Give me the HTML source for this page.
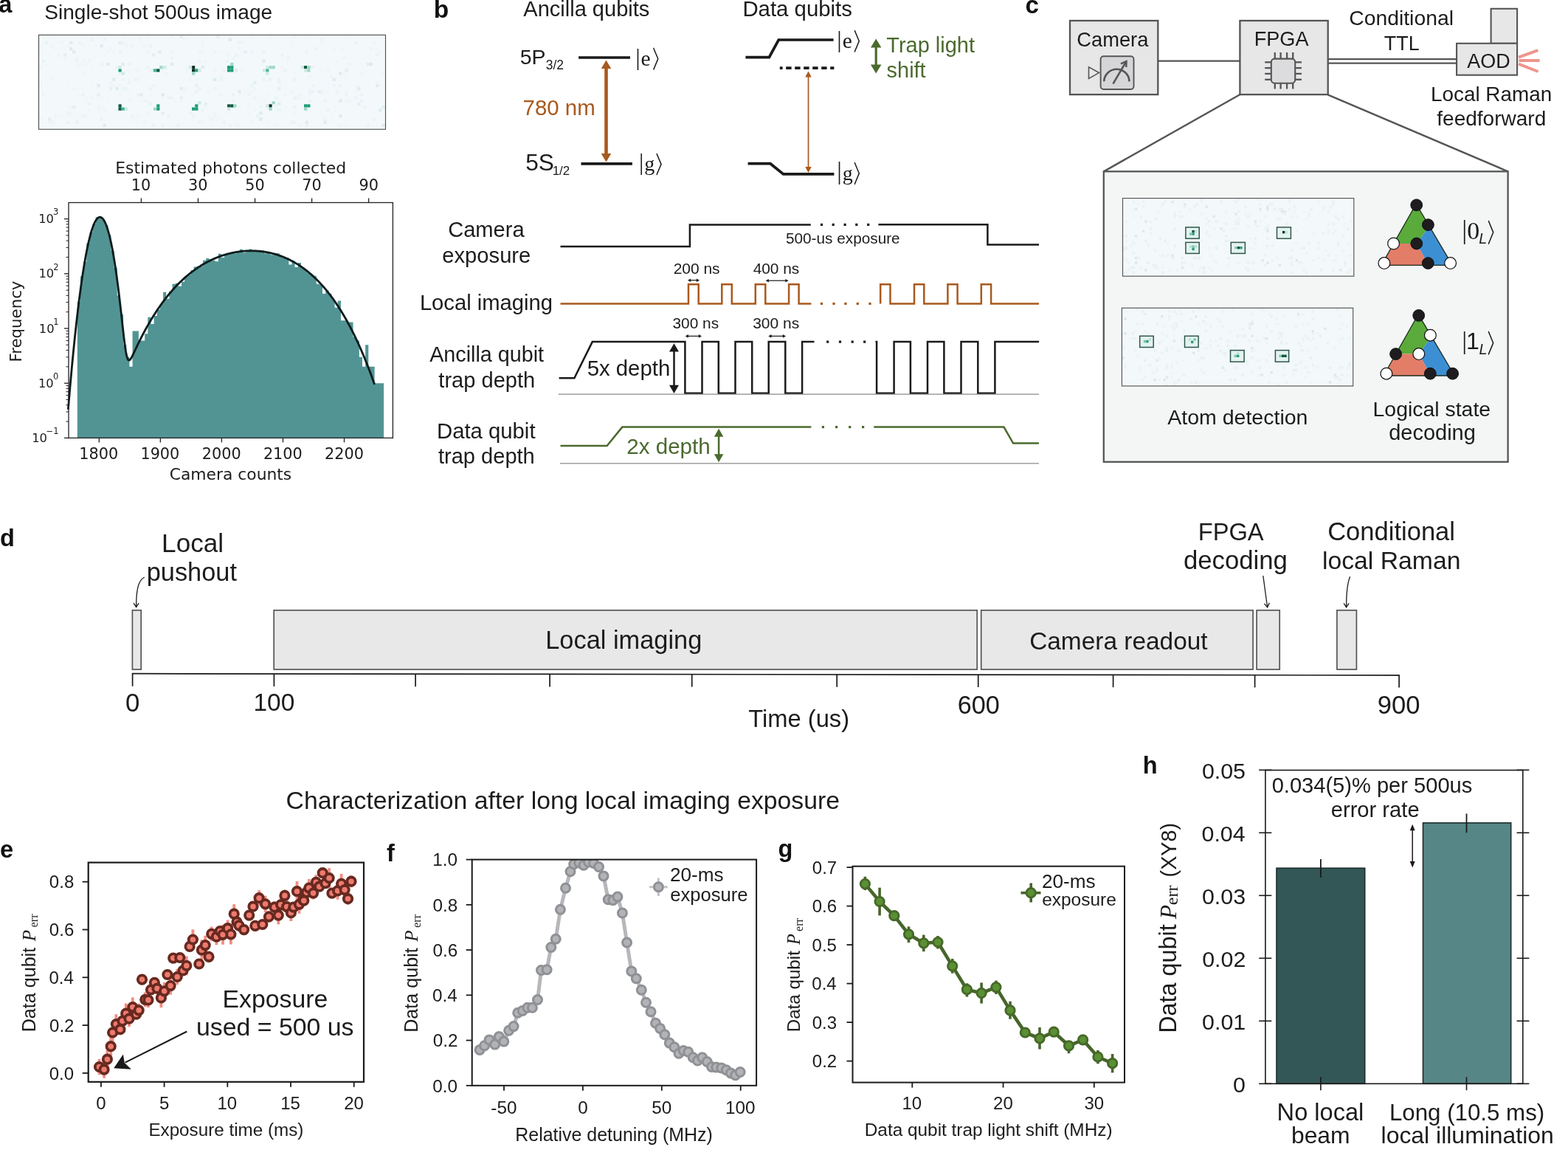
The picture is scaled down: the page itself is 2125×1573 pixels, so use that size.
<!DOCTYPE html>
<html><head><meta charset="utf-8"><title>figure</title>
<style>html,body{margin:0;padding:0;background:#fff;overflow:hidden}svg{display:block}text{font-family:"Liberation Sans",Arial,sans-serif;}</style></head>
<body>
<svg width="2125" height="1573" viewBox="0 0 2125 1573">
<rect x="0" y="0" width="2125" height="1573" fill="#ffffff"/>
<text x="-1.68" y="17.20" style="font-family:'Liberation Sans', Arial, sans-serif;font-size:32.50px;font-weight:bold" fill="#111">a</text>
<text x="60.24" y="26.40" style="font-family:'Liberation Sans', Arial, sans-serif;font-size:28.07px" fill="#1c1c1c">Single-shot 500us image</text>
<rect x="52.50" y="47.40" width="470.00" height="127.80" fill="#f3f9fb" stroke="none" stroke-width="0.00"/>
<rect x="52.50" y="59.85" width="4.35" height="4.35" fill="#edf5f7" stroke="none" stroke-width="0.00"/>
<rect x="52.50" y="68.15" width="4.35" height="4.35" fill="#eef6f8" stroke="none" stroke-width="0.00"/>
<rect x="52.50" y="72.30" width="4.35" height="4.35" fill="#f0f7f9" stroke="none" stroke-width="0.00"/>
<rect x="52.50" y="88.90" width="4.35" height="4.35" fill="#edf5f7" stroke="none" stroke-width="0.00"/>
<rect x="52.50" y="105.50" width="4.35" height="4.35" fill="#f0f7f9" stroke="none" stroke-width="0.00"/>
<rect x="52.50" y="109.65" width="4.35" height="4.35" fill="#eef6f8" stroke="none" stroke-width="0.00"/>
<rect x="52.50" y="113.80" width="4.35" height="4.35" fill="#eef6f8" stroke="none" stroke-width="0.00"/>
<rect x="52.50" y="159.45" width="4.35" height="4.35" fill="#edf5f7" stroke="none" stroke-width="0.00"/>
<rect x="56.65" y="80.60" width="4.35" height="4.35" fill="#eaf3f5" stroke="none" stroke-width="0.00"/>
<rect x="56.65" y="126.25" width="4.35" height="4.35" fill="#edf5f7" stroke="none" stroke-width="0.00"/>
<rect x="60.80" y="55.70" width="4.35" height="4.35" fill="#eaf3f5" stroke="none" stroke-width="0.00"/>
<rect x="60.80" y="84.75" width="4.35" height="4.35" fill="#f0f7f9" stroke="none" stroke-width="0.00"/>
<rect x="64.95" y="47.40" width="4.35" height="4.35" fill="#eef6f8" stroke="none" stroke-width="0.00"/>
<rect x="64.95" y="72.30" width="4.35" height="4.35" fill="#f0f7f9" stroke="none" stroke-width="0.00"/>
<rect x="64.95" y="159.45" width="4.35" height="4.35" fill="#e3eff1" stroke="none" stroke-width="0.00"/>
<rect x="64.95" y="163.60" width="4.35" height="4.35" fill="#edf5f7" stroke="none" stroke-width="0.00"/>
<rect x="69.10" y="59.85" width="4.35" height="4.35" fill="#eef6f8" stroke="none" stroke-width="0.00"/>
<rect x="69.10" y="105.50" width="4.35" height="4.35" fill="#edf5f7" stroke="none" stroke-width="0.00"/>
<rect x="69.10" y="163.60" width="4.35" height="4.35" fill="#eaf3f5" stroke="none" stroke-width="0.00"/>
<rect x="73.25" y="155.30" width="4.35" height="4.35" fill="#edf5f7" stroke="none" stroke-width="0.00"/>
<rect x="77.40" y="72.30" width="4.35" height="4.35" fill="#edf5f7" stroke="none" stroke-width="0.00"/>
<rect x="81.55" y="55.70" width="4.35" height="4.35" fill="#edf5f7" stroke="none" stroke-width="0.00"/>
<rect x="81.55" y="155.30" width="4.35" height="4.35" fill="#f0f7f9" stroke="none" stroke-width="0.00"/>
<rect x="85.70" y="64.00" width="4.35" height="4.35" fill="#f0f7f9" stroke="none" stroke-width="0.00"/>
<rect x="85.70" y="72.30" width="4.35" height="4.35" fill="#e3eff1" stroke="none" stroke-width="0.00"/>
<rect x="85.70" y="76.45" width="4.35" height="4.35" fill="#eef6f8" stroke="none" stroke-width="0.00"/>
<rect x="89.85" y="59.85" width="4.35" height="4.35" fill="#eef6f8" stroke="none" stroke-width="0.00"/>
<rect x="89.85" y="113.80" width="4.35" height="4.35" fill="#f0f7f9" stroke="none" stroke-width="0.00"/>
<rect x="89.85" y="151.15" width="4.35" height="4.35" fill="#eaf3f5" stroke="none" stroke-width="0.00"/>
<rect x="89.85" y="155.30" width="4.35" height="4.35" fill="#f0f7f9" stroke="none" stroke-width="0.00"/>
<rect x="89.85" y="163.60" width="4.35" height="4.35" fill="#eaf3f5" stroke="none" stroke-width="0.00"/>
<rect x="94.00" y="55.70" width="4.35" height="4.35" fill="#e0ecef" stroke="none" stroke-width="0.00"/>
<rect x="94.00" y="64.00" width="4.35" height="4.35" fill="#ddece9" stroke="none" stroke-width="0.00"/>
<rect x="94.00" y="142.85" width="4.35" height="4.35" fill="#edf5f7" stroke="none" stroke-width="0.00"/>
<rect x="94.00" y="151.15" width="4.35" height="4.35" fill="#eef6f8" stroke="none" stroke-width="0.00"/>
<rect x="94.00" y="155.30" width="4.35" height="4.35" fill="#edf5f7" stroke="none" stroke-width="0.00"/>
<rect x="98.15" y="68.15" width="4.35" height="4.35" fill="#e0ecef" stroke="none" stroke-width="0.00"/>
<rect x="98.15" y="117.95" width="4.35" height="4.35" fill="#edf5f7" stroke="none" stroke-width="0.00"/>
<rect x="98.15" y="142.85" width="4.35" height="4.35" fill="#e3eff1" stroke="none" stroke-width="0.00"/>
<rect x="102.30" y="76.45" width="4.35" height="4.35" fill="#eef6f8" stroke="none" stroke-width="0.00"/>
<rect x="102.30" y="80.60" width="4.35" height="4.35" fill="#eaf3f5" stroke="none" stroke-width="0.00"/>
<rect x="102.30" y="88.90" width="4.35" height="4.35" fill="#f0f7f9" stroke="none" stroke-width="0.00"/>
<rect x="102.30" y="159.45" width="4.35" height="4.35" fill="#f0f7f9" stroke="none" stroke-width="0.00"/>
<rect x="102.30" y="163.60" width="4.35" height="4.35" fill="#eaf3f5" stroke="none" stroke-width="0.00"/>
<rect x="106.45" y="55.70" width="4.35" height="4.35" fill="#eaf3f5" stroke="none" stroke-width="0.00"/>
<rect x="106.45" y="84.75" width="4.35" height="4.35" fill="#eef6f8" stroke="none" stroke-width="0.00"/>
<rect x="106.45" y="126.25" width="4.35" height="4.35" fill="#f0f7f9" stroke="none" stroke-width="0.00"/>
<rect x="110.60" y="59.85" width="4.35" height="4.35" fill="#eef6f8" stroke="none" stroke-width="0.00"/>
<rect x="110.60" y="80.60" width="4.35" height="4.35" fill="#edf5f7" stroke="none" stroke-width="0.00"/>
<rect x="110.60" y="97.20" width="4.35" height="4.35" fill="#edf5f7" stroke="none" stroke-width="0.00"/>
<rect x="110.60" y="117.95" width="4.35" height="4.35" fill="#f0f7f9" stroke="none" stroke-width="0.00"/>
<rect x="110.60" y="126.25" width="4.35" height="4.35" fill="#eaf3f5" stroke="none" stroke-width="0.00"/>
<rect x="110.60" y="155.30" width="4.35" height="4.35" fill="#eaf3f5" stroke="none" stroke-width="0.00"/>
<rect x="114.75" y="47.40" width="4.35" height="4.35" fill="#eef6f8" stroke="none" stroke-width="0.00"/>
<rect x="114.75" y="84.75" width="4.35" height="4.35" fill="#eef6f8" stroke="none" stroke-width="0.00"/>
<rect x="114.75" y="130.40" width="4.35" height="4.35" fill="#f0f7f9" stroke="none" stroke-width="0.00"/>
<rect x="114.75" y="134.55" width="4.35" height="4.35" fill="#f0f7f9" stroke="none" stroke-width="0.00"/>
<rect x="114.75" y="155.30" width="4.35" height="4.35" fill="#edf5f7" stroke="none" stroke-width="0.00"/>
<rect x="118.90" y="80.60" width="4.35" height="4.35" fill="#edf5f7" stroke="none" stroke-width="0.00"/>
<rect x="118.90" y="138.70" width="4.35" height="4.35" fill="#eaf3f5" stroke="none" stroke-width="0.00"/>
<rect x="118.90" y="147.00" width="4.35" height="4.35" fill="#f0f7f9" stroke="none" stroke-width="0.00"/>
<rect x="123.05" y="47.40" width="4.35" height="4.35" fill="#edf5f7" stroke="none" stroke-width="0.00"/>
<rect x="123.05" y="51.55" width="4.35" height="4.35" fill="#eaf3f5" stroke="none" stroke-width="0.00"/>
<rect x="123.05" y="88.90" width="4.35" height="4.35" fill="#f0f7f9" stroke="none" stroke-width="0.00"/>
<rect x="123.05" y="109.65" width="4.35" height="4.35" fill="#f0f7f9" stroke="none" stroke-width="0.00"/>
<rect x="123.05" y="130.40" width="4.35" height="4.35" fill="#eef6f8" stroke="none" stroke-width="0.00"/>
<rect x="127.20" y="59.85" width="4.35" height="4.35" fill="#f0f7f9" stroke="none" stroke-width="0.00"/>
<rect x="127.20" y="117.95" width="4.35" height="4.35" fill="#f0f7f9" stroke="none" stroke-width="0.00"/>
<rect x="131.35" y="47.40" width="4.35" height="4.35" fill="#eef6f8" stroke="none" stroke-width="0.00"/>
<rect x="131.35" y="101.35" width="4.35" height="4.35" fill="#f0f7f9" stroke="none" stroke-width="0.00"/>
<rect x="131.35" y="113.80" width="4.35" height="4.35" fill="#e0ecef" stroke="none" stroke-width="0.00"/>
<rect x="131.35" y="126.25" width="4.35" height="4.35" fill="#e3eff1" stroke="none" stroke-width="0.00"/>
<rect x="131.35" y="142.85" width="4.35" height="4.35" fill="#edf5f7" stroke="none" stroke-width="0.00"/>
<rect x="131.35" y="147.00" width="4.35" height="4.35" fill="#eef6f8" stroke="none" stroke-width="0.00"/>
<rect x="135.50" y="59.85" width="4.35" height="4.35" fill="#e0ecef" stroke="none" stroke-width="0.00"/>
<rect x="135.50" y="84.75" width="4.35" height="4.35" fill="#eaf3f5" stroke="none" stroke-width="0.00"/>
<rect x="135.50" y="117.95" width="4.35" height="4.35" fill="#f0f7f9" stroke="none" stroke-width="0.00"/>
<rect x="135.50" y="130.40" width="4.35" height="4.35" fill="#f0f7f9" stroke="none" stroke-width="0.00"/>
<rect x="135.50" y="142.85" width="4.35" height="4.35" fill="#eef6f8" stroke="none" stroke-width="0.00"/>
<rect x="135.50" y="159.45" width="4.35" height="4.35" fill="#eaf3f5" stroke="none" stroke-width="0.00"/>
<rect x="139.65" y="51.55" width="4.35" height="4.35" fill="#eaf3f5" stroke="none" stroke-width="0.00"/>
<rect x="139.65" y="147.00" width="4.35" height="4.35" fill="#edf5f7" stroke="none" stroke-width="0.00"/>
<rect x="139.65" y="167.75" width="4.35" height="4.35" fill="#e0ecef" stroke="none" stroke-width="0.00"/>
<rect x="143.80" y="68.15" width="4.35" height="4.35" fill="#f0f7f9" stroke="none" stroke-width="0.00"/>
<rect x="143.80" y="84.75" width="4.35" height="4.35" fill="#e0ecef" stroke="none" stroke-width="0.00"/>
<rect x="143.80" y="130.40" width="4.35" height="4.35" fill="#f0f7f9" stroke="none" stroke-width="0.00"/>
<rect x="147.95" y="64.00" width="4.35" height="4.35" fill="#eef6f8" stroke="none" stroke-width="0.00"/>
<rect x="147.95" y="109.65" width="4.35" height="4.35" fill="#edf5f7" stroke="none" stroke-width="0.00"/>
<rect x="147.95" y="113.80" width="4.35" height="4.35" fill="#eef6f8" stroke="none" stroke-width="0.00"/>
<rect x="147.95" y="117.95" width="4.35" height="4.35" fill="#e3eff1" stroke="none" stroke-width="0.00"/>
<rect x="152.10" y="68.15" width="4.35" height="4.35" fill="#eef6f8" stroke="none" stroke-width="0.00"/>
<rect x="152.10" y="105.50" width="4.35" height="4.35" fill="#e0ecef" stroke="none" stroke-width="0.00"/>
<rect x="152.10" y="113.80" width="4.35" height="4.35" fill="#edf5f7" stroke="none" stroke-width="0.00"/>
<rect x="156.25" y="88.90" width="4.35" height="4.35" fill="#eaf3f5" stroke="none" stroke-width="0.00"/>
<rect x="156.25" y="117.95" width="4.35" height="4.35" fill="#ddece9" stroke="none" stroke-width="0.00"/>
<rect x="156.25" y="147.00" width="4.35" height="4.35" fill="#eef6f8" stroke="none" stroke-width="0.00"/>
<rect x="160.40" y="55.70" width="4.35" height="4.35" fill="#e3eff1" stroke="none" stroke-width="0.00"/>
<rect x="160.40" y="68.15" width="4.35" height="4.35" fill="#eaf3f5" stroke="none" stroke-width="0.00"/>
<rect x="160.40" y="97.20" width="4.35" height="4.35" fill="#eaf3f5" stroke="none" stroke-width="0.00"/>
<rect x="160.40" y="113.80" width="4.35" height="4.35" fill="#edf5f7" stroke="none" stroke-width="0.00"/>
<rect x="160.40" y="126.25" width="4.35" height="4.35" fill="#edf5f7" stroke="none" stroke-width="0.00"/>
<rect x="164.55" y="47.40" width="4.35" height="4.35" fill="#eaf3f5" stroke="none" stroke-width="0.00"/>
<rect x="164.55" y="55.70" width="4.35" height="4.35" fill="#eaf3f5" stroke="none" stroke-width="0.00"/>
<rect x="164.55" y="84.75" width="4.35" height="4.35" fill="#e0ecef" stroke="none" stroke-width="0.00"/>
<rect x="164.55" y="105.50" width="4.35" height="4.35" fill="#eef6f8" stroke="none" stroke-width="0.00"/>
<rect x="164.55" y="117.95" width="4.35" height="4.35" fill="#eaf3f5" stroke="none" stroke-width="0.00"/>
<rect x="164.55" y="142.85" width="4.35" height="4.35" fill="#f0f7f9" stroke="none" stroke-width="0.00"/>
<rect x="168.70" y="55.70" width="4.35" height="4.35" fill="#f0f7f9" stroke="none" stroke-width="0.00"/>
<rect x="168.70" y="59.85" width="4.35" height="4.35" fill="#eef6f8" stroke="none" stroke-width="0.00"/>
<rect x="168.70" y="93.05" width="4.35" height="4.35" fill="#eef6f8" stroke="none" stroke-width="0.00"/>
<rect x="168.70" y="117.95" width="4.35" height="4.35" fill="#edf5f7" stroke="none" stroke-width="0.00"/>
<rect x="172.85" y="51.55" width="4.35" height="4.35" fill="#f0f7f9" stroke="none" stroke-width="0.00"/>
<rect x="172.85" y="84.75" width="4.35" height="4.35" fill="#eaf3f5" stroke="none" stroke-width="0.00"/>
<rect x="172.85" y="93.05" width="4.35" height="4.35" fill="#f0f7f9" stroke="none" stroke-width="0.00"/>
<rect x="172.85" y="105.50" width="4.35" height="4.35" fill="#eef6f8" stroke="none" stroke-width="0.00"/>
<rect x="172.85" y="109.65" width="4.35" height="4.35" fill="#eaf3f5" stroke="none" stroke-width="0.00"/>
<rect x="172.85" y="122.10" width="4.35" height="4.35" fill="#f0f7f9" stroke="none" stroke-width="0.00"/>
<rect x="172.85" y="134.55" width="4.35" height="4.35" fill="#edf5f7" stroke="none" stroke-width="0.00"/>
<rect x="177.00" y="59.85" width="4.35" height="4.35" fill="#eaf3f5" stroke="none" stroke-width="0.00"/>
<rect x="177.00" y="155.30" width="4.35" height="4.35" fill="#eaf3f5" stroke="none" stroke-width="0.00"/>
<rect x="181.15" y="93.05" width="4.35" height="4.35" fill="#eef6f8" stroke="none" stroke-width="0.00"/>
<rect x="181.15" y="105.50" width="4.35" height="4.35" fill="#eaf3f5" stroke="none" stroke-width="0.00"/>
<rect x="181.15" y="159.45" width="4.35" height="4.35" fill="#f0f7f9" stroke="none" stroke-width="0.00"/>
<rect x="185.30" y="47.40" width="4.35" height="4.35" fill="#edf5f7" stroke="none" stroke-width="0.00"/>
<rect x="185.30" y="93.05" width="4.35" height="4.35" fill="#eef6f8" stroke="none" stroke-width="0.00"/>
<rect x="185.30" y="105.50" width="4.35" height="4.35" fill="#eef6f8" stroke="none" stroke-width="0.00"/>
<rect x="185.30" y="126.25" width="4.35" height="4.35" fill="#eaf3f5" stroke="none" stroke-width="0.00"/>
<rect x="185.30" y="155.30" width="4.35" height="4.35" fill="#edf5f7" stroke="none" stroke-width="0.00"/>
<rect x="189.45" y="47.40" width="4.35" height="4.35" fill="#edf5f7" stroke="none" stroke-width="0.00"/>
<rect x="189.45" y="51.55" width="4.35" height="4.35" fill="#eef6f8" stroke="none" stroke-width="0.00"/>
<rect x="189.45" y="93.05" width="4.35" height="4.35" fill="#f0f7f9" stroke="none" stroke-width="0.00"/>
<rect x="189.45" y="101.35" width="4.35" height="4.35" fill="#f0f7f9" stroke="none" stroke-width="0.00"/>
<rect x="189.45" y="126.25" width="4.35" height="4.35" fill="#e0ecef" stroke="none" stroke-width="0.00"/>
<rect x="189.45" y="155.30" width="4.35" height="4.35" fill="#f0f7f9" stroke="none" stroke-width="0.00"/>
<rect x="193.60" y="59.85" width="4.35" height="4.35" fill="#edf5f7" stroke="none" stroke-width="0.00"/>
<rect x="193.60" y="134.55" width="4.35" height="4.35" fill="#edf5f7" stroke="none" stroke-width="0.00"/>
<rect x="193.60" y="163.60" width="4.35" height="4.35" fill="#eef6f8" stroke="none" stroke-width="0.00"/>
<rect x="197.75" y="47.40" width="4.35" height="4.35" fill="#edf5f7" stroke="none" stroke-width="0.00"/>
<rect x="197.75" y="68.15" width="4.35" height="4.35" fill="#eef6f8" stroke="none" stroke-width="0.00"/>
<rect x="197.75" y="88.90" width="4.35" height="4.35" fill="#eaf3f5" stroke="none" stroke-width="0.00"/>
<rect x="197.75" y="134.55" width="4.35" height="4.35" fill="#edf5f7" stroke="none" stroke-width="0.00"/>
<rect x="197.75" y="151.15" width="4.35" height="4.35" fill="#edf5f7" stroke="none" stroke-width="0.00"/>
<rect x="201.90" y="59.85" width="4.35" height="4.35" fill="#eaf3f5" stroke="none" stroke-width="0.00"/>
<rect x="201.90" y="93.05" width="4.35" height="4.35" fill="#edf5f7" stroke="none" stroke-width="0.00"/>
<rect x="201.90" y="117.95" width="4.35" height="4.35" fill="#eaf3f5" stroke="none" stroke-width="0.00"/>
<rect x="201.90" y="126.25" width="4.35" height="4.35" fill="#eef6f8" stroke="none" stroke-width="0.00"/>
<rect x="201.90" y="138.70" width="4.35" height="4.35" fill="#eaf3f5" stroke="none" stroke-width="0.00"/>
<rect x="206.05" y="72.30" width="4.35" height="4.35" fill="#e3eff1" stroke="none" stroke-width="0.00"/>
<rect x="206.05" y="93.05" width="4.35" height="4.35" fill="#ddece9" stroke="none" stroke-width="0.00"/>
<rect x="206.05" y="113.80" width="4.35" height="4.35" fill="#edf5f7" stroke="none" stroke-width="0.00"/>
<rect x="206.05" y="167.75" width="4.35" height="4.35" fill="#eaf3f5" stroke="none" stroke-width="0.00"/>
<rect x="214.35" y="68.15" width="4.35" height="4.35" fill="#e0ecef" stroke="none" stroke-width="0.00"/>
<rect x="214.35" y="84.75" width="4.35" height="4.35" fill="#f0f7f9" stroke="none" stroke-width="0.00"/>
<rect x="218.50" y="64.00" width="4.35" height="4.35" fill="#f0f7f9" stroke="none" stroke-width="0.00"/>
<rect x="218.50" y="93.05" width="4.35" height="4.35" fill="#f0f7f9" stroke="none" stroke-width="0.00"/>
<rect x="218.50" y="117.95" width="4.35" height="4.35" fill="#f0f7f9" stroke="none" stroke-width="0.00"/>
<rect x="218.50" y="126.25" width="4.35" height="4.35" fill="#ddece9" stroke="none" stroke-width="0.00"/>
<rect x="218.50" y="151.15" width="4.35" height="4.35" fill="#e3eff1" stroke="none" stroke-width="0.00"/>
<rect x="218.50" y="167.75" width="4.35" height="4.35" fill="#eaf3f5" stroke="none" stroke-width="0.00"/>
<rect x="222.65" y="88.90" width="4.35" height="4.35" fill="#eaf3f5" stroke="none" stroke-width="0.00"/>
<rect x="222.65" y="97.20" width="4.35" height="4.35" fill="#edf5f7" stroke="none" stroke-width="0.00"/>
<rect x="226.80" y="130.40" width="4.35" height="4.35" fill="#eaf3f5" stroke="none" stroke-width="0.00"/>
<rect x="226.80" y="155.30" width="4.35" height="4.35" fill="#eaf3f5" stroke="none" stroke-width="0.00"/>
<rect x="230.95" y="47.40" width="4.35" height="4.35" fill="#eaf3f5" stroke="none" stroke-width="0.00"/>
<rect x="230.95" y="68.15" width="4.35" height="4.35" fill="#edf5f7" stroke="none" stroke-width="0.00"/>
<rect x="230.95" y="76.45" width="4.35" height="4.35" fill="#eaf3f5" stroke="none" stroke-width="0.00"/>
<rect x="230.95" y="84.75" width="4.35" height="4.35" fill="#e0ecef" stroke="none" stroke-width="0.00"/>
<rect x="230.95" y="130.40" width="4.35" height="4.35" fill="#eaf3f5" stroke="none" stroke-width="0.00"/>
<rect x="235.10" y="55.70" width="4.35" height="4.35" fill="#f0f7f9" stroke="none" stroke-width="0.00"/>
<rect x="235.10" y="134.55" width="4.35" height="4.35" fill="#edf5f7" stroke="none" stroke-width="0.00"/>
<rect x="235.10" y="167.75" width="4.35" height="4.35" fill="#f0f7f9" stroke="none" stroke-width="0.00"/>
<rect x="239.25" y="159.45" width="4.35" height="4.35" fill="#f0f7f9" stroke="none" stroke-width="0.00"/>
<rect x="239.25" y="167.75" width="4.35" height="4.35" fill="#eaf3f5" stroke="none" stroke-width="0.00"/>
<rect x="243.40" y="47.40" width="4.35" height="4.35" fill="#e0ecef" stroke="none" stroke-width="0.00"/>
<rect x="243.40" y="117.95" width="4.35" height="4.35" fill="#e0ecef" stroke="none" stroke-width="0.00"/>
<rect x="243.40" y="130.40" width="4.35" height="4.35" fill="#e3eff1" stroke="none" stroke-width="0.00"/>
<rect x="243.40" y="134.55" width="4.35" height="4.35" fill="#eef6f8" stroke="none" stroke-width="0.00"/>
<rect x="247.55" y="51.55" width="4.35" height="4.35" fill="#edf5f7" stroke="none" stroke-width="0.00"/>
<rect x="247.55" y="76.45" width="4.35" height="4.35" fill="#f0f7f9" stroke="none" stroke-width="0.00"/>
<rect x="247.55" y="105.50" width="4.35" height="4.35" fill="#f0f7f9" stroke="none" stroke-width="0.00"/>
<rect x="247.55" y="117.95" width="4.35" height="4.35" fill="#edf5f7" stroke="none" stroke-width="0.00"/>
<rect x="247.55" y="122.10" width="4.35" height="4.35" fill="#edf5f7" stroke="none" stroke-width="0.00"/>
<rect x="251.70" y="88.90" width="4.35" height="4.35" fill="#edf5f7" stroke="none" stroke-width="0.00"/>
<rect x="251.70" y="93.05" width="4.35" height="4.35" fill="#edf5f7" stroke="none" stroke-width="0.00"/>
<rect x="255.85" y="105.50" width="4.35" height="4.35" fill="#eef6f8" stroke="none" stroke-width="0.00"/>
<rect x="255.85" y="151.15" width="4.35" height="4.35" fill="#eaf3f5" stroke="none" stroke-width="0.00"/>
<rect x="260.00" y="126.25" width="4.35" height="4.35" fill="#f0f7f9" stroke="none" stroke-width="0.00"/>
<rect x="260.00" y="155.30" width="4.35" height="4.35" fill="#eaf3f5" stroke="none" stroke-width="0.00"/>
<rect x="264.15" y="105.50" width="4.35" height="4.35" fill="#f0f7f9" stroke="none" stroke-width="0.00"/>
<rect x="264.15" y="113.80" width="4.35" height="4.35" fill="#e3eff1" stroke="none" stroke-width="0.00"/>
<rect x="264.15" y="122.10" width="4.35" height="4.35" fill="#eaf3f5" stroke="none" stroke-width="0.00"/>
<rect x="264.15" y="138.70" width="4.35" height="4.35" fill="#edf5f7" stroke="none" stroke-width="0.00"/>
<rect x="268.30" y="47.40" width="4.35" height="4.35" fill="#f0f7f9" stroke="none" stroke-width="0.00"/>
<rect x="268.30" y="68.15" width="4.35" height="4.35" fill="#eef6f8" stroke="none" stroke-width="0.00"/>
<rect x="268.30" y="80.60" width="4.35" height="4.35" fill="#edf5f7" stroke="none" stroke-width="0.00"/>
<rect x="268.30" y="105.50" width="4.35" height="4.35" fill="#f0f7f9" stroke="none" stroke-width="0.00"/>
<rect x="268.30" y="117.95" width="4.35" height="4.35" fill="#eaf3f5" stroke="none" stroke-width="0.00"/>
<rect x="268.30" y="163.60" width="4.35" height="4.35" fill="#eaf3f5" stroke="none" stroke-width="0.00"/>
<rect x="272.45" y="47.40" width="4.35" height="4.35" fill="#edf5f7" stroke="none" stroke-width="0.00"/>
<rect x="272.45" y="55.70" width="4.35" height="4.35" fill="#f0f7f9" stroke="none" stroke-width="0.00"/>
<rect x="272.45" y="59.85" width="4.35" height="4.35" fill="#eef6f8" stroke="none" stroke-width="0.00"/>
<rect x="272.45" y="68.15" width="4.35" height="4.35" fill="#eef6f8" stroke="none" stroke-width="0.00"/>
<rect x="272.45" y="88.90" width="4.35" height="4.35" fill="#ddece9" stroke="none" stroke-width="0.00"/>
<rect x="272.45" y="147.00" width="4.35" height="4.35" fill="#eaf3f5" stroke="none" stroke-width="0.00"/>
<rect x="272.45" y="163.60" width="4.35" height="4.35" fill="#f0f7f9" stroke="none" stroke-width="0.00"/>
<rect x="276.60" y="80.60" width="4.35" height="4.35" fill="#f0f7f9" stroke="none" stroke-width="0.00"/>
<rect x="276.60" y="138.70" width="4.35" height="4.35" fill="#e3eff1" stroke="none" stroke-width="0.00"/>
<rect x="276.60" y="142.85" width="4.35" height="4.35" fill="#eef6f8" stroke="none" stroke-width="0.00"/>
<rect x="280.75" y="122.10" width="4.35" height="4.35" fill="#f0f7f9" stroke="none" stroke-width="0.00"/>
<rect x="280.75" y="155.30" width="4.35" height="4.35" fill="#edf5f7" stroke="none" stroke-width="0.00"/>
<rect x="284.90" y="72.30" width="4.35" height="4.35" fill="#f0f7f9" stroke="none" stroke-width="0.00"/>
<rect x="284.90" y="105.50" width="4.35" height="4.35" fill="#f0f7f9" stroke="none" stroke-width="0.00"/>
<rect x="284.90" y="151.15" width="4.35" height="4.35" fill="#f0f7f9" stroke="none" stroke-width="0.00"/>
<rect x="284.90" y="159.45" width="4.35" height="4.35" fill="#eaf3f5" stroke="none" stroke-width="0.00"/>
<rect x="289.05" y="68.15" width="4.35" height="4.35" fill="#edf5f7" stroke="none" stroke-width="0.00"/>
<rect x="289.05" y="93.05" width="4.35" height="4.35" fill="#edf5f7" stroke="none" stroke-width="0.00"/>
<rect x="289.05" y="105.50" width="4.35" height="4.35" fill="#ddece9" stroke="none" stroke-width="0.00"/>
<rect x="289.05" y="117.95" width="4.35" height="4.35" fill="#eef6f8" stroke="none" stroke-width="0.00"/>
<rect x="289.05" y="151.15" width="4.35" height="4.35" fill="#eef6f8" stroke="none" stroke-width="0.00"/>
<rect x="289.05" y="155.30" width="4.35" height="4.35" fill="#edf5f7" stroke="none" stroke-width="0.00"/>
<rect x="293.20" y="47.40" width="4.35" height="4.35" fill="#e0ecef" stroke="none" stroke-width="0.00"/>
<rect x="293.20" y="159.45" width="4.35" height="4.35" fill="#eef6f8" stroke="none" stroke-width="0.00"/>
<rect x="297.35" y="68.15" width="4.35" height="4.35" fill="#f0f7f9" stroke="none" stroke-width="0.00"/>
<rect x="297.35" y="101.35" width="4.35" height="4.35" fill="#edf5f7" stroke="none" stroke-width="0.00"/>
<rect x="297.35" y="105.50" width="4.35" height="4.35" fill="#eaf3f5" stroke="none" stroke-width="0.00"/>
<rect x="297.35" y="126.25" width="4.35" height="4.35" fill="#edf5f7" stroke="none" stroke-width="0.00"/>
<rect x="301.50" y="93.05" width="4.35" height="4.35" fill="#eaf3f5" stroke="none" stroke-width="0.00"/>
<rect x="301.50" y="163.60" width="4.35" height="4.35" fill="#eaf3f5" stroke="none" stroke-width="0.00"/>
<rect x="305.65" y="72.30" width="4.35" height="4.35" fill="#edf5f7" stroke="none" stroke-width="0.00"/>
<rect x="305.65" y="80.60" width="4.35" height="4.35" fill="#eaf3f5" stroke="none" stroke-width="0.00"/>
<rect x="305.65" y="88.90" width="4.35" height="4.35" fill="#f0f7f9" stroke="none" stroke-width="0.00"/>
<rect x="305.65" y="151.15" width="4.35" height="4.35" fill="#f0f7f9" stroke="none" stroke-width="0.00"/>
<rect x="309.80" y="51.55" width="4.35" height="4.35" fill="#ddece9" stroke="none" stroke-width="0.00"/>
<rect x="309.80" y="167.75" width="4.35" height="4.35" fill="#eaf3f5" stroke="none" stroke-width="0.00"/>
<rect x="313.95" y="76.45" width="4.35" height="4.35" fill="#edf5f7" stroke="none" stroke-width="0.00"/>
<rect x="313.95" y="126.25" width="4.35" height="4.35" fill="#eaf3f5" stroke="none" stroke-width="0.00"/>
<rect x="313.95" y="134.55" width="4.35" height="4.35" fill="#edf5f7" stroke="none" stroke-width="0.00"/>
<rect x="313.95" y="142.85" width="4.35" height="4.35" fill="#eaf3f5" stroke="none" stroke-width="0.00"/>
<rect x="318.10" y="72.30" width="4.35" height="4.35" fill="#eaf3f5" stroke="none" stroke-width="0.00"/>
<rect x="318.10" y="93.05" width="4.35" height="4.35" fill="#ddece9" stroke="none" stroke-width="0.00"/>
<rect x="318.10" y="163.60" width="4.35" height="4.35" fill="#f0f7f9" stroke="none" stroke-width="0.00"/>
<rect x="318.10" y="167.75" width="4.35" height="4.35" fill="#edf5f7" stroke="none" stroke-width="0.00"/>
<rect x="322.25" y="55.70" width="4.35" height="4.35" fill="#eaf3f5" stroke="none" stroke-width="0.00"/>
<rect x="322.25" y="64.00" width="4.35" height="4.35" fill="#edf5f7" stroke="none" stroke-width="0.00"/>
<rect x="322.25" y="122.10" width="4.35" height="4.35" fill="#e0ecef" stroke="none" stroke-width="0.00"/>
<rect x="322.25" y="126.25" width="4.35" height="4.35" fill="#f0f7f9" stroke="none" stroke-width="0.00"/>
<rect x="322.25" y="142.85" width="4.35" height="4.35" fill="#edf5f7" stroke="none" stroke-width="0.00"/>
<rect x="322.25" y="167.75" width="4.35" height="4.35" fill="#edf5f7" stroke="none" stroke-width="0.00"/>
<rect x="326.40" y="55.70" width="4.35" height="4.35" fill="#eef6f8" stroke="none" stroke-width="0.00"/>
<rect x="326.40" y="68.15" width="4.35" height="4.35" fill="#f0f7f9" stroke="none" stroke-width="0.00"/>
<rect x="326.40" y="93.05" width="4.35" height="4.35" fill="#eef6f8" stroke="none" stroke-width="0.00"/>
<rect x="330.55" y="68.15" width="4.35" height="4.35" fill="#e3eff1" stroke="none" stroke-width="0.00"/>
<rect x="330.55" y="122.10" width="4.35" height="4.35" fill="#eef6f8" stroke="none" stroke-width="0.00"/>
<rect x="334.70" y="126.25" width="4.35" height="4.35" fill="#eaf3f5" stroke="none" stroke-width="0.00"/>
<rect x="334.70" y="138.70" width="4.35" height="4.35" fill="#eef6f8" stroke="none" stroke-width="0.00"/>
<rect x="334.70" y="151.15" width="4.35" height="4.35" fill="#eef6f8" stroke="none" stroke-width="0.00"/>
<rect x="338.85" y="47.40" width="4.35" height="4.35" fill="#eaf3f5" stroke="none" stroke-width="0.00"/>
<rect x="338.85" y="68.15" width="4.35" height="4.35" fill="#eaf3f5" stroke="none" stroke-width="0.00"/>
<rect x="338.85" y="113.80" width="4.35" height="4.35" fill="#eaf3f5" stroke="none" stroke-width="0.00"/>
<rect x="338.85" y="122.10" width="4.35" height="4.35" fill="#f0f7f9" stroke="none" stroke-width="0.00"/>
<rect x="338.85" y="163.60" width="4.35" height="4.35" fill="#edf5f7" stroke="none" stroke-width="0.00"/>
<rect x="343.00" y="109.65" width="4.35" height="4.35" fill="#e3eff1" stroke="none" stroke-width="0.00"/>
<rect x="343.00" y="117.95" width="4.35" height="4.35" fill="#edf5f7" stroke="none" stroke-width="0.00"/>
<rect x="343.00" y="130.40" width="4.35" height="4.35" fill="#eaf3f5" stroke="none" stroke-width="0.00"/>
<rect x="343.00" y="147.00" width="4.35" height="4.35" fill="#f0f7f9" stroke="none" stroke-width="0.00"/>
<rect x="347.15" y="155.30" width="4.35" height="4.35" fill="#eaf3f5" stroke="none" stroke-width="0.00"/>
<rect x="351.30" y="55.70" width="4.35" height="4.35" fill="#f0f7f9" stroke="none" stroke-width="0.00"/>
<rect x="351.30" y="134.55" width="4.35" height="4.35" fill="#f0f7f9" stroke="none" stroke-width="0.00"/>
<rect x="351.30" y="142.85" width="4.35" height="4.35" fill="#eaf3f5" stroke="none" stroke-width="0.00"/>
<rect x="351.30" y="151.15" width="4.35" height="4.35" fill="#ddece9" stroke="none" stroke-width="0.00"/>
<rect x="351.30" y="159.45" width="4.35" height="4.35" fill="#ddece9" stroke="none" stroke-width="0.00"/>
<rect x="355.45" y="55.70" width="4.35" height="4.35" fill="#f0f7f9" stroke="none" stroke-width="0.00"/>
<rect x="355.45" y="68.15" width="4.35" height="4.35" fill="#eaf3f5" stroke="none" stroke-width="0.00"/>
<rect x="355.45" y="80.60" width="4.35" height="4.35" fill="#ddece9" stroke="none" stroke-width="0.00"/>
<rect x="355.45" y="105.50" width="4.35" height="4.35" fill="#eaf3f5" stroke="none" stroke-width="0.00"/>
<rect x="355.45" y="134.55" width="4.35" height="4.35" fill="#f0f7f9" stroke="none" stroke-width="0.00"/>
<rect x="359.60" y="93.05" width="4.35" height="4.35" fill="#f0f7f9" stroke="none" stroke-width="0.00"/>
<rect x="359.60" y="126.25" width="4.35" height="4.35" fill="#eef6f8" stroke="none" stroke-width="0.00"/>
<rect x="359.60" y="142.85" width="4.35" height="4.35" fill="#edf5f7" stroke="none" stroke-width="0.00"/>
<rect x="359.60" y="163.60" width="4.35" height="4.35" fill="#f0f7f9" stroke="none" stroke-width="0.00"/>
<rect x="363.75" y="47.40" width="4.35" height="4.35" fill="#edf5f7" stroke="none" stroke-width="0.00"/>
<rect x="363.75" y="105.50" width="4.35" height="4.35" fill="#eaf3f5" stroke="none" stroke-width="0.00"/>
<rect x="363.75" y="138.70" width="4.35" height="4.35" fill="#edf5f7" stroke="none" stroke-width="0.00"/>
<rect x="372.05" y="130.40" width="4.35" height="4.35" fill="#eaf3f5" stroke="none" stroke-width="0.00"/>
<rect x="372.05" y="138.70" width="4.35" height="4.35" fill="#eef6f8" stroke="none" stroke-width="0.00"/>
<rect x="372.05" y="142.85" width="4.35" height="4.35" fill="#edf5f7" stroke="none" stroke-width="0.00"/>
<rect x="372.05" y="147.00" width="4.35" height="4.35" fill="#eef6f8" stroke="none" stroke-width="0.00"/>
<rect x="372.05" y="167.75" width="4.35" height="4.35" fill="#eef6f8" stroke="none" stroke-width="0.00"/>
<rect x="376.20" y="105.50" width="4.35" height="4.35" fill="#eaf3f5" stroke="none" stroke-width="0.00"/>
<rect x="376.20" y="109.65" width="4.35" height="4.35" fill="#eaf3f5" stroke="none" stroke-width="0.00"/>
<rect x="376.20" y="117.95" width="4.35" height="4.35" fill="#e3eff1" stroke="none" stroke-width="0.00"/>
<rect x="376.20" y="134.55" width="4.35" height="4.35" fill="#f0f7f9" stroke="none" stroke-width="0.00"/>
<rect x="376.20" y="138.70" width="4.35" height="4.35" fill="#e0ecef" stroke="none" stroke-width="0.00"/>
<rect x="376.20" y="147.00" width="4.35" height="4.35" fill="#eaf3f5" stroke="none" stroke-width="0.00"/>
<rect x="380.35" y="72.30" width="4.35" height="4.35" fill="#eaf3f5" stroke="none" stroke-width="0.00"/>
<rect x="380.35" y="88.90" width="4.35" height="4.35" fill="#edf5f7" stroke="none" stroke-width="0.00"/>
<rect x="380.35" y="93.05" width="4.35" height="4.35" fill="#f0f7f9" stroke="none" stroke-width="0.00"/>
<rect x="384.50" y="93.05" width="4.35" height="4.35" fill="#eaf3f5" stroke="none" stroke-width="0.00"/>
<rect x="384.50" y="126.25" width="4.35" height="4.35" fill="#eef6f8" stroke="none" stroke-width="0.00"/>
<rect x="388.65" y="76.45" width="4.35" height="4.35" fill="#eaf3f5" stroke="none" stroke-width="0.00"/>
<rect x="392.80" y="47.40" width="4.35" height="4.35" fill="#eef6f8" stroke="none" stroke-width="0.00"/>
<rect x="392.80" y="55.70" width="4.35" height="4.35" fill="#eef6f8" stroke="none" stroke-width="0.00"/>
<rect x="392.80" y="122.10" width="4.35" height="4.35" fill="#edf5f7" stroke="none" stroke-width="0.00"/>
<rect x="392.80" y="163.60" width="4.35" height="4.35" fill="#eaf3f5" stroke="none" stroke-width="0.00"/>
<rect x="396.95" y="47.40" width="4.35" height="4.35" fill="#eaf3f5" stroke="none" stroke-width="0.00"/>
<rect x="396.95" y="97.20" width="4.35" height="4.35" fill="#f0f7f9" stroke="none" stroke-width="0.00"/>
<rect x="396.95" y="105.50" width="4.35" height="4.35" fill="#eaf3f5" stroke="none" stroke-width="0.00"/>
<rect x="396.95" y="130.40" width="4.35" height="4.35" fill="#eaf3f5" stroke="none" stroke-width="0.00"/>
<rect x="396.95" y="142.85" width="4.35" height="4.35" fill="#eaf3f5" stroke="none" stroke-width="0.00"/>
<rect x="396.95" y="151.15" width="4.35" height="4.35" fill="#eef6f8" stroke="none" stroke-width="0.00"/>
<rect x="396.95" y="163.60" width="4.35" height="4.35" fill="#eaf3f5" stroke="none" stroke-width="0.00"/>
<rect x="401.10" y="126.25" width="4.35" height="4.35" fill="#f0f7f9" stroke="none" stroke-width="0.00"/>
<rect x="401.10" y="130.40" width="4.35" height="4.35" fill="#eaf3f5" stroke="none" stroke-width="0.00"/>
<rect x="405.25" y="126.25" width="4.35" height="4.35" fill="#edf5f7" stroke="none" stroke-width="0.00"/>
<rect x="405.25" y="130.40" width="4.35" height="4.35" fill="#f0f7f9" stroke="none" stroke-width="0.00"/>
<rect x="405.25" y="167.75" width="4.35" height="4.35" fill="#edf5f7" stroke="none" stroke-width="0.00"/>
<rect x="413.55" y="68.15" width="4.35" height="4.35" fill="#edf5f7" stroke="none" stroke-width="0.00"/>
<rect x="413.55" y="147.00" width="4.35" height="4.35" fill="#eef6f8" stroke="none" stroke-width="0.00"/>
<rect x="413.55" y="163.60" width="4.35" height="4.35" fill="#e0ecef" stroke="none" stroke-width="0.00"/>
<rect x="413.55" y="167.75" width="4.35" height="4.35" fill="#eaf3f5" stroke="none" stroke-width="0.00"/>
<rect x="417.70" y="47.40" width="4.35" height="4.35" fill="#edf5f7" stroke="none" stroke-width="0.00"/>
<rect x="417.70" y="88.90" width="4.35" height="4.35" fill="#ddece9" stroke="none" stroke-width="0.00"/>
<rect x="417.70" y="101.35" width="4.35" height="4.35" fill="#eef6f8" stroke="none" stroke-width="0.00"/>
<rect x="417.70" y="117.95" width="4.35" height="4.35" fill="#eef6f8" stroke="none" stroke-width="0.00"/>
<rect x="417.70" y="122.10" width="4.35" height="4.35" fill="#eaf3f5" stroke="none" stroke-width="0.00"/>
<rect x="417.70" y="126.25" width="4.35" height="4.35" fill="#edf5f7" stroke="none" stroke-width="0.00"/>
<rect x="417.70" y="134.55" width="4.35" height="4.35" fill="#eaf3f5" stroke="none" stroke-width="0.00"/>
<rect x="417.70" y="147.00" width="4.35" height="4.35" fill="#f0f7f9" stroke="none" stroke-width="0.00"/>
<rect x="421.85" y="88.90" width="4.35" height="4.35" fill="#eaf3f5" stroke="none" stroke-width="0.00"/>
<rect x="421.85" y="113.80" width="4.35" height="4.35" fill="#edf5f7" stroke="none" stroke-width="0.00"/>
<rect x="421.85" y="122.10" width="4.35" height="4.35" fill="#eaf3f5" stroke="none" stroke-width="0.00"/>
<rect x="426.00" y="64.00" width="4.35" height="4.35" fill="#eaf3f5" stroke="none" stroke-width="0.00"/>
<rect x="430.15" y="59.85" width="4.35" height="4.35" fill="#f0f7f9" stroke="none" stroke-width="0.00"/>
<rect x="430.15" y="122.10" width="4.35" height="4.35" fill="#e3eff1" stroke="none" stroke-width="0.00"/>
<rect x="434.30" y="47.40" width="4.35" height="4.35" fill="#eef6f8" stroke="none" stroke-width="0.00"/>
<rect x="434.30" y="51.55" width="4.35" height="4.35" fill="#eaf3f5" stroke="none" stroke-width="0.00"/>
<rect x="434.30" y="55.70" width="4.35" height="4.35" fill="#eef6f8" stroke="none" stroke-width="0.00"/>
<rect x="434.30" y="93.05" width="4.35" height="4.35" fill="#eef6f8" stroke="none" stroke-width="0.00"/>
<rect x="434.30" y="113.80" width="4.35" height="4.35" fill="#f0f7f9" stroke="none" stroke-width="0.00"/>
<rect x="434.30" y="122.10" width="4.35" height="4.35" fill="#eaf3f5" stroke="none" stroke-width="0.00"/>
<rect x="438.45" y="47.40" width="4.35" height="4.35" fill="#eef6f8" stroke="none" stroke-width="0.00"/>
<rect x="438.45" y="55.70" width="4.35" height="4.35" fill="#f0f7f9" stroke="none" stroke-width="0.00"/>
<rect x="438.45" y="80.60" width="4.35" height="4.35" fill="#f0f7f9" stroke="none" stroke-width="0.00"/>
<rect x="438.45" y="105.50" width="4.35" height="4.35" fill="#f0f7f9" stroke="none" stroke-width="0.00"/>
<rect x="438.45" y="134.55" width="4.35" height="4.35" fill="#eaf3f5" stroke="none" stroke-width="0.00"/>
<rect x="438.45" y="159.45" width="4.35" height="4.35" fill="#edf5f7" stroke="none" stroke-width="0.00"/>
<rect x="438.45" y="163.60" width="4.35" height="4.35" fill="#e0ecef" stroke="none" stroke-width="0.00"/>
<rect x="442.60" y="93.05" width="4.35" height="4.35" fill="#eef6f8" stroke="none" stroke-width="0.00"/>
<rect x="442.60" y="122.10" width="4.35" height="4.35" fill="#f0f7f9" stroke="none" stroke-width="0.00"/>
<rect x="442.60" y="147.00" width="4.35" height="4.35" fill="#eaf3f5" stroke="none" stroke-width="0.00"/>
<rect x="446.75" y="101.35" width="4.35" height="4.35" fill="#edf5f7" stroke="none" stroke-width="0.00"/>
<rect x="446.75" y="159.45" width="4.35" height="4.35" fill="#f0f7f9" stroke="none" stroke-width="0.00"/>
<rect x="450.90" y="64.00" width="4.35" height="4.35" fill="#eef6f8" stroke="none" stroke-width="0.00"/>
<rect x="450.90" y="105.50" width="4.35" height="4.35" fill="#e0ecef" stroke="none" stroke-width="0.00"/>
<rect x="450.90" y="113.80" width="4.35" height="4.35" fill="#edf5f7" stroke="none" stroke-width="0.00"/>
<rect x="450.90" y="142.85" width="4.35" height="4.35" fill="#eef6f8" stroke="none" stroke-width="0.00"/>
<rect x="450.90" y="147.00" width="4.35" height="4.35" fill="#f0f7f9" stroke="none" stroke-width="0.00"/>
<rect x="455.05" y="80.60" width="4.35" height="4.35" fill="#f0f7f9" stroke="none" stroke-width="0.00"/>
<rect x="455.05" y="122.10" width="4.35" height="4.35" fill="#eaf3f5" stroke="none" stroke-width="0.00"/>
<rect x="455.05" y="167.75" width="4.35" height="4.35" fill="#f0f7f9" stroke="none" stroke-width="0.00"/>
<rect x="459.20" y="97.20" width="4.35" height="4.35" fill="#e0ecef" stroke="none" stroke-width="0.00"/>
<rect x="459.20" y="113.80" width="4.35" height="4.35" fill="#eaf3f5" stroke="none" stroke-width="0.00"/>
<rect x="459.20" y="134.55" width="4.35" height="4.35" fill="#ddece9" stroke="none" stroke-width="0.00"/>
<rect x="459.20" y="155.30" width="4.35" height="4.35" fill="#e0ecef" stroke="none" stroke-width="0.00"/>
<rect x="459.20" y="167.75" width="4.35" height="4.35" fill="#edf5f7" stroke="none" stroke-width="0.00"/>
<rect x="463.35" y="64.00" width="4.35" height="4.35" fill="#eef6f8" stroke="none" stroke-width="0.00"/>
<rect x="463.35" y="76.45" width="4.35" height="4.35" fill="#edf5f7" stroke="none" stroke-width="0.00"/>
<rect x="463.35" y="97.20" width="4.35" height="4.35" fill="#eef6f8" stroke="none" stroke-width="0.00"/>
<rect x="467.50" y="47.40" width="4.35" height="4.35" fill="#edf5f7" stroke="none" stroke-width="0.00"/>
<rect x="467.50" y="84.75" width="4.35" height="4.35" fill="#f0f7f9" stroke="none" stroke-width="0.00"/>
<rect x="467.50" y="93.05" width="4.35" height="4.35" fill="#e3eff1" stroke="none" stroke-width="0.00"/>
<rect x="467.50" y="101.35" width="4.35" height="4.35" fill="#eef6f8" stroke="none" stroke-width="0.00"/>
<rect x="467.50" y="122.10" width="4.35" height="4.35" fill="#eef6f8" stroke="none" stroke-width="0.00"/>
<rect x="467.50" y="126.25" width="4.35" height="4.35" fill="#eaf3f5" stroke="none" stroke-width="0.00"/>
<rect x="467.50" y="134.55" width="4.35" height="4.35" fill="#eef6f8" stroke="none" stroke-width="0.00"/>
<rect x="467.50" y="159.45" width="4.35" height="4.35" fill="#f0f7f9" stroke="none" stroke-width="0.00"/>
<rect x="467.50" y="167.75" width="4.35" height="4.35" fill="#eef6f8" stroke="none" stroke-width="0.00"/>
<rect x="471.65" y="84.75" width="4.35" height="4.35" fill="#edf5f7" stroke="none" stroke-width="0.00"/>
<rect x="471.65" y="134.55" width="4.35" height="4.35" fill="#eaf3f5" stroke="none" stroke-width="0.00"/>
<rect x="475.80" y="47.40" width="4.35" height="4.35" fill="#f0f7f9" stroke="none" stroke-width="0.00"/>
<rect x="479.95" y="55.70" width="4.35" height="4.35" fill="#eaf3f5" stroke="none" stroke-width="0.00"/>
<rect x="479.95" y="113.80" width="4.35" height="4.35" fill="#f0f7f9" stroke="none" stroke-width="0.00"/>
<rect x="479.95" y="130.40" width="4.35" height="4.35" fill="#eaf3f5" stroke="none" stroke-width="0.00"/>
<rect x="484.10" y="113.80" width="4.35" height="4.35" fill="#eef6f8" stroke="none" stroke-width="0.00"/>
<rect x="484.10" y="117.95" width="4.35" height="4.35" fill="#e0ecef" stroke="none" stroke-width="0.00"/>
<rect x="484.10" y="138.70" width="4.35" height="4.35" fill="#e3eff1" stroke="none" stroke-width="0.00"/>
<rect x="488.25" y="84.75" width="4.35" height="4.35" fill="#f0f7f9" stroke="none" stroke-width="0.00"/>
<rect x="488.25" y="97.20" width="4.35" height="4.35" fill="#edf5f7" stroke="none" stroke-width="0.00"/>
<rect x="488.25" y="126.25" width="4.35" height="4.35" fill="#eaf3f5" stroke="none" stroke-width="0.00"/>
<rect x="488.25" y="134.55" width="4.35" height="4.35" fill="#eaf3f5" stroke="none" stroke-width="0.00"/>
<rect x="488.25" y="151.15" width="4.35" height="4.35" fill="#f0f7f9" stroke="none" stroke-width="0.00"/>
<rect x="492.40" y="55.70" width="4.35" height="4.35" fill="#f0f7f9" stroke="none" stroke-width="0.00"/>
<rect x="492.40" y="142.85" width="4.35" height="4.35" fill="#eaf3f5" stroke="none" stroke-width="0.00"/>
<rect x="496.55" y="84.75" width="4.35" height="4.35" fill="#e3eff1" stroke="none" stroke-width="0.00"/>
<rect x="496.55" y="167.75" width="4.35" height="4.35" fill="#eaf3f5" stroke="none" stroke-width="0.00"/>
<rect x="500.70" y="64.00" width="4.35" height="4.35" fill="#edf5f7" stroke="none" stroke-width="0.00"/>
<rect x="500.70" y="84.75" width="4.35" height="4.35" fill="#ddece9" stroke="none" stroke-width="0.00"/>
<rect x="504.85" y="55.70" width="4.35" height="4.35" fill="#edf5f7" stroke="none" stroke-width="0.00"/>
<rect x="504.85" y="159.45" width="4.35" height="4.35" fill="#eaf3f5" stroke="none" stroke-width="0.00"/>
<rect x="509.00" y="64.00" width="4.35" height="4.35" fill="#edf5f7" stroke="none" stroke-width="0.00"/>
<rect x="509.00" y="72.30" width="4.35" height="4.35" fill="#eaf3f5" stroke="none" stroke-width="0.00"/>
<rect x="509.00" y="109.65" width="4.35" height="4.35" fill="#f0f7f9" stroke="none" stroke-width="0.00"/>
<rect x="509.00" y="113.80" width="4.35" height="4.35" fill="#e0ecef" stroke="none" stroke-width="0.00"/>
<rect x="513.15" y="68.15" width="4.35" height="4.35" fill="#edf5f7" stroke="none" stroke-width="0.00"/>
<rect x="513.15" y="113.80" width="4.35" height="4.35" fill="#f0f7f9" stroke="none" stroke-width="0.00"/>
<rect x="513.15" y="147.00" width="4.35" height="4.35" fill="#e0ecef" stroke="none" stroke-width="0.00"/>
<rect x="517.30" y="97.20" width="4.35" height="4.35" fill="#eef6f8" stroke="none" stroke-width="0.00"/>
<rect x="517.30" y="142.85" width="4.35" height="4.35" fill="#e3eff1" stroke="none" stroke-width="0.00"/>
<rect x="517.30" y="167.75" width="4.35" height="4.35" fill="#e0ecef" stroke="none" stroke-width="0.00"/>
<rect x="160.50" y="93.30" width="4.20" height="4.20" fill="#1e9d75" stroke="none" stroke-width="0.00"/>
<rect x="160.50" y="89.10" width="4.20" height="4.20" fill="#cfe9e2" stroke="none" stroke-width="0.00"/>
<rect x="164.70" y="97.50" width="4.20" height="4.20" fill="#cfe9e2" stroke="none" stroke-width="0.00"/>
<rect x="208.00" y="93.30" width="4.20" height="4.20" fill="#4ab596" stroke="none" stroke-width="0.00"/>
<rect x="212.20" y="93.30" width="4.20" height="4.20" fill="#0f5a3f" stroke="none" stroke-width="0.00"/>
<rect x="216.40" y="89.10" width="4.20" height="4.20" fill="#9fd7c6" stroke="none" stroke-width="0.00"/>
<rect x="220.60" y="89.10" width="4.20" height="4.20" fill="#cfe9e2" stroke="none" stroke-width="0.00"/>
<rect x="260.00" y="89.10" width="4.20" height="4.20" fill="#0b2c21" stroke="none" stroke-width="0.00"/>
<rect x="260.00" y="93.30" width="4.20" height="4.20" fill="#0b2c21" stroke="none" stroke-width="0.00"/>
<rect x="264.20" y="93.30" width="4.20" height="4.20" fill="#1e9d75" stroke="none" stroke-width="0.00"/>
<rect x="256.00" y="89.10" width="4.20" height="4.20" fill="#cfe9e2" stroke="none" stroke-width="0.00"/>
<rect x="260.00" y="97.50" width="4.20" height="4.20" fill="#9fd7c6" stroke="none" stroke-width="0.00"/>
<rect x="268.40" y="93.30" width="4.20" height="4.20" fill="#cfe9e2" stroke="none" stroke-width="0.00"/>
<rect x="308.00" y="89.10" width="4.20" height="4.20" fill="#1e9d75" stroke="none" stroke-width="0.00"/>
<rect x="312.20" y="89.10" width="4.20" height="4.20" fill="#1e9d75" stroke="none" stroke-width="0.00"/>
<rect x="308.00" y="93.30" width="4.20" height="4.20" fill="#1e9d75" stroke="none" stroke-width="0.00"/>
<rect x="312.20" y="93.30" width="4.20" height="4.20" fill="#1e9d75" stroke="none" stroke-width="0.00"/>
<rect x="312.20" y="85.00" width="4.20" height="4.20" fill="#9fd7c6" stroke="none" stroke-width="0.00"/>
<rect x="360.20" y="93.30" width="4.20" height="4.20" fill="#4ab596" stroke="none" stroke-width="0.00"/>
<rect x="364.40" y="89.10" width="4.20" height="4.20" fill="#9fd7c6" stroke="none" stroke-width="0.00"/>
<rect x="368.60" y="89.10" width="4.20" height="4.20" fill="#9fd7c6" stroke="none" stroke-width="0.00"/>
<rect x="360.20" y="89.10" width="4.20" height="4.20" fill="#cfe9e2" stroke="none" stroke-width="0.00"/>
<rect x="360.20" y="97.50" width="4.20" height="4.20" fill="#cfe9e2" stroke="none" stroke-width="0.00"/>
<rect x="356.00" y="93.30" width="4.20" height="4.20" fill="#cfe9e2" stroke="none" stroke-width="0.00"/>
<rect x="412.00" y="89.10" width="4.20" height="4.20" fill="#0f5a3f" stroke="none" stroke-width="0.00"/>
<rect x="416.20" y="89.10" width="4.20" height="4.20" fill="#9fd7c6" stroke="none" stroke-width="0.00"/>
<rect x="416.20" y="93.30" width="4.20" height="4.20" fill="#9fd7c6" stroke="none" stroke-width="0.00"/>
<rect x="407.80" y="89.10" width="4.20" height="4.20" fill="#cfe9e2" stroke="none" stroke-width="0.00"/>
<rect x="412.00" y="93.30" width="4.20" height="4.20" fill="#cfe9e2" stroke="none" stroke-width="0.00"/>
<rect x="160.50" y="141.30" width="4.20" height="4.20" fill="#0f5a3f" stroke="none" stroke-width="0.00"/>
<rect x="160.50" y="145.50" width="4.20" height="4.20" fill="#0f5a3f" stroke="none" stroke-width="0.00"/>
<rect x="164.70" y="145.50" width="4.20" height="4.20" fill="#4ab596" stroke="none" stroke-width="0.00"/>
<rect x="168.90" y="145.50" width="4.20" height="4.20" fill="#cfe9e2" stroke="none" stroke-width="0.00"/>
<rect x="212.20" y="141.30" width="4.20" height="4.20" fill="#1e9d75" stroke="none" stroke-width="0.00"/>
<rect x="212.20" y="145.50" width="4.20" height="4.20" fill="#1e9d75" stroke="none" stroke-width="0.00"/>
<rect x="208.00" y="145.50" width="4.20" height="4.20" fill="#9fd7c6" stroke="none" stroke-width="0.00"/>
<rect x="260.00" y="145.50" width="4.20" height="4.20" fill="#1e9d75" stroke="none" stroke-width="0.00"/>
<rect x="264.20" y="141.30" width="4.20" height="4.20" fill="#1e9d75" stroke="none" stroke-width="0.00"/>
<rect x="264.20" y="145.50" width="4.20" height="4.20" fill="#1e9d75" stroke="none" stroke-width="0.00"/>
<rect x="268.40" y="137.10" width="4.20" height="4.20" fill="#cfe9e2" stroke="none" stroke-width="0.00"/>
<rect x="308.00" y="141.30" width="4.20" height="4.20" fill="#0f5a3f" stroke="none" stroke-width="0.00"/>
<rect x="312.20" y="141.30" width="4.20" height="4.20" fill="#0f5a3f" stroke="none" stroke-width="0.00"/>
<rect x="316.40" y="141.30" width="4.20" height="4.20" fill="#9fd7c6" stroke="none" stroke-width="0.00"/>
<rect x="308.00" y="145.50" width="4.20" height="4.20" fill="#cfe9e2" stroke="none" stroke-width="0.00"/>
<rect x="364.40" y="141.30" width="4.20" height="4.20" fill="#0b2c21" stroke="none" stroke-width="0.00"/>
<rect x="368.60" y="137.10" width="4.20" height="4.20" fill="#9fd7c6" stroke="none" stroke-width="0.00"/>
<rect x="364.40" y="145.50" width="4.20" height="4.20" fill="#9fd7c6" stroke="none" stroke-width="0.00"/>
<rect x="360.20" y="141.30" width="4.20" height="4.20" fill="#cfe9e2" stroke="none" stroke-width="0.00"/>
<rect x="412.00" y="141.30" width="4.20" height="4.20" fill="#1e9d75" stroke="none" stroke-width="0.00"/>
<rect x="416.20" y="141.30" width="4.20" height="4.20" fill="#1e9d75" stroke="none" stroke-width="0.00"/>
<rect x="412.00" y="145.50" width="4.20" height="4.20" fill="#9fd7c6" stroke="none" stroke-width="0.00"/>
<rect x="52.50" y="47.40" width="470.00" height="127.80" fill="none" stroke="#4a4a4a" stroke-width="1.10"/>
<path d="M104.82 593.40 H108.97 V408.54 H104.82 Z M108.97 593.40 H113.12 V374.20 H108.97 Z M113.12 593.40 H117.27 V354.86 H113.12 Z M117.27 593.40 H121.43 V329.52 H117.27 Z M121.43 593.40 H125.58 V315.00 H121.43 Z M125.58 593.40 H129.73 V303.19 H125.58 Z M129.73 593.40 H133.88 V294.18 H129.73 Z M133.88 593.40 H138.04 V294.03 H133.88 Z M138.04 593.40 H142.19 V297.48 H138.04 Z M142.19 593.40 H146.34 V305.06 H142.19 Z M146.34 593.40 H150.49 V318.24 H146.34 Z M150.49 593.40 H154.65 V339.40 H150.49 Z M154.65 593.40 H158.80 V362.85 H154.65 Z M158.80 593.40 H162.95 V400.33 H158.80 Z M162.95 593.40 H167.10 V426.06 H162.95 Z M167.10 593.40 H171.26 V467.34 H167.10 Z M171.26 593.40 H175.41 V483.80 H171.26 Z M175.41 593.40 H179.56 V496.86 H175.41 Z M179.56 593.40 H183.71 V448.40 H179.56 Z M183.71 593.40 H187.87 V448.40 H183.71 Z M187.87 593.40 H192.02 V461.46 H187.87 Z M192.02 593.40 H196.17 V461.46 H192.02 Z M196.17 593.40 H200.32 V452.19 H196.17 Z M200.32 593.40 H204.48 V429.85 H200.32 Z M204.48 593.40 H208.63 V439.12 H204.48 Z M208.63 593.40 H212.78 V427.90 H208.63 Z M212.78 593.40 H216.93 V419.59 H212.78 Z M216.93 593.40 H221.09 V411.82 H216.93 Z M221.09 593.40 H225.24 V395.82 H221.09 Z M225.24 593.40 H229.39 V404.63 H225.24 Z M229.39 593.40 H233.54 V394.45 H229.39 Z M233.54 593.40 H237.70 V384.68 H233.54 Z M237.70 593.40 H241.85 V383.71 H237.70 Z M241.85 593.40 H246.00 V387.80 H241.85 Z M246.00 593.40 H250.15 V381.84 H246.00 Z M250.15 593.40 H254.31 V375.29 H250.15 Z M254.31 593.40 H258.46 V372.45 H254.31 Z M258.46 593.40 H262.61 V366.30 H258.46 Z M262.61 593.40 H266.76 V361.61 H262.61 Z M266.76 593.40 H270.92 V360.66 H266.76 Z M270.92 593.40 H275.07 V360.66 H270.92 Z M275.07 593.40 H279.22 V352.77 H275.07 Z M279.22 593.40 H283.37 V349.95 H279.22 Z M283.37 593.40 H287.53 V351.33 H283.37 Z M287.53 593.40 H291.68 V352.77 H287.53 Z M291.68 593.40 H295.83 V354.27 H291.68 Z M295.83 593.40 H299.98 V343.82 H295.83 Z M299.98 593.40 H304.14 V348.95 H299.98 Z M304.14 593.40 H308.29 V345.10 H304.14 Z M308.29 593.40 H312.44 V343.82 H308.29 Z M312.44 593.40 H316.59 V342.59 H312.44 Z M316.59 593.40 H320.75 V343.13 H316.59 Z M320.75 593.40 H324.90 V342.06 H320.75 Z M324.90 593.40 H329.05 V337.85 H324.90 Z M329.05 593.40 H333.20 V342.32 H329.05 Z M333.20 593.40 H337.36 V340.26 H333.20 Z M337.36 593.40 H341.51 V337.39 H337.36 Z M341.51 593.40 H345.66 V340.89 H341.51 Z M345.66 593.40 H349.81 V340.89 H345.66 Z M349.81 593.40 H353.97 V339.15 H349.81 Z M353.97 593.40 H358.12 V339.40 H353.97 Z M358.12 593.40 H362.27 V343.27 H358.12 Z M362.27 593.40 H366.42 V341.92 H362.27 Z M366.42 593.40 H370.58 V345.25 H366.42 Z M370.58 593.40 H374.73 V343.40 H370.58 Z M374.73 593.40 H378.88 V343.13 H374.73 Z M378.88 593.40 H383.03 V346.43 H378.88 Z M383.03 593.40 H387.19 V349.95 H383.03 Z M387.19 593.40 H391.34 V349.11 H387.19 Z M391.34 593.40 H395.49 V358.39 H391.34 Z M395.49 593.40 H399.64 V353.14 H395.49 Z M399.64 593.40 H403.80 V362.10 H399.64 Z M403.80 593.40 H407.95 V356.06 H403.80 Z M407.95 593.40 H412.10 V362.35 H407.95 Z M412.10 593.40 H416.25 V364.92 H412.10 Z M416.25 593.40 H420.41 V369.85 H416.25 Z M420.41 593.40 H424.56 V372.79 H420.41 Z M424.56 593.40 H428.71 V373.84 H424.56 Z M428.71 593.40 H432.86 V384.68 H428.71 Z M432.86 593.40 H437.02 V385.69 H432.86 Z M437.02 593.40 H441.17 V398.00 H437.02 Z M441.17 593.40 H445.32 V393.14 H441.17 Z M445.32 593.40 H449.47 V398.00 H445.32 Z M449.47 593.40 H453.63 V405.56 H449.47 Z M453.63 593.40 H457.78 V416.79 H453.63 Z M457.78 593.40 H461.93 V407.52 H457.78 Z M461.93 593.40 H466.08 V434.16 H461.93 Z M466.08 593.40 H470.24 V434.16 H466.08 Z M470.24 593.40 H474.39 V436.55 H470.24 Z M474.39 593.40 H478.54 V436.55 H474.39 Z M478.54 593.40 H482.69 V456.49 H478.54 Z M482.69 593.40 H486.85 V461.46 H482.69 Z M486.85 593.40 H491.00 V483.80 H486.85 Z M491.00 593.40 H495.15 V496.86 H491.00 Z M495.15 593.40 H499.30 V467.34 H495.15 Z M499.30 593.40 H503.46 V496.86 H499.30 Z M503.46 593.40 H507.61 V496.86 H503.46 Z M507.61 593.40 H511.76 V519.20 H507.61 Z M511.76 593.40 H515.91 V519.20 H511.76 Z M515.91 593.40 H520.07 V519.20 H515.91 Z" fill="#529494" stroke="none" stroke-width="0.00"/>
<polyline points="92.36,554.75 93.19,544.83 94.02,535.11 94.85,525.59 95.68,516.26 96.51,507.13 97.34,498.19 98.17,489.45 99.00,480.91 99.83,472.56 100.66,464.40 101.50,456.43 102.33,448.66 103.16,441.08 103.99,433.69 104.82,426.49 105.65,419.48 106.48,412.66 107.31,406.03 108.14,399.60 108.97,393.35 109.80,387.29 110.63,381.42 111.46,375.73 112.29,370.24 113.12,364.94 113.95,359.82 114.78,354.90 115.61,350.16 116.44,345.61 117.27,341.26 118.11,337.09 118.94,333.11 119.77,329.32 120.60,325.73 121.43,322.32 122.26,319.11 123.09,316.08 123.92,313.25 124.75,310.61 125.58,308.17 126.41,305.92 127.24,303.86 128.07,302.00 128.90,300.33 129.73,298.86 130.56,297.59 131.39,296.52 132.22,295.64 133.05,294.96 133.88,294.49 134.72,294.22 135.55,294.15 136.38,294.28 137.21,294.62 138.04,295.16 138.87,295.91 139.70,296.87 140.53,298.04 141.36,299.42 142.19,301.01 143.02,302.81 143.85,304.83 144.68,307.06 145.51,309.51 146.34,312.18 147.17,315.07 148.00,318.18 148.83,321.52 149.66,325.08 150.49,328.86 151.33,332.87 152.16,337.12 152.99,341.59 153.82,346.29 154.65,351.22 155.48,356.39 156.31,361.79 157.14,367.43 157.97,373.30 158.80,379.40 159.63,385.72 160.46,392.27 161.29,399.03 162.12,406.00 162.95,413.14 163.78,420.44 164.61,427.86 165.44,435.35 166.27,442.83 167.10,450.20 167.94,457.33 168.77,464.08 169.60,470.25 170.43,475.66 171.26,480.16 172.09,483.64 172.92,486.07 173.75,487.52 174.58,488.11 175.41,488.00 176.24,487.36 177.07,486.32 177.90,485.00 178.73,483.50 179.56,481.87 180.39,480.18 181.22,478.43 182.05,476.67 182.88,474.90 183.71,473.14 184.55,471.38 185.38,469.63 186.21,467.89 187.04,466.17 187.87,464.47 188.70,462.78 189.53,461.11 190.36,459.45 191.19,457.81 192.02,456.19 192.85,454.59 193.68,452.99 194.51,451.42 195.34,449.86 196.17,448.32 197.00,446.79 197.83,445.28 198.66,443.78 199.49,442.30 200.32,440.84 201.16,439.39 201.99,437.95 202.82,436.53 203.65,435.13 204.48,433.73 205.31,432.36 206.14,430.99 206.97,429.65 207.80,428.31 208.63,426.99 209.46,425.69 210.29,424.39 211.12,423.11 211.95,421.85 212.78,420.60 213.61,419.36 214.44,418.13 215.27,416.92 216.10,415.72 216.93,414.54 217.77,413.36 218.60,412.20 219.43,411.06 220.26,409.92 221.09,408.80 221.92,407.69 222.75,406.59 223.58,405.50 224.41,404.43 225.24,403.37 226.07,402.32 226.90,401.28 227.73,400.25 228.56,399.24 229.39,398.23 230.22,397.24 231.05,396.26 231.88,395.29 232.71,394.33 233.54,393.38 234.38,392.45 235.21,391.52 236.04,390.60 236.87,389.70 237.70,388.81 238.53,387.92 239.36,387.05 240.19,386.19 241.02,385.33 241.85,384.49 242.68,383.66 243.51,382.84 244.34,382.02 245.17,381.22 246.00,380.43 246.83,379.65 247.66,378.87 248.49,378.11 249.32,377.35 250.15,376.61 250.99,375.87 251.82,375.15 252.65,374.43 253.48,373.72 254.31,373.02 255.14,372.33 255.97,371.65 256.80,370.98 257.63,370.31 258.46,369.66 259.29,369.01 260.12,368.37 260.95,367.74 261.78,367.12 262.61,366.51 263.44,365.90 264.27,365.31 265.10,364.72 265.93,364.14 266.76,363.57 267.60,363.00 268.43,362.45 269.26,361.90 270.09,361.36 270.92,360.82 271.75,360.30 272.58,359.78 273.41,359.27 274.24,358.77 275.07,358.28 275.90,357.79 276.73,357.31 277.56,356.84 278.39,356.37 279.22,355.91 280.05,355.46 280.88,355.02 281.71,354.58 282.54,354.15 283.37,353.73 284.21,353.32 285.04,352.91 285.87,352.51 286.70,352.11 287.53,351.72 288.36,351.34 289.19,350.97 290.02,350.60 290.85,350.24 291.68,349.89 292.51,349.54 293.34,349.20 294.17,348.86 295.00,348.53 295.83,348.21 296.66,347.90 297.49,347.59 298.32,347.28 299.15,346.99 299.98,346.70 300.82,346.41 301.65,346.14 302.48,345.87 303.31,345.60 304.14,345.34 304.97,345.09 305.80,344.84 306.63,344.60 307.46,344.37 308.29,344.14 309.12,343.92 309.95,343.70 310.78,343.49 311.61,343.29 312.44,343.09 313.27,342.89 314.10,342.71 314.93,342.53 315.76,342.35 316.59,342.18 317.43,342.02 318.26,341.86 319.09,341.71 319.92,341.57 320.75,341.43 321.58,341.29 322.41,341.16 323.24,341.04 324.07,340.92 324.90,340.81 325.73,340.71 326.56,340.61 327.39,340.52 328.22,340.43 329.05,340.35 329.88,340.27 330.71,340.20 331.54,340.13 332.37,340.08 333.20,340.02 334.04,339.97 334.87,339.93 335.70,339.90 336.53,339.87 337.36,339.84 338.19,339.82 339.02,339.81 339.85,339.80 340.68,339.80 341.51,339.81 342.34,339.82 343.17,339.83 344.00,339.86 344.83,339.88 345.66,339.92 346.49,339.96 347.32,340.00 348.15,340.05 348.98,340.11 349.81,340.17 350.65,340.24 351.48,340.32 352.31,340.40 353.14,340.49 353.97,340.58 354.80,340.68 355.63,340.78 356.46,340.89 357.29,341.01 358.12,341.14 358.95,341.27 359.78,341.40 360.61,341.54 361.44,341.69 362.27,341.85 363.10,342.01 363.93,342.17 364.76,342.35 365.59,342.53 366.42,342.71 367.26,342.91 368.09,343.11 368.92,343.31 369.75,343.52 370.58,343.74 371.41,343.97 372.24,344.20 373.07,344.44 373.90,344.69 374.73,344.94 375.56,345.20 376.39,345.46 377.22,345.74 378.05,346.02 378.88,346.30 379.71,346.60 380.54,346.90 381.37,347.21 382.20,347.52 383.03,347.84 383.87,348.17 384.70,348.51 385.53,348.85 386.36,349.21 387.19,349.56 388.02,349.93 388.85,350.31 389.68,350.69 390.51,351.08 391.34,351.47 392.17,351.88 393.00,352.29 393.83,352.71 394.66,353.14 395.49,353.58 396.32,354.02 397.15,354.47 397.98,354.93 398.81,355.40 399.64,355.88 400.48,356.37 401.31,356.86 402.14,357.36 402.97,357.87 403.80,358.39 404.63,358.92 405.46,359.46 406.29,360.01 407.12,360.56 407.95,361.12 408.78,361.70 409.61,362.28 410.44,362.87 411.27,363.47 412.10,364.08 412.93,364.70 413.76,365.33 414.59,365.96 415.42,366.61 416.25,367.27 417.09,367.93 417.92,368.61 418.75,369.30 419.58,369.99 420.41,370.70 421.24,371.42 422.07,372.14 422.90,372.88 423.73,373.63 424.56,374.39 425.39,375.16 426.22,375.94 427.05,376.73 427.88,377.53 428.71,378.34 429.54,379.16 430.37,380.00 431.20,380.84 432.03,381.70 432.86,382.56 433.70,383.44 434.53,384.33 435.36,385.24 436.19,386.15 437.02,387.08 437.85,388.02 438.68,388.97 439.51,389.93 440.34,390.90 441.17,391.89 442.00,392.89 442.83,393.90 443.66,394.92 444.49,395.96 445.32,397.01 446.15,398.07 446.98,399.15 447.81,400.24 448.64,401.34 449.47,402.45 450.31,403.58 451.14,404.73 451.97,405.88 452.80,407.05 453.63,408.24 454.46,409.43 455.29,410.65 456.12,411.87 456.95,413.11 457.78,414.37 458.61,415.64 459.44,416.92 460.27,418.22 461.10,419.53 461.93,420.86 462.76,422.21 463.59,423.57 464.42,424.94 465.25,426.33 466.08,427.74 466.92,429.16 467.75,430.60 468.58,432.05 469.41,433.52 470.24,435.01 471.07,436.51 471.90,438.03 472.73,439.57 473.56,441.12 474.39,442.69 475.22,444.27 476.05,445.88 476.88,447.50 477.71,449.14 478.54,450.79 479.37,452.47 480.20,454.16 481.03,455.87 481.86,457.60 482.69,459.34 483.53,461.11 484.36,462.89 485.19,464.69 486.02,466.51 486.85,468.35 487.68,470.21 488.51,472.09 489.34,473.98 490.17,475.90 491.00,477.83 491.83,479.79 492.66,481.77 493.49,483.76 494.32,485.78 495.15,487.81 495.98,489.87 496.81,491.95 497.64,494.05 498.47,496.17 499.30,498.31 500.14,500.47 500.97,502.65 501.80,504.86 502.63,507.09 503.46,509.33 504.29,511.61 505.12,513.90 505.95,516.21 506.78,518.55 507.61,520.91" fill="none" stroke="#0e1c1c" stroke-width="2.80" stroke-linejoin="round"/>
<rect x="93.00" y="274.50" width="439.40" height="318.90" fill="none" stroke="#222" stroke-width="1.30"/>
<line x1="134.30" y1="593.40" x2="134.30" y2="599.40" stroke="#222" stroke-width="1.30"/>
<text x="107.36" y="621.80" style="font-family:'DejaVu Sans', sans-serif;font-size:20.80px" fill="#1c1c1c">1800</text>
<line x1="217.35" y1="593.40" x2="217.35" y2="599.40" stroke="#222" stroke-width="1.30"/>
<text x="190.41" y="621.80" style="font-family:'DejaVu Sans', sans-serif;font-size:20.80px" fill="#1c1c1c">1900</text>
<line x1="300.40" y1="593.40" x2="300.40" y2="599.40" stroke="#222" stroke-width="1.30"/>
<text x="273.85" y="621.80" style="font-family:'DejaVu Sans', sans-serif;font-size:20.80px" fill="#1c1c1c">2000</text>
<line x1="383.45" y1="593.40" x2="383.45" y2="599.40" stroke="#222" stroke-width="1.30"/>
<text x="356.90" y="621.80" style="font-family:'DejaVu Sans', sans-serif;font-size:20.80px" fill="#1c1c1c">2100</text>
<line x1="466.50" y1="593.40" x2="466.50" y2="599.40" stroke="#222" stroke-width="1.30"/>
<text x="439.95" y="621.80" style="font-family:'DejaVu Sans', sans-serif;font-size:20.80px" fill="#1c1c1c">2200</text>
<text x="229.70" y="649.70" style="font-family:'DejaVu Sans', sans-serif;font-size:21.84px" fill="#1c1c1c">Camera counts</text>
<line x1="191.40" y1="274.50" x2="191.40" y2="268.50" stroke="#222" stroke-width="1.30"/>
<text x="177.70" y="258.10" style="font-family:'DejaVu Sans', sans-serif;font-size:20.80px" fill="#1c1c1c">10</text>
<line x1="268.46" y1="274.50" x2="268.46" y2="268.50" stroke="#222" stroke-width="1.30"/>
<text x="255.12" y="258.10" style="font-family:'DejaVu Sans', sans-serif;font-size:20.80px" fill="#1c1c1c">30</text>
<line x1="345.52" y1="274.50" x2="345.52" y2="268.50" stroke="#222" stroke-width="1.30"/>
<text x="332.16" y="258.10" style="font-family:'DejaVu Sans', sans-serif;font-size:20.80px" fill="#1c1c1c">50</text>
<line x1="422.58" y1="274.50" x2="422.58" y2="268.50" stroke="#222" stroke-width="1.30"/>
<text x="409.16" y="258.10" style="font-family:'DejaVu Sans', sans-serif;font-size:20.80px" fill="#1c1c1c">70</text>
<line x1="499.64" y1="274.50" x2="499.64" y2="268.50" stroke="#222" stroke-width="1.30"/>
<text x="486.43" y="258.10" style="font-family:'DejaVu Sans', sans-serif;font-size:20.80px" fill="#1c1c1c">90</text>
<text x="156.16" y="234.70" style="font-family:'DejaVu Sans', sans-serif;font-size:21.98px" fill="#1c1c1c">Estimated photons collected</text>
<line x1="87.00" y1="593.40" x2="93.00" y2="593.40" stroke="#222" stroke-width="1.30"/>
<text x="62.60" y="588.20" style="font-family:'DejaVu Sans', sans-serif;font-size:11.50px" fill="#1c1c1c">−1</text>
<text x="43.13" y="599.00" style="font-family:'DejaVu Sans', sans-serif;font-size:16.30px" fill="#1c1c1c">10</text>
<line x1="89.50" y1="571.06" x2="93.00" y2="571.06" stroke="#222" stroke-width="1.00"/>
<line x1="89.50" y1="558.00" x2="93.00" y2="558.00" stroke="#222" stroke-width="1.00"/>
<line x1="89.50" y1="548.73" x2="93.00" y2="548.73" stroke="#222" stroke-width="1.00"/>
<line x1="89.50" y1="541.54" x2="93.00" y2="541.54" stroke="#222" stroke-width="1.00"/>
<line x1="89.50" y1="535.66" x2="93.00" y2="535.66" stroke="#222" stroke-width="1.00"/>
<line x1="89.50" y1="530.69" x2="93.00" y2="530.69" stroke="#222" stroke-width="1.00"/>
<line x1="89.50" y1="526.39" x2="93.00" y2="526.39" stroke="#222" stroke-width="1.00"/>
<line x1="89.50" y1="522.60" x2="93.00" y2="522.60" stroke="#222" stroke-width="1.00"/>
<line x1="87.00" y1="519.20" x2="93.00" y2="519.20" stroke="#222" stroke-width="1.30"/>
<text x="71.94" y="514.00" style="font-family:'DejaVu Sans', sans-serif;font-size:11.50px" fill="#1c1c1c">0</text>
<text x="52.01" y="524.80" style="font-family:'DejaVu Sans', sans-serif;font-size:16.30px" fill="#1c1c1c">10</text>
<line x1="89.50" y1="496.86" x2="93.00" y2="496.86" stroke="#222" stroke-width="1.00"/>
<line x1="89.50" y1="483.80" x2="93.00" y2="483.80" stroke="#222" stroke-width="1.00"/>
<line x1="89.50" y1="474.53" x2="93.00" y2="474.53" stroke="#222" stroke-width="1.00"/>
<line x1="89.50" y1="467.34" x2="93.00" y2="467.34" stroke="#222" stroke-width="1.00"/>
<line x1="89.50" y1="461.46" x2="93.00" y2="461.46" stroke="#222" stroke-width="1.00"/>
<line x1="89.50" y1="456.49" x2="93.00" y2="456.49" stroke="#222" stroke-width="1.00"/>
<line x1="89.50" y1="452.19" x2="93.00" y2="452.19" stroke="#222" stroke-width="1.00"/>
<line x1="89.50" y1="448.40" x2="93.00" y2="448.40" stroke="#222" stroke-width="1.00"/>
<line x1="87.00" y1="445.00" x2="93.00" y2="445.00" stroke="#222" stroke-width="1.30"/>
<text x="72.23" y="439.80" style="font-family:'DejaVu Sans', sans-serif;font-size:11.50px" fill="#1c1c1c">1</text>
<text x="52.82" y="450.60" style="font-family:'DejaVu Sans', sans-serif;font-size:16.30px" fill="#1c1c1c">10</text>
<line x1="89.50" y1="422.66" x2="93.00" y2="422.66" stroke="#222" stroke-width="1.00"/>
<line x1="89.50" y1="409.60" x2="93.00" y2="409.60" stroke="#222" stroke-width="1.00"/>
<line x1="89.50" y1="400.33" x2="93.00" y2="400.33" stroke="#222" stroke-width="1.00"/>
<line x1="89.50" y1="393.14" x2="93.00" y2="393.14" stroke="#222" stroke-width="1.00"/>
<line x1="89.50" y1="387.26" x2="93.00" y2="387.26" stroke="#222" stroke-width="1.00"/>
<line x1="89.50" y1="382.29" x2="93.00" y2="382.29" stroke="#222" stroke-width="1.00"/>
<line x1="89.50" y1="377.99" x2="93.00" y2="377.99" stroke="#222" stroke-width="1.00"/>
<line x1="89.50" y1="374.20" x2="93.00" y2="374.20" stroke="#222" stroke-width="1.00"/>
<line x1="87.00" y1="370.80" x2="93.00" y2="370.80" stroke="#222" stroke-width="1.30"/>
<text x="72.32" y="365.60" style="font-family:'DejaVu Sans', sans-serif;font-size:11.50px" fill="#1c1c1c">2</text>
<text x="52.47" y="376.40" style="font-family:'DejaVu Sans', sans-serif;font-size:16.30px" fill="#1c1c1c">10</text>
<line x1="89.50" y1="348.46" x2="93.00" y2="348.46" stroke="#222" stroke-width="1.00"/>
<line x1="89.50" y1="335.40" x2="93.00" y2="335.40" stroke="#222" stroke-width="1.00"/>
<line x1="89.50" y1="326.13" x2="93.00" y2="326.13" stroke="#222" stroke-width="1.00"/>
<line x1="89.50" y1="318.94" x2="93.00" y2="318.94" stroke="#222" stroke-width="1.00"/>
<line x1="89.50" y1="313.06" x2="93.00" y2="313.06" stroke="#222" stroke-width="1.00"/>
<line x1="89.50" y1="308.09" x2="93.00" y2="308.09" stroke="#222" stroke-width="1.00"/>
<line x1="89.50" y1="303.79" x2="93.00" y2="303.79" stroke="#222" stroke-width="1.00"/>
<line x1="89.50" y1="300.00" x2="93.00" y2="300.00" stroke="#222" stroke-width="1.00"/>
<line x1="87.00" y1="296.60" x2="93.00" y2="296.60" stroke="#222" stroke-width="1.30"/>
<text x="72.09" y="291.40" style="font-family:'DejaVu Sans', sans-serif;font-size:11.50px" fill="#1c1c1c">3</text>
<text x="52.27" y="302.20" style="font-family:'DejaVu Sans', sans-serif;font-size:16.30px" fill="#1c1c1c">10</text>
<text x="-490.55" y="29.10" style="font-family:'DejaVu Sans', sans-serif;font-size:21.30px" fill="#1c1c1c" transform="rotate(-90 0.00 0.00)">Frequency</text>
<text x="587.82" y="23.90" style="font-family:'Liberation Sans', Arial, sans-serif;font-size:33.50px;font-weight:bold" fill="#111">b</text>
<text x="709.33" y="21.90" style="font-family:'Liberation Sans', Arial, sans-serif;font-size:29.02px" fill="#1c1c1c">Ancilla qubits</text>
<text x="1006.38" y="21.90" style="font-family:'Liberation Sans', Arial, sans-serif;font-size:29.38px" fill="#1c1c1c">Data qubits</text>
<text x="704.66" y="87.40" style="font-family:'Liberation Sans', Arial, sans-serif;font-size:28.50px" fill="#1c1c1c">5P</text>
<text x="739.85" y="94.00" style="font-family:'Liberation Sans', Arial, sans-serif;font-size:17.43px" fill="#1c1c1c">3/2</text>
<text x="712.13" y="231.20" style="font-family:'Liberation Sans', Arial, sans-serif;font-size:31.65px" fill="#1c1c1c">5S</text>
<text x="748.73" y="237.00" style="font-family:'Liberation Sans', Arial, sans-serif;font-size:16.92px" fill="#1c1c1c">1/2</text>
<line x1="784.10" y1="78.00" x2="854.00" y2="78.00" stroke="#1a1a1a" stroke-width="3.70"/>
<line x1="787.50" y1="221.80" x2="856.90" y2="221.80" stroke="#1a1a1a" stroke-width="3.70"/>
<line x1="821.50" y1="90.00" x2="821.50" y2="211.00" stroke="#a8591d" stroke-width="4.60"/>
<polygon points="821.50,81.40 828.25,92.90 814.75,92.90" fill="#a8591d" stroke="none" stroke-width="0.00"/>
<polygon points="821.50,219.60 814.75,208.10 828.25,208.10" fill="#a8591d" stroke="none" stroke-width="0.00"/>
<text x="708.53" y="155.50" style="font-family:'Liberation Sans', Arial, sans-serif;font-size:29.44px" fill="#a8591d">780 nm</text>
<polyline points="1010.40,77.70 1042.40,77.70 1055.20,54.00 1129.60,54.00" fill="none" stroke="#1a1a1a" stroke-width="3.70" stroke-linejoin="miter"/>
<polyline points="1013.60,221.70 1044.00,221.70 1061.60,235.90 1130.40,235.90" fill="none" stroke="#1a1a1a" stroke-width="3.70"/>
<line x1="1056.80" y1="92.10" x2="1130.40" y2="92.10" stroke="#1a1a1a" stroke-width="3.60" stroke-dasharray="3.8 4.6 7.4 4.6 7.4 4.6 7.4 4.6 7.4 4.6 7.4 4.6 7.4 4.6"/>
<line x1="1095.50" y1="102.00" x2="1095.50" y2="228.00" stroke="#a8591d" stroke-width="1.70"/>
<polygon points="1095.50,96.40 1099.75,104.40 1091.25,104.40" fill="#a8591d" stroke="none" stroke-width="0.00"/>
<polygon points="1095.50,234.00 1091.25,226.00 1099.75,226.00" fill="#a8591d" stroke="none" stroke-width="0.00"/>
<line x1="1187.20" y1="62.00" x2="1187.20" y2="90.00" stroke="#4b6a2e" stroke-width="3.20"/>
<polygon points="1187.20,52.40 1194.45,64.40 1179.95,64.40" fill="#4b6a2e" stroke="none" stroke-width="0.00"/>
<polygon points="1187.20,99.60 1179.95,87.60 1194.45,87.60" fill="#4b6a2e" stroke="none" stroke-width="0.00"/>
<text x="1201.25" y="70.80" style="font-family:'Liberation Sans', Arial, sans-serif;font-size:29.00px" fill="#4b6a2e">Trap light</text>
<text x="1201.60" y="105.20" style="font-family:'Liberation Sans', Arial, sans-serif;font-size:28.93px" fill="#4b6a2e">shift</text>
<text x="861.27" y="87.75" style="font-family:'Liberation Serif',serif;font-size:32.31px" fill="#1a1a1a">|</text>
<text x="868.62" y="89.26" style="font-family:'Liberation Serif', 'DejaVu Serif', serif;font-size:29.50px" fill="#1a1a1a">e</text>
<text x="-1.17" y="91.89" transform="translate(885.50 0) scale(0.491 1)" style="font-family:'Noto Serif CJK SC',serif;font-size:31.28px" fill="#1a1a1a" stroke="#1a1a1a" stroke-width="1.2">〉</text>
<text x="865.91" y="229.75" style="font-family:'Liberation Serif',serif;font-size:31.87px" fill="#1a1a1a">|</text>
<text x="873.31" y="230.80" style="font-family:'Liberation Serif', 'DejaVu Serif', serif;font-size:28.00px" fill="#1a1a1a">g</text>
<text x="-1.16" y="233.82" transform="translate(889.90 0) scale(0.498 1)" style="font-family:'Noto Serif CJK SC',serif;font-size:30.85px" fill="#1a1a1a" stroke="#1a1a1a" stroke-width="1.2">〉</text>
<text x="1134.17" y="63.55" style="font-family:'Liberation Serif',serif;font-size:32.31px" fill="#1a1a1a">|</text>
<text x="1141.72" y="65.06" style="font-family:'Liberation Serif', 'DejaVu Serif', serif;font-size:29.50px" fill="#1a1a1a">e</text>
<text x="-1.17" y="67.69" transform="translate(1158.00 0) scale(0.491 1)" style="font-family:'Noto Serif CJK SC',serif;font-size:31.28px" fill="#1a1a1a" stroke="#1a1a1a" stroke-width="1.2">〉</text>
<text x="1134.13" y="242.66" style="font-family:'Liberation Serif',serif;font-size:32.75px" fill="#1a1a1a">|</text>
<text x="1141.71" y="243.74" style="font-family:'Liberation Serif', 'DejaVu Serif', serif;font-size:28.00px" fill="#1a1a1a">g</text>
<text x="-1.19" y="246.85" transform="translate(1158.00 0) scale(0.484 1)" style="font-family:'Noto Serif CJK SC',serif;font-size:31.70px" fill="#1a1a1a" stroke="#1a1a1a" stroke-width="1.2">〉</text>
<text x="607.15" y="320.70" style="font-family:'Liberation Sans', Arial, sans-serif;font-size:29.08px" fill="#1c1c1c">Camera</text>
<text x="599.26" y="355.50" style="font-family:'Liberation Sans', Arial, sans-serif;font-size:29.20px" fill="#1c1c1c">exposure</text>
<text x="568.89" y="419.90" style="font-family:'Liberation Sans', Arial, sans-serif;font-size:29.21px" fill="#1c1c1c">Local imaging</text>
<text x="582.13" y="489.60" style="font-family:'Liberation Sans', Arial, sans-serif;font-size:28.74px" fill="#1c1c1c">Ancilla qubit</text>
<text x="594.36" y="524.50" style="font-family:'Liberation Sans', Arial, sans-serif;font-size:29.06px" fill="#1c1c1c">trap depth</text>
<text x="591.98" y="593.60" style="font-family:'Liberation Sans', Arial, sans-serif;font-size:29.30px" fill="#1c1c1c">Data qubit</text>
<text x="593.96" y="628.00" style="font-family:'Liberation Sans', Arial, sans-serif;font-size:29.06px" fill="#1c1c1c">trap depth</text>
<polyline points="759.50,334.10 934.90,334.10 934.90,304.40 1098.80,304.40" fill="none" stroke="#1a1a1a" stroke-width="2.50"/>
<rect x="1111.90" y="302.80" width="3.20" height="3.20" fill="#1a1a1a" stroke="none" stroke-width="0.00"/>
<rect x="1127.60" y="302.80" width="3.20" height="3.20" fill="#1a1a1a" stroke="none" stroke-width="0.00"/>
<rect x="1143.50" y="302.80" width="3.20" height="3.20" fill="#1a1a1a" stroke="none" stroke-width="0.00"/>
<rect x="1159.20" y="302.80" width="3.20" height="3.20" fill="#1a1a1a" stroke="none" stroke-width="0.00"/>
<rect x="1175.10" y="302.80" width="3.20" height="3.20" fill="#1a1a1a" stroke="none" stroke-width="0.00"/>
<polyline points="1190.40,304.30 1338.40,304.30 1338.40,331.50 1408.00,331.50" fill="none" stroke="#1a1a1a" stroke-width="2.50"/>
<text x="1064.97" y="330.10" style="font-family:'Liberation Sans', Arial, sans-serif;font-size:20.77px" fill="#1c1c1c">500-us exposure</text>
<polyline points="759.50,411.40 933.00,411.40 933.00,385.20 946.70,385.20 946.70,411.40 978.30,411.40 978.30,385.20 991.80,385.20 991.80,411.40 1023.80,411.40 1023.80,385.20 1037.30,385.20 1037.30,411.40 1069.10,411.40 1069.10,385.20 1082.60,385.20 1082.60,411.40 1099.40,411.40" fill="none" stroke="#a8591d" stroke-width="2.50"/>
<rect x="1111.90" y="409.80" width="3.20" height="3.20" fill="#a8591d" stroke="none" stroke-width="0.00"/>
<rect x="1128.40" y="409.80" width="3.20" height="3.20" fill="#a8591d" stroke="none" stroke-width="0.00"/>
<rect x="1144.30" y="409.80" width="3.20" height="3.20" fill="#a8591d" stroke="none" stroke-width="0.00"/>
<rect x="1160.70" y="409.80" width="3.20" height="3.20" fill="#a8591d" stroke="none" stroke-width="0.00"/>
<rect x="1177.40" y="409.80" width="3.20" height="3.20" fill="#a8591d" stroke="none" stroke-width="0.00"/>
<polyline points="1193.20,411.40 1193.20,385.20 1206.50,385.20 1206.50,411.40 1239.00,411.40 1239.00,385.20 1252.30,385.20 1252.30,411.40 1284.40,411.40 1284.40,385.20 1297.60,385.20 1297.60,411.40 1329.80,411.40 1329.80,385.20 1343.10,385.20 1343.10,411.40 1408.00,411.40" fill="none" stroke="#a8591d" stroke-width="2.50"/>
<text x="912.65" y="371.00" style="font-family:'Liberation Sans', Arial, sans-serif;font-size:20.98px" fill="#1c1c1c">200 ns</text>
<text x="1020.63" y="371.00" style="font-family:'Liberation Sans', Arial, sans-serif;font-size:20.88px" fill="#1c1c1c">400 ns</text>
<text x="911.52" y="444.50" style="font-family:'Liberation Sans', Arial, sans-serif;font-size:20.85px" fill="#1c1c1c">300 ns</text>
<text x="1020.21" y="444.50" style="font-family:'Liberation Sans', Arial, sans-serif;font-size:20.99px" fill="#1c1c1c">300 ns</text>
<line x1="935.00" y1="379.70" x2="945.00" y2="379.70" stroke="#1a1a1a" stroke-width="1.20"/>
<polygon points="932.00,379.70 936.20,377.40 936.20,382.00" fill="#1a1a1a" stroke="none" stroke-width="0.00"/>
<polygon points="948.00,379.70 943.80,382.00 943.80,377.40" fill="#1a1a1a" stroke="none" stroke-width="0.00"/>
<line x1="1040.60" y1="380.20" x2="1065.60" y2="380.20" stroke="#1a1a1a" stroke-width="1.20"/>
<polygon points="1037.60,380.20 1041.80,377.90 1041.80,382.50" fill="#1a1a1a" stroke="none" stroke-width="0.00"/>
<polygon points="1068.60,380.20 1064.40,382.50 1064.40,377.90" fill="#1a1a1a" stroke="none" stroke-width="0.00"/>
<line x1="931.70" y1="455.40" x2="948.00" y2="455.40" stroke="#1a1a1a" stroke-width="1.20"/>
<polygon points="928.70,455.40 932.90,453.10 932.90,457.70" fill="#1a1a1a" stroke="none" stroke-width="0.00"/>
<polygon points="951.00,455.40 946.80,457.70 946.80,453.10" fill="#1a1a1a" stroke="none" stroke-width="0.00"/>
<line x1="1044.30" y1="455.40" x2="1062.00" y2="455.40" stroke="#1a1a1a" stroke-width="1.20"/>
<polygon points="1041.30,455.40 1045.50,453.10 1045.50,457.70" fill="#1a1a1a" stroke="none" stroke-width="0.00"/>
<polygon points="1065.00,455.40 1060.80,457.70 1060.80,453.10" fill="#1a1a1a" stroke="none" stroke-width="0.00"/>
<polyline points="757.60,512.20 778.40,512.20 802.80,463.10 928.40,463.10 928.40,532.80 951.50,532.80 951.50,463.10 973.80,463.10 973.80,532.80 996.50,532.80 996.50,463.10 1019.20,463.10 1019.20,532.80 1041.70,532.80 1041.70,463.10 1064.30,463.10 1064.30,532.80 1087.10,532.80 1087.10,463.10 1103.50,463.10" fill="none" stroke="#1a1a1a" stroke-width="2.50"/>
<rect x="1120.10" y="461.50" width="3.20" height="3.20" fill="#1a1a1a" stroke="none" stroke-width="0.00"/>
<rect x="1136.90" y="461.50" width="3.20" height="3.20" fill="#1a1a1a" stroke="none" stroke-width="0.00"/>
<rect x="1153.60" y="461.50" width="3.20" height="3.20" fill="#1a1a1a" stroke="none" stroke-width="0.00"/>
<rect x="1170.10" y="461.50" width="3.20" height="3.20" fill="#1a1a1a" stroke="none" stroke-width="0.00"/>
<polyline points="1186.50,463.10 1188.10,463.10 1188.10,532.80 1211.60,532.80 1211.60,463.10 1233.90,463.10 1233.90,532.80 1257.00,532.80 1257.00,463.10 1279.40,463.10 1279.40,532.80 1302.50,532.80 1302.50,463.10 1325.30,463.10 1325.30,532.80 1348.40,532.80 1348.40,463.10 1408.10,463.10" fill="none" stroke="#1a1a1a" stroke-width="2.50"/>
<line x1="756.70" y1="534.20" x2="1408.00" y2="534.20" stroke="#8a8a8a" stroke-width="1.20"/>
<text x="795.63" y="508.50" style="font-family:'Liberation Sans', Arial, sans-serif;font-size:29.36px" fill="#1c1c1c">5x depth</text>
<line x1="913.50" y1="474.00" x2="913.50" y2="524.00" stroke="#1a1a1a" stroke-width="2.50"/>
<polygon points="913.50,465.20 920.00,476.50 907.00,476.50" fill="#1a1a1a" stroke="none" stroke-width="0.00"/>
<polygon points="913.50,533.00 907.00,521.70 920.00,521.70" fill="#1a1a1a" stroke="none" stroke-width="0.00"/>
<polyline points="759.50,604.10 822.60,604.10 843.30,578.60 1099.30,578.60" fill="none" stroke="#4b6a2e" stroke-width="2.50"/>
<rect x="1113.80" y="577.00" width="3.20" height="3.20" fill="#4b6a2e" stroke="none" stroke-width="0.00"/>
<rect x="1132.00" y="577.00" width="3.20" height="3.20" fill="#4b6a2e" stroke="none" stroke-width="0.00"/>
<rect x="1150.10" y="577.00" width="3.20" height="3.20" fill="#4b6a2e" stroke="none" stroke-width="0.00"/>
<rect x="1168.00" y="577.00" width="3.20" height="3.20" fill="#4b6a2e" stroke="none" stroke-width="0.00"/>
<polyline points="1184.30,578.60 1360.50,578.60 1373.10,600.50 1408.00,600.50" fill="none" stroke="#4b6a2e" stroke-width="2.50"/>
<line x1="759.00" y1="627.80" x2="1408.00" y2="627.80" stroke="#8a8a8a" stroke-width="1.20"/>
<text x="849.32" y="614.80" style="font-family:'Liberation Sans', Arial, sans-serif;font-size:29.55px" fill="#4b6a2e">2x depth</text>
<line x1="974.10" y1="590.00" x2="974.10" y2="617.00" stroke="#4b6a2e" stroke-width="2.50"/>
<polygon points="974.10,580.80 980.35,591.80 967.85,591.80" fill="#4b6a2e" stroke="none" stroke-width="0.00"/>
<polygon points="974.10,626.30 967.85,615.30 980.35,615.30" fill="#4b6a2e" stroke="none" stroke-width="0.00"/>
<text x="1389.58" y="17.60" style="font-family:'Liberation Sans', Arial, sans-serif;font-size:33.00px;font-weight:bold" fill="#111">c</text>
<line x1="1680.60" y1="128.00" x2="1495.80" y2="232.30" stroke="#555555" stroke-width="2.50"/>
<line x1="1799.50" y1="128.30" x2="2043.60" y2="232.30" stroke="#555555" stroke-width="2.50"/>
<rect x="1450.00" y="28.00" width="119.30" height="100.10" fill="#e7e7e7" stroke="#555555" stroke-width="2.30"/>
<text x="1459.34" y="62.50" style="font-family:'Liberation Sans', Arial, sans-serif;font-size:27.28px" fill="#1c1c1c">Camera</text>
<rect x="1491.6" y="76.3" width="44.9" height="44.7" rx="4" ry="4" fill="#d6d6d8" stroke="#555555" stroke-width="1.9"/>
<polygon points="1475.50,90.90 1475.50,106.40 1489.40,98.60" fill="#e9e9e9" stroke="#555555" stroke-width="1.60"/>
<path d="M1496.3 109.2 A17.1 16.8 0 0 1 1530.4 109.4" fill="none" stroke="#555555" stroke-width="2.60" stroke-linecap="round"/>
<line x1="1509.00" y1="112.70" x2="1525.30" y2="85.00" stroke="#555555" stroke-width="2.60" stroke-linecap="round"/>
<polyline points="1519.00,86.30 1526.50,83.00 1526.30,91.00" fill="none" stroke="#555555" stroke-width="2.40" stroke-linejoin="miter"/>
<line x1="1569.40" y1="82.60" x2="1680.40" y2="82.60" stroke="#555555" stroke-width="2.40"/>
<rect x="1680.40" y="28.00" width="119.30" height="100.10" fill="#e7e7e7" stroke="#555555" stroke-width="2.30"/>
<text x="1699.77" y="61.70" style="font-family:'Liberation Sans', Arial, sans-serif;font-size:27.07px" fill="#1c1c1c">FPGA</text>
<line x1="1727.80" y1="71.00" x2="1727.80" y2="80.00" stroke="#555555" stroke-width="2.30"/>
<line x1="1727.80" y1="112.30" x2="1727.80" y2="120.50" stroke="#555555" stroke-width="2.30"/>
<line x1="1735.60" y1="71.00" x2="1735.60" y2="80.00" stroke="#555555" stroke-width="2.30"/>
<line x1="1735.60" y1="112.30" x2="1735.60" y2="120.50" stroke="#555555" stroke-width="2.30"/>
<line x1="1744.10" y1="71.00" x2="1744.10" y2="80.00" stroke="#555555" stroke-width="2.30"/>
<line x1="1744.10" y1="112.30" x2="1744.10" y2="120.50" stroke="#555555" stroke-width="2.30"/>
<line x1="1752.20" y1="71.00" x2="1752.20" y2="80.00" stroke="#555555" stroke-width="2.30"/>
<line x1="1752.20" y1="112.30" x2="1752.20" y2="120.50" stroke="#555555" stroke-width="2.30"/>
<line x1="1714.20" y1="84.30" x2="1723.00" y2="84.30" stroke="#555555" stroke-width="2.30"/>
<line x1="1755.00" y1="84.30" x2="1764.00" y2="84.30" stroke="#555555" stroke-width="2.30"/>
<line x1="1714.20" y1="92.10" x2="1723.00" y2="92.10" stroke="#555555" stroke-width="2.30"/>
<line x1="1755.00" y1="92.10" x2="1764.00" y2="92.10" stroke="#555555" stroke-width="2.30"/>
<line x1="1714.20" y1="99.90" x2="1723.00" y2="99.90" stroke="#555555" stroke-width="2.30"/>
<line x1="1755.00" y1="99.90" x2="1764.00" y2="99.90" stroke="#555555" stroke-width="2.30"/>
<line x1="1714.20" y1="107.80" x2="1723.00" y2="107.80" stroke="#555555" stroke-width="2.30"/>
<line x1="1755.00" y1="107.80" x2="1764.00" y2="107.80" stroke="#555555" stroke-width="2.30"/>
<rect x="1722.8" y="79.6" width="32.4" height="33.1" rx="4.5" ry="4.5" fill="#dcdcde" stroke="#555555" stroke-width="2.1"/>
<line x1="1799.50" y1="80.20" x2="1974.10" y2="80.20" stroke="#555555" stroke-width="2.20"/>
<line x1="1799.50" y1="85.70" x2="1974.10" y2="85.70" stroke="#555555" stroke-width="2.20"/>
<text x="1828.28" y="34.40" style="font-family:'Liberation Sans', Arial, sans-serif;font-size:28.32px" fill="#1c1c1c">Conditional</text>
<text x="1875.80" y="68.10" style="font-family:'Liberation Sans', Arial, sans-serif;font-size:26.88px" fill="#1c1c1c">TTL</text>
<rect x="2020.60" y="11.80" width="35.50" height="47.00" fill="#e7e7e7" stroke="#555555" stroke-width="2.10"/>
<rect x="1974.10" y="58.80" width="82.00" height="42.90" fill="#e7e7e7" stroke="#555555" stroke-width="2.10"/>
<text x="1988.23" y="91.90" style="font-family:'Liberation Sans', Arial, sans-serif;font-size:26.97px" fill="#1c1c1c">AOD</text>
<line x1="2058.00" y1="77.60" x2="2084.30" y2="68.20" stroke="#ee958c" stroke-width="4.00"/>
<line x1="2058.50" y1="82.00" x2="2086.60" y2="82.00" stroke="#ee958c" stroke-width="4.00"/>
<line x1="2058.00" y1="86.60" x2="2084.60" y2="97.00" stroke="#ee958c" stroke-width="4.00"/>
<text x="1939.00" y="137.20" style="font-family:'Liberation Sans', Arial, sans-serif;font-size:27.87px" fill="#1c1c1c">Local Raman</text>
<text x="1947.28" y="169.50" style="font-family:'Liberation Sans', Arial, sans-serif;font-size:28.02px" fill="#1c1c1c">feedforward</text>
<rect x="1495.80" y="232.30" width="547.80" height="393.50" fill="#f4f6f6" stroke="#555555" stroke-width="2.30"/>
<rect x="1521.50" y="268.60" width="313.30" height="105.60" fill="#f3f8fa" stroke="none" stroke-width="0.00"/>
<rect x="1521.50" y="318.10" width="3.30" height="3.30" fill="#ecf4f6" stroke="none" stroke-width="0.00"/>
<rect x="1521.50" y="334.60" width="3.30" height="3.30" fill="#e7f0f2" stroke="none" stroke-width="0.00"/>
<rect x="1521.50" y="337.90" width="3.30" height="3.30" fill="#eaf2f4" stroke="none" stroke-width="0.00"/>
<rect x="1521.50" y="347.80" width="3.30" height="3.30" fill="#ecf4f6" stroke="none" stroke-width="0.00"/>
<rect x="1521.50" y="367.60" width="3.30" height="3.30" fill="#eaf2f4" stroke="none" stroke-width="0.00"/>
<rect x="1524.80" y="298.30" width="3.30" height="3.30" fill="#eaf2f4" stroke="none" stroke-width="0.00"/>
<rect x="1524.80" y="318.10" width="3.30" height="3.30" fill="#eaf2f4" stroke="none" stroke-width="0.00"/>
<rect x="1524.80" y="324.70" width="3.30" height="3.30" fill="#ecf4f6" stroke="none" stroke-width="0.00"/>
<rect x="1524.80" y="334.60" width="3.30" height="3.30" fill="#e7f0f2" stroke="none" stroke-width="0.00"/>
<rect x="1524.80" y="351.10" width="3.30" height="3.30" fill="#ecf4f6" stroke="none" stroke-width="0.00"/>
<rect x="1524.80" y="367.60" width="3.30" height="3.30" fill="#ecf4f6" stroke="none" stroke-width="0.00"/>
<rect x="1528.10" y="354.40" width="3.30" height="3.30" fill="#eaf2f4" stroke="none" stroke-width="0.00"/>
<rect x="1528.10" y="364.30" width="3.30" height="3.30" fill="#ecf4f6" stroke="none" stroke-width="0.00"/>
<rect x="1531.40" y="331.30" width="3.30" height="3.30" fill="#ecf4f6" stroke="none" stroke-width="0.00"/>
<rect x="1531.40" y="361.00" width="3.30" height="3.30" fill="#eaf2f4" stroke="none" stroke-width="0.00"/>
<rect x="1534.70" y="271.90" width="3.30" height="3.30" fill="#eaf2f4" stroke="none" stroke-width="0.00"/>
<rect x="1534.70" y="281.80" width="3.30" height="3.30" fill="#ecf4f6" stroke="none" stroke-width="0.00"/>
<rect x="1534.70" y="291.70" width="3.30" height="3.30" fill="#ecf4f6" stroke="none" stroke-width="0.00"/>
<rect x="1534.70" y="328.00" width="3.30" height="3.30" fill="#eaf2f4" stroke="none" stroke-width="0.00"/>
<rect x="1534.70" y="341.20" width="3.30" height="3.30" fill="#e7f0f2" stroke="none" stroke-width="0.00"/>
<rect x="1534.70" y="361.00" width="3.30" height="3.30" fill="#e7f0f2" stroke="none" stroke-width="0.00"/>
<rect x="1534.70" y="367.60" width="3.30" height="3.30" fill="#e7f0f2" stroke="none" stroke-width="0.00"/>
<rect x="1538.00" y="281.80" width="3.30" height="3.30" fill="#dde9e8" stroke="none" stroke-width="0.00"/>
<rect x="1538.00" y="318.10" width="3.30" height="3.30" fill="#dbe8ec" stroke="none" stroke-width="0.00"/>
<rect x="1538.00" y="347.80" width="3.30" height="3.30" fill="#dbe8ec" stroke="none" stroke-width="0.00"/>
<rect x="1538.00" y="354.40" width="3.30" height="3.30" fill="#dbe8ec" stroke="none" stroke-width="0.00"/>
<rect x="1541.30" y="275.20" width="3.30" height="3.30" fill="#ecf4f6" stroke="none" stroke-width="0.00"/>
<rect x="1541.30" y="347.80" width="3.30" height="3.30" fill="#eaf2f4" stroke="none" stroke-width="0.00"/>
<rect x="1544.60" y="291.70" width="3.30" height="3.30" fill="#eaf2f4" stroke="none" stroke-width="0.00"/>
<rect x="1544.60" y="361.00" width="3.30" height="3.30" fill="#eaf2f4" stroke="none" stroke-width="0.00"/>
<rect x="1547.90" y="271.90" width="3.30" height="3.30" fill="#ecf4f6" stroke="none" stroke-width="0.00"/>
<rect x="1547.90" y="278.50" width="3.30" height="3.30" fill="#eaf2f4" stroke="none" stroke-width="0.00"/>
<rect x="1547.90" y="311.50" width="3.30" height="3.30" fill="#dde9e8" stroke="none" stroke-width="0.00"/>
<rect x="1551.20" y="298.30" width="3.30" height="3.30" fill="#dde9e8" stroke="none" stroke-width="0.00"/>
<rect x="1551.20" y="324.70" width="3.30" height="3.30" fill="#e7f0f2" stroke="none" stroke-width="0.00"/>
<rect x="1551.20" y="364.30" width="3.30" height="3.30" fill="#dbe8ec" stroke="none" stroke-width="0.00"/>
<rect x="1554.50" y="328.00" width="3.30" height="3.30" fill="#ecf4f6" stroke="none" stroke-width="0.00"/>
<rect x="1554.50" y="331.30" width="3.30" height="3.30" fill="#eaf2f4" stroke="none" stroke-width="0.00"/>
<rect x="1554.50" y="354.40" width="3.30" height="3.30" fill="#e7f0f2" stroke="none" stroke-width="0.00"/>
<rect x="1557.80" y="298.30" width="3.30" height="3.30" fill="#ecf4f6" stroke="none" stroke-width="0.00"/>
<rect x="1557.80" y="308.20" width="3.30" height="3.30" fill="#eaf2f4" stroke="none" stroke-width="0.00"/>
<rect x="1557.80" y="314.80" width="3.30" height="3.30" fill="#ecf4f6" stroke="none" stroke-width="0.00"/>
<rect x="1561.10" y="357.70" width="3.30" height="3.30" fill="#eaf2f4" stroke="none" stroke-width="0.00"/>
<rect x="1564.40" y="295.00" width="3.30" height="3.30" fill="#e7f0f2" stroke="none" stroke-width="0.00"/>
<rect x="1564.40" y="337.90" width="3.30" height="3.30" fill="#eaf2f4" stroke="none" stroke-width="0.00"/>
<rect x="1564.40" y="357.70" width="3.30" height="3.30" fill="#e7f0f2" stroke="none" stroke-width="0.00"/>
<rect x="1564.40" y="361.00" width="3.30" height="3.30" fill="#eaf2f4" stroke="none" stroke-width="0.00"/>
<rect x="1567.70" y="285.10" width="3.30" height="3.30" fill="#eaf2f4" stroke="none" stroke-width="0.00"/>
<rect x="1567.70" y="361.00" width="3.30" height="3.30" fill="#ecf4f6" stroke="none" stroke-width="0.00"/>
<rect x="1571.00" y="278.50" width="3.30" height="3.30" fill="#ecf4f6" stroke="none" stroke-width="0.00"/>
<rect x="1571.00" y="321.40" width="3.30" height="3.30" fill="#e7f0f2" stroke="none" stroke-width="0.00"/>
<rect x="1571.00" y="344.50" width="3.30" height="3.30" fill="#ecf4f6" stroke="none" stroke-width="0.00"/>
<rect x="1574.30" y="275.20" width="3.30" height="3.30" fill="#e7f0f2" stroke="none" stroke-width="0.00"/>
<rect x="1574.30" y="344.50" width="3.30" height="3.30" fill="#eaf2f4" stroke="none" stroke-width="0.00"/>
<rect x="1574.30" y="361.00" width="3.30" height="3.30" fill="#ecf4f6" stroke="none" stroke-width="0.00"/>
<rect x="1574.30" y="367.60" width="3.30" height="3.30" fill="#e7f0f2" stroke="none" stroke-width="0.00"/>
<rect x="1577.60" y="271.90" width="3.30" height="3.30" fill="#eaf2f4" stroke="none" stroke-width="0.00"/>
<rect x="1577.60" y="324.70" width="3.30" height="3.30" fill="#e7f0f2" stroke="none" stroke-width="0.00"/>
<rect x="1580.90" y="328.00" width="3.30" height="3.30" fill="#ecf4f6" stroke="none" stroke-width="0.00"/>
<rect x="1580.90" y="344.50" width="3.30" height="3.30" fill="#eaf2f4" stroke="none" stroke-width="0.00"/>
<rect x="1584.20" y="364.30" width="3.30" height="3.30" fill="#ecf4f6" stroke="none" stroke-width="0.00"/>
<rect x="1587.50" y="271.90" width="3.30" height="3.30" fill="#dde9e8" stroke="none" stroke-width="0.00"/>
<rect x="1587.50" y="344.50" width="3.30" height="3.30" fill="#dde9e8" stroke="none" stroke-width="0.00"/>
<rect x="1587.50" y="347.80" width="3.30" height="3.30" fill="#e7f0f2" stroke="none" stroke-width="0.00"/>
<rect x="1590.80" y="288.40" width="3.30" height="3.30" fill="#e7f0f2" stroke="none" stroke-width="0.00"/>
<rect x="1590.80" y="291.70" width="3.30" height="3.30" fill="#eaf2f4" stroke="none" stroke-width="0.00"/>
<rect x="1590.80" y="308.20" width="3.30" height="3.30" fill="#e7f0f2" stroke="none" stroke-width="0.00"/>
<rect x="1590.80" y="331.30" width="3.30" height="3.30" fill="#e7f0f2" stroke="none" stroke-width="0.00"/>
<rect x="1594.10" y="364.30" width="3.30" height="3.30" fill="#ecf4f6" stroke="none" stroke-width="0.00"/>
<rect x="1597.40" y="285.10" width="3.30" height="3.30" fill="#ecf4f6" stroke="none" stroke-width="0.00"/>
<rect x="1597.40" y="291.70" width="3.30" height="3.30" fill="#eaf2f4" stroke="none" stroke-width="0.00"/>
<rect x="1600.70" y="291.70" width="3.30" height="3.30" fill="#eaf2f4" stroke="none" stroke-width="0.00"/>
<rect x="1600.70" y="347.80" width="3.30" height="3.30" fill="#e7f0f2" stroke="none" stroke-width="0.00"/>
<rect x="1600.70" y="354.40" width="3.30" height="3.30" fill="#eaf2f4" stroke="none" stroke-width="0.00"/>
<rect x="1600.70" y="361.00" width="3.30" height="3.30" fill="#dde9e8" stroke="none" stroke-width="0.00"/>
<rect x="1604.00" y="275.20" width="3.30" height="3.30" fill="#dde9e8" stroke="none" stroke-width="0.00"/>
<rect x="1604.00" y="278.50" width="3.30" height="3.30" fill="#eaf2f4" stroke="none" stroke-width="0.00"/>
<rect x="1604.00" y="318.10" width="3.30" height="3.30" fill="#ecf4f6" stroke="none" stroke-width="0.00"/>
<rect x="1604.00" y="328.00" width="3.30" height="3.30" fill="#eaf2f4" stroke="none" stroke-width="0.00"/>
<rect x="1604.00" y="354.40" width="3.30" height="3.30" fill="#ecf4f6" stroke="none" stroke-width="0.00"/>
<rect x="1607.30" y="308.20" width="3.30" height="3.30" fill="#dbe8ec" stroke="none" stroke-width="0.00"/>
<rect x="1610.60" y="281.80" width="3.30" height="3.30" fill="#ecf4f6" stroke="none" stroke-width="0.00"/>
<rect x="1613.90" y="308.20" width="3.30" height="3.30" fill="#e7f0f2" stroke="none" stroke-width="0.00"/>
<rect x="1613.90" y="314.80" width="3.30" height="3.30" fill="#dbe8ec" stroke="none" stroke-width="0.00"/>
<rect x="1613.90" y="357.70" width="3.30" height="3.30" fill="#ecf4f6" stroke="none" stroke-width="0.00"/>
<rect x="1617.20" y="278.50" width="3.30" height="3.30" fill="#e7f0f2" stroke="none" stroke-width="0.00"/>
<rect x="1617.20" y="301.60" width="3.30" height="3.30" fill="#eaf2f4" stroke="none" stroke-width="0.00"/>
<rect x="1617.20" y="347.80" width="3.30" height="3.30" fill="#e7f0f2" stroke="none" stroke-width="0.00"/>
<rect x="1620.50" y="275.20" width="3.30" height="3.30" fill="#e7f0f2" stroke="none" stroke-width="0.00"/>
<rect x="1620.50" y="347.80" width="3.30" height="3.30" fill="#eaf2f4" stroke="none" stroke-width="0.00"/>
<rect x="1623.80" y="347.80" width="3.30" height="3.30" fill="#e7f0f2" stroke="none" stroke-width="0.00"/>
<rect x="1623.80" y="364.30" width="3.30" height="3.30" fill="#eaf2f4" stroke="none" stroke-width="0.00"/>
<rect x="1627.10" y="268.60" width="3.30" height="3.30" fill="#eaf2f4" stroke="none" stroke-width="0.00"/>
<rect x="1627.10" y="271.90" width="3.30" height="3.30" fill="#ecf4f6" stroke="none" stroke-width="0.00"/>
<rect x="1627.10" y="288.40" width="3.30" height="3.30" fill="#eaf2f4" stroke="none" stroke-width="0.00"/>
<rect x="1627.10" y="324.70" width="3.30" height="3.30" fill="#ecf4f6" stroke="none" stroke-width="0.00"/>
<rect x="1627.10" y="361.00" width="3.30" height="3.30" fill="#eaf2f4" stroke="none" stroke-width="0.00"/>
<rect x="1630.40" y="361.00" width="3.30" height="3.30" fill="#e7f0f2" stroke="none" stroke-width="0.00"/>
<rect x="1630.40" y="364.30" width="3.30" height="3.30" fill="#eaf2f4" stroke="none" stroke-width="0.00"/>
<rect x="1630.40" y="367.60" width="3.30" height="3.30" fill="#e7f0f2" stroke="none" stroke-width="0.00"/>
<rect x="1633.70" y="278.50" width="3.30" height="3.30" fill="#dde9e8" stroke="none" stroke-width="0.00"/>
<rect x="1633.70" y="295.00" width="3.30" height="3.30" fill="#eaf2f4" stroke="none" stroke-width="0.00"/>
<rect x="1633.70" y="301.60" width="3.30" height="3.30" fill="#ecf4f6" stroke="none" stroke-width="0.00"/>
<rect x="1633.70" y="311.50" width="3.30" height="3.30" fill="#ecf4f6" stroke="none" stroke-width="0.00"/>
<rect x="1633.70" y="314.80" width="3.30" height="3.30" fill="#eaf2f4" stroke="none" stroke-width="0.00"/>
<rect x="1637.00" y="298.30" width="3.30" height="3.30" fill="#e7f0f2" stroke="none" stroke-width="0.00"/>
<rect x="1637.00" y="304.90" width="3.30" height="3.30" fill="#ecf4f6" stroke="none" stroke-width="0.00"/>
<rect x="1637.00" y="318.10" width="3.30" height="3.30" fill="#ecf4f6" stroke="none" stroke-width="0.00"/>
<rect x="1637.00" y="334.60" width="3.30" height="3.30" fill="#eaf2f4" stroke="none" stroke-width="0.00"/>
<rect x="1637.00" y="361.00" width="3.30" height="3.30" fill="#ecf4f6" stroke="none" stroke-width="0.00"/>
<rect x="1640.30" y="344.50" width="3.30" height="3.30" fill="#ecf4f6" stroke="none" stroke-width="0.00"/>
<rect x="1640.30" y="364.30" width="3.30" height="3.30" fill="#eaf2f4" stroke="none" stroke-width="0.00"/>
<rect x="1643.60" y="291.70" width="3.30" height="3.30" fill="#dbe8ec" stroke="none" stroke-width="0.00"/>
<rect x="1643.60" y="308.20" width="3.30" height="3.30" fill="#ecf4f6" stroke="none" stroke-width="0.00"/>
<rect x="1643.60" y="351.10" width="3.30" height="3.30" fill="#ecf4f6" stroke="none" stroke-width="0.00"/>
<rect x="1646.90" y="298.30" width="3.30" height="3.30" fill="#e7f0f2" stroke="none" stroke-width="0.00"/>
<rect x="1646.90" y="334.60" width="3.30" height="3.30" fill="#e7f0f2" stroke="none" stroke-width="0.00"/>
<rect x="1646.90" y="354.40" width="3.30" height="3.30" fill="#ecf4f6" stroke="none" stroke-width="0.00"/>
<rect x="1653.50" y="271.90" width="3.30" height="3.30" fill="#e7f0f2" stroke="none" stroke-width="0.00"/>
<rect x="1653.50" y="308.20" width="3.30" height="3.30" fill="#dde9e8" stroke="none" stroke-width="0.00"/>
<rect x="1656.80" y="311.50" width="3.30" height="3.30" fill="#eaf2f4" stroke="none" stroke-width="0.00"/>
<rect x="1660.10" y="285.10" width="3.30" height="3.30" fill="#eaf2f4" stroke="none" stroke-width="0.00"/>
<rect x="1660.10" y="301.60" width="3.30" height="3.30" fill="#e7f0f2" stroke="none" stroke-width="0.00"/>
<rect x="1660.10" y="318.10" width="3.30" height="3.30" fill="#e7f0f2" stroke="none" stroke-width="0.00"/>
<rect x="1660.10" y="324.70" width="3.30" height="3.30" fill="#e7f0f2" stroke="none" stroke-width="0.00"/>
<rect x="1663.40" y="324.70" width="3.30" height="3.30" fill="#eaf2f4" stroke="none" stroke-width="0.00"/>
<rect x="1663.40" y="347.80" width="3.30" height="3.30" fill="#e7f0f2" stroke="none" stroke-width="0.00"/>
<rect x="1663.40" y="357.70" width="3.30" height="3.30" fill="#ecf4f6" stroke="none" stroke-width="0.00"/>
<rect x="1670.00" y="308.20" width="3.30" height="3.30" fill="#ecf4f6" stroke="none" stroke-width="0.00"/>
<rect x="1673.30" y="271.90" width="3.30" height="3.30" fill="#e7f0f2" stroke="none" stroke-width="0.00"/>
<rect x="1673.30" y="288.40" width="3.30" height="3.30" fill="#dbe8ec" stroke="none" stroke-width="0.00"/>
<rect x="1673.30" y="298.30" width="3.30" height="3.30" fill="#eaf2f4" stroke="none" stroke-width="0.00"/>
<rect x="1673.30" y="301.60" width="3.30" height="3.30" fill="#ecf4f6" stroke="none" stroke-width="0.00"/>
<rect x="1673.30" y="308.20" width="3.30" height="3.30" fill="#ecf4f6" stroke="none" stroke-width="0.00"/>
<rect x="1673.30" y="337.90" width="3.30" height="3.30" fill="#e7f0f2" stroke="none" stroke-width="0.00"/>
<rect x="1676.60" y="268.60" width="3.30" height="3.30" fill="#eaf2f4" stroke="none" stroke-width="0.00"/>
<rect x="1676.60" y="285.10" width="3.30" height="3.30" fill="#e7f0f2" stroke="none" stroke-width="0.00"/>
<rect x="1676.60" y="295.00" width="3.30" height="3.30" fill="#eaf2f4" stroke="none" stroke-width="0.00"/>
<rect x="1676.60" y="298.30" width="3.30" height="3.30" fill="#ecf4f6" stroke="none" stroke-width="0.00"/>
<rect x="1676.60" y="301.60" width="3.30" height="3.30" fill="#e7f0f2" stroke="none" stroke-width="0.00"/>
<rect x="1676.60" y="354.40" width="3.30" height="3.30" fill="#eaf2f4" stroke="none" stroke-width="0.00"/>
<rect x="1679.90" y="331.30" width="3.30" height="3.30" fill="#e7f0f2" stroke="none" stroke-width="0.00"/>
<rect x="1679.90" y="334.60" width="3.30" height="3.30" fill="#eaf2f4" stroke="none" stroke-width="0.00"/>
<rect x="1686.50" y="278.50" width="3.30" height="3.30" fill="#e7f0f2" stroke="none" stroke-width="0.00"/>
<rect x="1686.50" y="288.40" width="3.30" height="3.30" fill="#eaf2f4" stroke="none" stroke-width="0.00"/>
<rect x="1686.50" y="361.00" width="3.30" height="3.30" fill="#eaf2f4" stroke="none" stroke-width="0.00"/>
<rect x="1689.80" y="291.70" width="3.30" height="3.30" fill="#e7f0f2" stroke="none" stroke-width="0.00"/>
<rect x="1689.80" y="304.90" width="3.30" height="3.30" fill="#ecf4f6" stroke="none" stroke-width="0.00"/>
<rect x="1689.80" y="334.60" width="3.30" height="3.30" fill="#ecf4f6" stroke="none" stroke-width="0.00"/>
<rect x="1689.80" y="354.40" width="3.30" height="3.30" fill="#e7f0f2" stroke="none" stroke-width="0.00"/>
<rect x="1689.80" y="364.30" width="3.30" height="3.30" fill="#e7f0f2" stroke="none" stroke-width="0.00"/>
<rect x="1693.10" y="288.40" width="3.30" height="3.30" fill="#ecf4f6" stroke="none" stroke-width="0.00"/>
<rect x="1693.10" y="321.40" width="3.30" height="3.30" fill="#ecf4f6" stroke="none" stroke-width="0.00"/>
<rect x="1696.40" y="334.60" width="3.30" height="3.30" fill="#ecf4f6" stroke="none" stroke-width="0.00"/>
<rect x="1696.40" y="354.40" width="3.30" height="3.30" fill="#e7f0f2" stroke="none" stroke-width="0.00"/>
<rect x="1699.70" y="298.30" width="3.30" height="3.30" fill="#dde9e8" stroke="none" stroke-width="0.00"/>
<rect x="1699.70" y="301.60" width="3.30" height="3.30" fill="#eaf2f4" stroke="none" stroke-width="0.00"/>
<rect x="1699.70" y="321.40" width="3.30" height="3.30" fill="#e7f0f2" stroke="none" stroke-width="0.00"/>
<rect x="1699.70" y="328.00" width="3.30" height="3.30" fill="#eaf2f4" stroke="none" stroke-width="0.00"/>
<rect x="1703.00" y="268.60" width="3.30" height="3.30" fill="#ecf4f6" stroke="none" stroke-width="0.00"/>
<rect x="1703.00" y="304.90" width="3.30" height="3.30" fill="#e7f0f2" stroke="none" stroke-width="0.00"/>
<rect x="1706.30" y="275.20" width="3.30" height="3.30" fill="#eaf2f4" stroke="none" stroke-width="0.00"/>
<rect x="1706.30" y="281.80" width="3.30" height="3.30" fill="#dde9e8" stroke="none" stroke-width="0.00"/>
<rect x="1706.30" y="298.30" width="3.30" height="3.30" fill="#eaf2f4" stroke="none" stroke-width="0.00"/>
<rect x="1709.60" y="351.10" width="3.30" height="3.30" fill="#dde9e8" stroke="none" stroke-width="0.00"/>
<rect x="1712.90" y="291.70" width="3.30" height="3.30" fill="#ecf4f6" stroke="none" stroke-width="0.00"/>
<rect x="1712.90" y="308.20" width="3.30" height="3.30" fill="#ecf4f6" stroke="none" stroke-width="0.00"/>
<rect x="1712.90" y="344.50" width="3.30" height="3.30" fill="#eaf2f4" stroke="none" stroke-width="0.00"/>
<rect x="1712.90" y="357.70" width="3.30" height="3.30" fill="#eaf2f4" stroke="none" stroke-width="0.00"/>
<rect x="1716.20" y="278.50" width="3.30" height="3.30" fill="#dbe8ec" stroke="none" stroke-width="0.00"/>
<rect x="1716.20" y="281.80" width="3.30" height="3.30" fill="#dbe8ec" stroke="none" stroke-width="0.00"/>
<rect x="1716.20" y="304.90" width="3.30" height="3.30" fill="#ecf4f6" stroke="none" stroke-width="0.00"/>
<rect x="1716.20" y="308.20" width="3.30" height="3.30" fill="#e7f0f2" stroke="none" stroke-width="0.00"/>
<rect x="1716.20" y="311.50" width="3.30" height="3.30" fill="#dbe8ec" stroke="none" stroke-width="0.00"/>
<rect x="1716.20" y="321.40" width="3.30" height="3.30" fill="#e7f0f2" stroke="none" stroke-width="0.00"/>
<rect x="1716.20" y="331.30" width="3.30" height="3.30" fill="#e7f0f2" stroke="none" stroke-width="0.00"/>
<rect x="1716.20" y="354.40" width="3.30" height="3.30" fill="#dbe8ec" stroke="none" stroke-width="0.00"/>
<rect x="1719.50" y="275.20" width="3.30" height="3.30" fill="#eaf2f4" stroke="none" stroke-width="0.00"/>
<rect x="1722.80" y="275.20" width="3.30" height="3.30" fill="#eaf2f4" stroke="none" stroke-width="0.00"/>
<rect x="1722.80" y="331.30" width="3.30" height="3.30" fill="#eaf2f4" stroke="none" stroke-width="0.00"/>
<rect x="1722.80" y="351.10" width="3.30" height="3.30" fill="#eaf2f4" stroke="none" stroke-width="0.00"/>
<rect x="1726.10" y="281.80" width="3.30" height="3.30" fill="#e7f0f2" stroke="none" stroke-width="0.00"/>
<rect x="1729.40" y="295.00" width="3.30" height="3.30" fill="#eaf2f4" stroke="none" stroke-width="0.00"/>
<rect x="1729.40" y="347.80" width="3.30" height="3.30" fill="#ecf4f6" stroke="none" stroke-width="0.00"/>
<rect x="1732.70" y="281.80" width="3.30" height="3.30" fill="#e7f0f2" stroke="none" stroke-width="0.00"/>
<rect x="1732.70" y="295.00" width="3.30" height="3.30" fill="#eaf2f4" stroke="none" stroke-width="0.00"/>
<rect x="1732.70" y="318.10" width="3.30" height="3.30" fill="#e7f0f2" stroke="none" stroke-width="0.00"/>
<rect x="1732.70" y="357.70" width="3.30" height="3.30" fill="#dde9e8" stroke="none" stroke-width="0.00"/>
<rect x="1736.00" y="281.80" width="3.30" height="3.30" fill="#e7f0f2" stroke="none" stroke-width="0.00"/>
<rect x="1736.00" y="285.10" width="3.30" height="3.30" fill="#dde9e8" stroke="none" stroke-width="0.00"/>
<rect x="1739.30" y="285.10" width="3.30" height="3.30" fill="#dde9e8" stroke="none" stroke-width="0.00"/>
<rect x="1739.30" y="288.40" width="3.30" height="3.30" fill="#eaf2f4" stroke="none" stroke-width="0.00"/>
<rect x="1739.30" y="308.20" width="3.30" height="3.30" fill="#eaf2f4" stroke="none" stroke-width="0.00"/>
<rect x="1742.60" y="301.60" width="3.30" height="3.30" fill="#e7f0f2" stroke="none" stroke-width="0.00"/>
<rect x="1745.90" y="268.60" width="3.30" height="3.30" fill="#ecf4f6" stroke="none" stroke-width="0.00"/>
<rect x="1745.90" y="271.90" width="3.30" height="3.30" fill="#eaf2f4" stroke="none" stroke-width="0.00"/>
<rect x="1745.90" y="281.80" width="3.30" height="3.30" fill="#eaf2f4" stroke="none" stroke-width="0.00"/>
<rect x="1745.90" y="347.80" width="3.30" height="3.30" fill="#eaf2f4" stroke="none" stroke-width="0.00"/>
<rect x="1749.20" y="291.70" width="3.30" height="3.30" fill="#ecf4f6" stroke="none" stroke-width="0.00"/>
<rect x="1749.20" y="337.90" width="3.30" height="3.30" fill="#eaf2f4" stroke="none" stroke-width="0.00"/>
<rect x="1749.20" y="347.80" width="3.30" height="3.30" fill="#e7f0f2" stroke="none" stroke-width="0.00"/>
<rect x="1749.20" y="354.40" width="3.30" height="3.30" fill="#eaf2f4" stroke="none" stroke-width="0.00"/>
<rect x="1749.20" y="357.70" width="3.30" height="3.30" fill="#ecf4f6" stroke="none" stroke-width="0.00"/>
<rect x="1749.20" y="367.60" width="3.30" height="3.30" fill="#eaf2f4" stroke="none" stroke-width="0.00"/>
<rect x="1752.50" y="278.50" width="3.30" height="3.30" fill="#eaf2f4" stroke="none" stroke-width="0.00"/>
<rect x="1752.50" y="285.10" width="3.30" height="3.30" fill="#ecf4f6" stroke="none" stroke-width="0.00"/>
<rect x="1755.80" y="291.70" width="3.30" height="3.30" fill="#ecf4f6" stroke="none" stroke-width="0.00"/>
<rect x="1755.80" y="311.50" width="3.30" height="3.30" fill="#ecf4f6" stroke="none" stroke-width="0.00"/>
<rect x="1755.80" y="328.00" width="3.30" height="3.30" fill="#ecf4f6" stroke="none" stroke-width="0.00"/>
<rect x="1755.80" y="351.10" width="3.30" height="3.30" fill="#dbe8ec" stroke="none" stroke-width="0.00"/>
<rect x="1759.10" y="354.40" width="3.30" height="3.30" fill="#e7f0f2" stroke="none" stroke-width="0.00"/>
<rect x="1762.40" y="334.60" width="3.30" height="3.30" fill="#ecf4f6" stroke="none" stroke-width="0.00"/>
<rect x="1762.40" y="354.40" width="3.30" height="3.30" fill="#eaf2f4" stroke="none" stroke-width="0.00"/>
<rect x="1765.70" y="285.10" width="3.30" height="3.30" fill="#ecf4f6" stroke="none" stroke-width="0.00"/>
<rect x="1765.70" y="334.60" width="3.30" height="3.30" fill="#e7f0f2" stroke="none" stroke-width="0.00"/>
<rect x="1765.70" y="364.30" width="3.30" height="3.30" fill="#eaf2f4" stroke="none" stroke-width="0.00"/>
<rect x="1769.00" y="295.00" width="3.30" height="3.30" fill="#ecf4f6" stroke="none" stroke-width="0.00"/>
<rect x="1769.00" y="341.20" width="3.30" height="3.30" fill="#eaf2f4" stroke="none" stroke-width="0.00"/>
<rect x="1769.00" y="367.60" width="3.30" height="3.30" fill="#eaf2f4" stroke="none" stroke-width="0.00"/>
<rect x="1772.30" y="288.40" width="3.30" height="3.30" fill="#eaf2f4" stroke="none" stroke-width="0.00"/>
<rect x="1772.30" y="291.70" width="3.30" height="3.30" fill="#ecf4f6" stroke="none" stroke-width="0.00"/>
<rect x="1772.30" y="328.00" width="3.30" height="3.30" fill="#e7f0f2" stroke="none" stroke-width="0.00"/>
<rect x="1775.60" y="281.80" width="3.30" height="3.30" fill="#e7f0f2" stroke="none" stroke-width="0.00"/>
<rect x="1778.90" y="314.80" width="3.30" height="3.30" fill="#ecf4f6" stroke="none" stroke-width="0.00"/>
<rect x="1778.90" y="351.10" width="3.30" height="3.30" fill="#eaf2f4" stroke="none" stroke-width="0.00"/>
<rect x="1785.50" y="271.90" width="3.30" height="3.30" fill="#ecf4f6" stroke="none" stroke-width="0.00"/>
<rect x="1785.50" y="328.00" width="3.30" height="3.30" fill="#eaf2f4" stroke="none" stroke-width="0.00"/>
<rect x="1785.50" y="334.60" width="3.30" height="3.30" fill="#eaf2f4" stroke="none" stroke-width="0.00"/>
<rect x="1785.50" y="347.80" width="3.30" height="3.30" fill="#ecf4f6" stroke="none" stroke-width="0.00"/>
<rect x="1788.80" y="364.30" width="3.30" height="3.30" fill="#e7f0f2" stroke="none" stroke-width="0.00"/>
<rect x="1792.10" y="278.50" width="3.30" height="3.30" fill="#ecf4f6" stroke="none" stroke-width="0.00"/>
<rect x="1792.10" y="281.80" width="3.30" height="3.30" fill="#ecf4f6" stroke="none" stroke-width="0.00"/>
<rect x="1792.10" y="314.80" width="3.30" height="3.30" fill="#eaf2f4" stroke="none" stroke-width="0.00"/>
<rect x="1792.10" y="351.10" width="3.30" height="3.30" fill="#ecf4f6" stroke="none" stroke-width="0.00"/>
<rect x="1795.40" y="337.90" width="3.30" height="3.30" fill="#ecf4f6" stroke="none" stroke-width="0.00"/>
<rect x="1798.70" y="285.10" width="3.30" height="3.30" fill="#eaf2f4" stroke="none" stroke-width="0.00"/>
<rect x="1798.70" y="301.60" width="3.30" height="3.30" fill="#ecf4f6" stroke="none" stroke-width="0.00"/>
<rect x="1798.70" y="311.50" width="3.30" height="3.30" fill="#eaf2f4" stroke="none" stroke-width="0.00"/>
<rect x="1798.70" y="314.80" width="3.30" height="3.30" fill="#eaf2f4" stroke="none" stroke-width="0.00"/>
<rect x="1798.70" y="344.50" width="3.30" height="3.30" fill="#e7f0f2" stroke="none" stroke-width="0.00"/>
<rect x="1802.00" y="278.50" width="3.30" height="3.30" fill="#eaf2f4" stroke="none" stroke-width="0.00"/>
<rect x="1805.30" y="271.90" width="3.30" height="3.30" fill="#e7f0f2" stroke="none" stroke-width="0.00"/>
<rect x="1805.30" y="275.20" width="3.30" height="3.30" fill="#e7f0f2" stroke="none" stroke-width="0.00"/>
<rect x="1805.30" y="301.60" width="3.30" height="3.30" fill="#e7f0f2" stroke="none" stroke-width="0.00"/>
<rect x="1805.30" y="314.80" width="3.30" height="3.30" fill="#eaf2f4" stroke="none" stroke-width="0.00"/>
<rect x="1805.30" y="351.10" width="3.30" height="3.30" fill="#ecf4f6" stroke="none" stroke-width="0.00"/>
<rect x="1805.30" y="364.30" width="3.30" height="3.30" fill="#eaf2f4" stroke="none" stroke-width="0.00"/>
<rect x="1808.60" y="291.70" width="3.30" height="3.30" fill="#e7f0f2" stroke="none" stroke-width="0.00"/>
<rect x="1808.60" y="311.50" width="3.30" height="3.30" fill="#eaf2f4" stroke="none" stroke-width="0.00"/>
<rect x="1808.60" y="344.50" width="3.30" height="3.30" fill="#ecf4f6" stroke="none" stroke-width="0.00"/>
<rect x="1808.60" y="351.10" width="3.30" height="3.30" fill="#eaf2f4" stroke="none" stroke-width="0.00"/>
<rect x="1811.90" y="295.00" width="3.30" height="3.30" fill="#e7f0f2" stroke="none" stroke-width="0.00"/>
<rect x="1811.90" y="328.00" width="3.30" height="3.30" fill="#e7f0f2" stroke="none" stroke-width="0.00"/>
<rect x="1811.90" y="331.30" width="3.30" height="3.30" fill="#ecf4f6" stroke="none" stroke-width="0.00"/>
<rect x="1815.20" y="364.30" width="3.30" height="3.30" fill="#dbe8ec" stroke="none" stroke-width="0.00"/>
<rect x="1818.50" y="291.70" width="3.30" height="3.30" fill="#eaf2f4" stroke="none" stroke-width="0.00"/>
<rect x="1818.50" y="318.10" width="3.30" height="3.30" fill="#eaf2f4" stroke="none" stroke-width="0.00"/>
<rect x="1818.50" y="337.90" width="3.30" height="3.30" fill="#ecf4f6" stroke="none" stroke-width="0.00"/>
<rect x="1821.80" y="301.60" width="3.30" height="3.30" fill="#ecf4f6" stroke="none" stroke-width="0.00"/>
<rect x="1821.80" y="354.40" width="3.30" height="3.30" fill="#e7f0f2" stroke="none" stroke-width="0.00"/>
<rect x="1821.80" y="357.70" width="3.30" height="3.30" fill="#eaf2f4" stroke="none" stroke-width="0.00"/>
<rect x="1825.10" y="308.20" width="3.30" height="3.30" fill="#e7f0f2" stroke="none" stroke-width="0.00"/>
<rect x="1825.10" y="328.00" width="3.30" height="3.30" fill="#ecf4f6" stroke="none" stroke-width="0.00"/>
<rect x="1825.10" y="367.60" width="3.30" height="3.30" fill="#e7f0f2" stroke="none" stroke-width="0.00"/>
<rect x="1828.40" y="298.30" width="3.30" height="3.30" fill="#ecf4f6" stroke="none" stroke-width="0.00"/>
<rect x="1828.40" y="344.50" width="3.30" height="3.30" fill="#eaf2f4" stroke="none" stroke-width="0.00"/>
<rect x="1828.40" y="364.30" width="3.30" height="3.30" fill="#e7f0f2" stroke="none" stroke-width="0.00"/>
<rect x="1606.90" y="307.90" width="18.30" height="15.30" fill="#e3f3ef" stroke="none" stroke-width="0.00"/>
<rect x="1615.40" y="311.90" width="3.40" height="3.40" fill="#0f4f3a" stroke="none" stroke-width="0.00"/>
<rect x="1612.00" y="315.30" width="3.40" height="3.40" fill="#7cc7ad" stroke="none" stroke-width="0.00"/>
<rect x="1615.40" y="315.30" width="3.40" height="3.40" fill="#2e9c78" stroke="none" stroke-width="0.00"/>
<rect x="1618.80" y="311.90" width="3.40" height="3.40" fill="#b8e2d5" stroke="none" stroke-width="0.00"/>
<rect x="1606.90" y="307.90" width="18.30" height="15.30" fill="none" stroke="#30564a" stroke-width="1.50"/>
<rect x="1606.90" y="328.40" width="18.30" height="15.00" fill="#e3f3ef" stroke="none" stroke-width="0.00"/>
<rect x="1612.00" y="332.40" width="3.40" height="3.40" fill="#b8e2d5" stroke="none" stroke-width="0.00"/>
<rect x="1615.40" y="332.40" width="3.40" height="3.40" fill="#7cc7ad" stroke="none" stroke-width="0.00"/>
<rect x="1615.40" y="335.80" width="3.40" height="3.40" fill="#2e9c78" stroke="none" stroke-width="0.00"/>
<rect x="1618.80" y="332.40" width="3.40" height="3.40" fill="#b8e2d5" stroke="none" stroke-width="0.00"/>
<rect x="1606.90" y="328.40" width="18.30" height="15.00" fill="none" stroke="#30564a" stroke-width="1.50"/>
<rect x="1668.30" y="328.40" width="19.10" height="15.00" fill="#e3f3ef" stroke="none" stroke-width="0.00"/>
<rect x="1673.40" y="334.00" width="3.40" height="3.40" fill="#7cc7ad" stroke="none" stroke-width="0.00"/>
<rect x="1676.80" y="334.00" width="3.40" height="3.40" fill="#0f4f3a" stroke="none" stroke-width="0.00"/>
<rect x="1680.20" y="334.00" width="3.40" height="3.40" fill="#2e9c78" stroke="none" stroke-width="0.00"/>
<rect x="1668.30" y="328.40" width="19.10" height="15.00" fill="none" stroke="#30564a" stroke-width="1.50"/>
<rect x="1730.50" y="307.90" width="18.90" height="15.30" fill="#e3f3ef" stroke="none" stroke-width="0.00"/>
<rect x="1738.00" y="312.90" width="3.40" height="3.40" fill="#0a2c21" stroke="none" stroke-width="0.00"/>
<rect x="1741.40" y="312.90" width="3.40" height="3.40" fill="#b8e2d5" stroke="none" stroke-width="0.00"/>
<rect x="1730.50" y="307.90" width="18.90" height="15.30" fill="none" stroke="#30564a" stroke-width="1.50"/>
<rect x="1521.50" y="268.60" width="313.30" height="105.60" fill="none" stroke="#5a5a5a" stroke-width="1.20"/>
<rect x="1520.40" y="417.30" width="313.30" height="105.70" fill="#f3f8fa" stroke="none" stroke-width="0.00"/>
<rect x="1520.40" y="430.50" width="3.30" height="3.30" fill="#ecf4f6" stroke="none" stroke-width="0.00"/>
<rect x="1520.40" y="450.30" width="3.30" height="3.30" fill="#e7f0f2" stroke="none" stroke-width="0.00"/>
<rect x="1520.40" y="466.80" width="3.30" height="3.30" fill="#eaf2f4" stroke="none" stroke-width="0.00"/>
<rect x="1520.40" y="470.10" width="3.30" height="3.30" fill="#e7f0f2" stroke="none" stroke-width="0.00"/>
<rect x="1520.40" y="483.30" width="3.30" height="3.30" fill="#dbe8ec" stroke="none" stroke-width="0.00"/>
<rect x="1523.70" y="430.50" width="3.30" height="3.30" fill="#dde9e8" stroke="none" stroke-width="0.00"/>
<rect x="1523.70" y="450.30" width="3.30" height="3.30" fill="#dbe8ec" stroke="none" stroke-width="0.00"/>
<rect x="1523.70" y="493.20" width="3.30" height="3.30" fill="#ecf4f6" stroke="none" stroke-width="0.00"/>
<rect x="1523.70" y="496.50" width="3.30" height="3.30" fill="#eaf2f4" stroke="none" stroke-width="0.00"/>
<rect x="1527.00" y="420.60" width="3.30" height="3.30" fill="#ecf4f6" stroke="none" stroke-width="0.00"/>
<rect x="1530.30" y="456.90" width="3.30" height="3.30" fill="#ecf4f6" stroke="none" stroke-width="0.00"/>
<rect x="1533.60" y="450.30" width="3.30" height="3.30" fill="#e7f0f2" stroke="none" stroke-width="0.00"/>
<rect x="1533.60" y="456.90" width="3.30" height="3.30" fill="#eaf2f4" stroke="none" stroke-width="0.00"/>
<rect x="1536.90" y="447.00" width="3.30" height="3.30" fill="#ecf4f6" stroke="none" stroke-width="0.00"/>
<rect x="1536.90" y="456.90" width="3.30" height="3.30" fill="#e7f0f2" stroke="none" stroke-width="0.00"/>
<rect x="1536.90" y="473.40" width="3.30" height="3.30" fill="#ecf4f6" stroke="none" stroke-width="0.00"/>
<rect x="1540.20" y="417.30" width="3.30" height="3.30" fill="#eaf2f4" stroke="none" stroke-width="0.00"/>
<rect x="1540.20" y="437.10" width="3.30" height="3.30" fill="#eaf2f4" stroke="none" stroke-width="0.00"/>
<rect x="1540.20" y="480.00" width="3.30" height="3.30" fill="#ecf4f6" stroke="none" stroke-width="0.00"/>
<rect x="1543.50" y="460.20" width="3.30" height="3.30" fill="#e7f0f2" stroke="none" stroke-width="0.00"/>
<rect x="1543.50" y="496.50" width="3.30" height="3.30" fill="#ecf4f6" stroke="none" stroke-width="0.00"/>
<rect x="1543.50" y="499.80" width="3.30" height="3.30" fill="#eaf2f4" stroke="none" stroke-width="0.00"/>
<rect x="1546.80" y="420.60" width="3.30" height="3.30" fill="#eaf2f4" stroke="none" stroke-width="0.00"/>
<rect x="1546.80" y="437.10" width="3.30" height="3.30" fill="#eaf2f4" stroke="none" stroke-width="0.00"/>
<rect x="1546.80" y="513.00" width="3.30" height="3.30" fill="#eaf2f4" stroke="none" stroke-width="0.00"/>
<rect x="1550.10" y="423.90" width="3.30" height="3.30" fill="#e7f0f2" stroke="none" stroke-width="0.00"/>
<rect x="1550.10" y="447.00" width="3.30" height="3.30" fill="#eaf2f4" stroke="none" stroke-width="0.00"/>
<rect x="1550.10" y="486.60" width="3.30" height="3.30" fill="#e7f0f2" stroke="none" stroke-width="0.00"/>
<rect x="1550.10" y="509.70" width="3.30" height="3.30" fill="#eaf2f4" stroke="none" stroke-width="0.00"/>
<rect x="1553.40" y="450.30" width="3.30" height="3.30" fill="#ecf4f6" stroke="none" stroke-width="0.00"/>
<rect x="1556.70" y="463.50" width="3.30" height="3.30" fill="#e7f0f2" stroke="none" stroke-width="0.00"/>
<rect x="1556.70" y="493.20" width="3.30" height="3.30" fill="#e7f0f2" stroke="none" stroke-width="0.00"/>
<rect x="1560.00" y="466.80" width="3.30" height="3.30" fill="#e7f0f2" stroke="none" stroke-width="0.00"/>
<rect x="1560.00" y="503.10" width="3.30" height="3.30" fill="#eaf2f4" stroke="none" stroke-width="0.00"/>
<rect x="1563.30" y="473.40" width="3.30" height="3.30" fill="#e7f0f2" stroke="none" stroke-width="0.00"/>
<rect x="1563.30" y="503.10" width="3.30" height="3.30" fill="#ecf4f6" stroke="none" stroke-width="0.00"/>
<rect x="1563.30" y="513.00" width="3.30" height="3.30" fill="#dde9e8" stroke="none" stroke-width="0.00"/>
<rect x="1566.60" y="437.10" width="3.30" height="3.30" fill="#eaf2f4" stroke="none" stroke-width="0.00"/>
<rect x="1566.60" y="486.60" width="3.30" height="3.30" fill="#dbe8ec" stroke="none" stroke-width="0.00"/>
<rect x="1566.60" y="499.80" width="3.30" height="3.30" fill="#eaf2f4" stroke="none" stroke-width="0.00"/>
<rect x="1569.90" y="463.50" width="3.30" height="3.30" fill="#e7f0f2" stroke="none" stroke-width="0.00"/>
<rect x="1569.90" y="483.30" width="3.30" height="3.30" fill="#ecf4f6" stroke="none" stroke-width="0.00"/>
<rect x="1569.90" y="513.00" width="3.30" height="3.30" fill="#ecf4f6" stroke="none" stroke-width="0.00"/>
<rect x="1573.20" y="427.20" width="3.30" height="3.30" fill="#dbe8ec" stroke="none" stroke-width="0.00"/>
<rect x="1573.20" y="450.30" width="3.30" height="3.30" fill="#eaf2f4" stroke="none" stroke-width="0.00"/>
<rect x="1573.20" y="460.20" width="3.30" height="3.30" fill="#ecf4f6" stroke="none" stroke-width="0.00"/>
<rect x="1573.20" y="476.70" width="3.30" height="3.30" fill="#eaf2f4" stroke="none" stroke-width="0.00"/>
<rect x="1576.50" y="440.40" width="3.30" height="3.30" fill="#ecf4f6" stroke="none" stroke-width="0.00"/>
<rect x="1576.50" y="513.00" width="3.30" height="3.30" fill="#dde9e8" stroke="none" stroke-width="0.00"/>
<rect x="1579.80" y="453.60" width="3.30" height="3.30" fill="#eaf2f4" stroke="none" stroke-width="0.00"/>
<rect x="1579.80" y="470.10" width="3.30" height="3.30" fill="#e7f0f2" stroke="none" stroke-width="0.00"/>
<rect x="1579.80" y="473.40" width="3.30" height="3.30" fill="#e7f0f2" stroke="none" stroke-width="0.00"/>
<rect x="1579.80" y="493.20" width="3.30" height="3.30" fill="#eaf2f4" stroke="none" stroke-width="0.00"/>
<rect x="1579.80" y="496.50" width="3.30" height="3.30" fill="#e7f0f2" stroke="none" stroke-width="0.00"/>
<rect x="1579.80" y="509.70" width="3.30" height="3.30" fill="#dbe8ec" stroke="none" stroke-width="0.00"/>
<rect x="1579.80" y="519.60" width="3.30" height="3.30" fill="#eaf2f4" stroke="none" stroke-width="0.00"/>
<rect x="1583.10" y="420.60" width="3.30" height="3.30" fill="#ecf4f6" stroke="none" stroke-width="0.00"/>
<rect x="1583.10" y="427.20" width="3.30" height="3.30" fill="#eaf2f4" stroke="none" stroke-width="0.00"/>
<rect x="1583.10" y="430.50" width="3.30" height="3.30" fill="#ecf4f6" stroke="none" stroke-width="0.00"/>
<rect x="1586.40" y="440.40" width="3.30" height="3.30" fill="#eaf2f4" stroke="none" stroke-width="0.00"/>
<rect x="1586.40" y="470.10" width="3.30" height="3.30" fill="#eaf2f4" stroke="none" stroke-width="0.00"/>
<rect x="1586.40" y="493.20" width="3.30" height="3.30" fill="#eaf2f4" stroke="none" stroke-width="0.00"/>
<rect x="1586.40" y="496.50" width="3.30" height="3.30" fill="#ecf4f6" stroke="none" stroke-width="0.00"/>
<rect x="1586.40" y="503.10" width="3.30" height="3.30" fill="#ecf4f6" stroke="none" stroke-width="0.00"/>
<rect x="1586.40" y="509.70" width="3.30" height="3.30" fill="#ecf4f6" stroke="none" stroke-width="0.00"/>
<rect x="1589.70" y="420.60" width="3.30" height="3.30" fill="#eaf2f4" stroke="none" stroke-width="0.00"/>
<rect x="1589.70" y="437.10" width="3.30" height="3.30" fill="#eaf2f4" stroke="none" stroke-width="0.00"/>
<rect x="1589.70" y="443.70" width="3.30" height="3.30" fill="#e7f0f2" stroke="none" stroke-width="0.00"/>
<rect x="1589.70" y="453.60" width="3.30" height="3.30" fill="#ecf4f6" stroke="none" stroke-width="0.00"/>
<rect x="1589.70" y="460.20" width="3.30" height="3.30" fill="#dbe8ec" stroke="none" stroke-width="0.00"/>
<rect x="1589.70" y="516.30" width="3.30" height="3.30" fill="#eaf2f4" stroke="none" stroke-width="0.00"/>
<rect x="1589.70" y="519.60" width="3.30" height="3.30" fill="#e7f0f2" stroke="none" stroke-width="0.00"/>
<rect x="1593.00" y="423.90" width="3.30" height="3.30" fill="#ecf4f6" stroke="none" stroke-width="0.00"/>
<rect x="1593.00" y="437.10" width="3.30" height="3.30" fill="#eaf2f4" stroke="none" stroke-width="0.00"/>
<rect x="1593.00" y="440.40" width="3.30" height="3.30" fill="#e7f0f2" stroke="none" stroke-width="0.00"/>
<rect x="1593.00" y="489.90" width="3.30" height="3.30" fill="#ecf4f6" stroke="none" stroke-width="0.00"/>
<rect x="1593.00" y="516.30" width="3.30" height="3.30" fill="#eaf2f4" stroke="none" stroke-width="0.00"/>
<rect x="1596.30" y="420.60" width="3.30" height="3.30" fill="#ecf4f6" stroke="none" stroke-width="0.00"/>
<rect x="1596.30" y="473.40" width="3.30" height="3.30" fill="#e7f0f2" stroke="none" stroke-width="0.00"/>
<rect x="1596.30" y="513.00" width="3.30" height="3.30" fill="#e7f0f2" stroke="none" stroke-width="0.00"/>
<rect x="1599.60" y="423.90" width="3.30" height="3.30" fill="#eaf2f4" stroke="none" stroke-width="0.00"/>
<rect x="1599.60" y="433.80" width="3.30" height="3.30" fill="#eaf2f4" stroke="none" stroke-width="0.00"/>
<rect x="1599.60" y="456.90" width="3.30" height="3.30" fill="#ecf4f6" stroke="none" stroke-width="0.00"/>
<rect x="1599.60" y="460.20" width="3.30" height="3.30" fill="#ecf4f6" stroke="none" stroke-width="0.00"/>
<rect x="1602.90" y="447.00" width="3.30" height="3.30" fill="#eaf2f4" stroke="none" stroke-width="0.00"/>
<rect x="1602.90" y="486.60" width="3.30" height="3.30" fill="#ecf4f6" stroke="none" stroke-width="0.00"/>
<rect x="1602.90" y="506.40" width="3.30" height="3.30" fill="#e7f0f2" stroke="none" stroke-width="0.00"/>
<rect x="1612.80" y="430.50" width="3.30" height="3.30" fill="#e7f0f2" stroke="none" stroke-width="0.00"/>
<rect x="1612.80" y="516.30" width="3.30" height="3.30" fill="#eaf2f4" stroke="none" stroke-width="0.00"/>
<rect x="1616.10" y="420.60" width="3.30" height="3.30" fill="#e7f0f2" stroke="none" stroke-width="0.00"/>
<rect x="1616.10" y="476.70" width="3.30" height="3.30" fill="#dbe8ec" stroke="none" stroke-width="0.00"/>
<rect x="1619.40" y="427.20" width="3.30" height="3.30" fill="#dde9e8" stroke="none" stroke-width="0.00"/>
<rect x="1619.40" y="516.30" width="3.30" height="3.30" fill="#e7f0f2" stroke="none" stroke-width="0.00"/>
<rect x="1622.70" y="417.30" width="3.30" height="3.30" fill="#eaf2f4" stroke="none" stroke-width="0.00"/>
<rect x="1622.70" y="437.10" width="3.30" height="3.30" fill="#ecf4f6" stroke="none" stroke-width="0.00"/>
<rect x="1622.70" y="460.20" width="3.30" height="3.30" fill="#eaf2f4" stroke="none" stroke-width="0.00"/>
<rect x="1622.70" y="473.40" width="3.30" height="3.30" fill="#e7f0f2" stroke="none" stroke-width="0.00"/>
<rect x="1622.70" y="486.60" width="3.30" height="3.30" fill="#ecf4f6" stroke="none" stroke-width="0.00"/>
<rect x="1622.70" y="519.60" width="3.30" height="3.30" fill="#ecf4f6" stroke="none" stroke-width="0.00"/>
<rect x="1626.00" y="463.50" width="3.30" height="3.30" fill="#e7f0f2" stroke="none" stroke-width="0.00"/>
<rect x="1626.00" y="483.30" width="3.30" height="3.30" fill="#eaf2f4" stroke="none" stroke-width="0.00"/>
<rect x="1626.00" y="499.80" width="3.30" height="3.30" fill="#ecf4f6" stroke="none" stroke-width="0.00"/>
<rect x="1629.30" y="433.80" width="3.30" height="3.30" fill="#e7f0f2" stroke="none" stroke-width="0.00"/>
<rect x="1629.30" y="483.30" width="3.30" height="3.30" fill="#e7f0f2" stroke="none" stroke-width="0.00"/>
<rect x="1629.30" y="503.10" width="3.30" height="3.30" fill="#e7f0f2" stroke="none" stroke-width="0.00"/>
<rect x="1632.60" y="427.20" width="3.30" height="3.30" fill="#e7f0f2" stroke="none" stroke-width="0.00"/>
<rect x="1632.60" y="437.10" width="3.30" height="3.30" fill="#ecf4f6" stroke="none" stroke-width="0.00"/>
<rect x="1632.60" y="447.00" width="3.30" height="3.30" fill="#e7f0f2" stroke="none" stroke-width="0.00"/>
<rect x="1632.60" y="470.10" width="3.30" height="3.30" fill="#eaf2f4" stroke="none" stroke-width="0.00"/>
<rect x="1639.20" y="440.40" width="3.30" height="3.30" fill="#e7f0f2" stroke="none" stroke-width="0.00"/>
<rect x="1639.20" y="460.20" width="3.30" height="3.30" fill="#eaf2f4" stroke="none" stroke-width="0.00"/>
<rect x="1639.20" y="466.80" width="3.30" height="3.30" fill="#ecf4f6" stroke="none" stroke-width="0.00"/>
<rect x="1645.80" y="460.20" width="3.30" height="3.30" fill="#eaf2f4" stroke="none" stroke-width="0.00"/>
<rect x="1649.10" y="430.50" width="3.30" height="3.30" fill="#ecf4f6" stroke="none" stroke-width="0.00"/>
<rect x="1649.10" y="466.80" width="3.30" height="3.30" fill="#eaf2f4" stroke="none" stroke-width="0.00"/>
<rect x="1649.10" y="476.70" width="3.30" height="3.30" fill="#ecf4f6" stroke="none" stroke-width="0.00"/>
<rect x="1652.40" y="433.80" width="3.30" height="3.30" fill="#eaf2f4" stroke="none" stroke-width="0.00"/>
<rect x="1652.40" y="456.90" width="3.30" height="3.30" fill="#e7f0f2" stroke="none" stroke-width="0.00"/>
<rect x="1652.40" y="473.40" width="3.30" height="3.30" fill="#e7f0f2" stroke="none" stroke-width="0.00"/>
<rect x="1655.70" y="420.60" width="3.30" height="3.30" fill="#eaf2f4" stroke="none" stroke-width="0.00"/>
<rect x="1655.70" y="440.40" width="3.30" height="3.30" fill="#eaf2f4" stroke="none" stroke-width="0.00"/>
<rect x="1655.70" y="476.70" width="3.30" height="3.30" fill="#eaf2f4" stroke="none" stroke-width="0.00"/>
<rect x="1655.70" y="496.50" width="3.30" height="3.30" fill="#dbe8ec" stroke="none" stroke-width="0.00"/>
<rect x="1659.00" y="476.70" width="3.30" height="3.30" fill="#e7f0f2" stroke="none" stroke-width="0.00"/>
<rect x="1659.00" y="480.00" width="3.30" height="3.30" fill="#eaf2f4" stroke="none" stroke-width="0.00"/>
<rect x="1659.00" y="499.80" width="3.30" height="3.30" fill="#eaf2f4" stroke="none" stroke-width="0.00"/>
<rect x="1662.30" y="460.20" width="3.30" height="3.30" fill="#eaf2f4" stroke="none" stroke-width="0.00"/>
<rect x="1662.30" y="466.80" width="3.30" height="3.30" fill="#e7f0f2" stroke="none" stroke-width="0.00"/>
<rect x="1665.60" y="447.00" width="3.30" height="3.30" fill="#ecf4f6" stroke="none" stroke-width="0.00"/>
<rect x="1665.60" y="473.40" width="3.30" height="3.30" fill="#eaf2f4" stroke="none" stroke-width="0.00"/>
<rect x="1665.60" y="513.00" width="3.30" height="3.30" fill="#e7f0f2" stroke="none" stroke-width="0.00"/>
<rect x="1668.90" y="417.30" width="3.30" height="3.30" fill="#eaf2f4" stroke="none" stroke-width="0.00"/>
<rect x="1672.20" y="466.80" width="3.30" height="3.30" fill="#eaf2f4" stroke="none" stroke-width="0.00"/>
<rect x="1672.20" y="480.00" width="3.30" height="3.30" fill="#e7f0f2" stroke="none" stroke-width="0.00"/>
<rect x="1672.20" y="496.50" width="3.30" height="3.30" fill="#eaf2f4" stroke="none" stroke-width="0.00"/>
<rect x="1672.20" y="513.00" width="3.30" height="3.30" fill="#e7f0f2" stroke="none" stroke-width="0.00"/>
<rect x="1675.50" y="453.60" width="3.30" height="3.30" fill="#e7f0f2" stroke="none" stroke-width="0.00"/>
<rect x="1675.50" y="496.50" width="3.30" height="3.30" fill="#eaf2f4" stroke="none" stroke-width="0.00"/>
<rect x="1678.80" y="483.30" width="3.30" height="3.30" fill="#eaf2f4" stroke="none" stroke-width="0.00"/>
<rect x="1678.80" y="486.60" width="3.30" height="3.30" fill="#eaf2f4" stroke="none" stroke-width="0.00"/>
<rect x="1682.10" y="443.70" width="3.30" height="3.30" fill="#eaf2f4" stroke="none" stroke-width="0.00"/>
<rect x="1682.10" y="453.60" width="3.30" height="3.30" fill="#eaf2f4" stroke="none" stroke-width="0.00"/>
<rect x="1682.10" y="506.40" width="3.30" height="3.30" fill="#e7f0f2" stroke="none" stroke-width="0.00"/>
<rect x="1685.40" y="453.60" width="3.30" height="3.30" fill="#e7f0f2" stroke="none" stroke-width="0.00"/>
<rect x="1685.40" y="473.40" width="3.30" height="3.30" fill="#eaf2f4" stroke="none" stroke-width="0.00"/>
<rect x="1688.70" y="486.60" width="3.30" height="3.30" fill="#ecf4f6" stroke="none" stroke-width="0.00"/>
<rect x="1688.70" y="489.90" width="3.30" height="3.30" fill="#eaf2f4" stroke="none" stroke-width="0.00"/>
<rect x="1692.00" y="437.10" width="3.30" height="3.30" fill="#e7f0f2" stroke="none" stroke-width="0.00"/>
<rect x="1692.00" y="440.40" width="3.30" height="3.30" fill="#e7f0f2" stroke="none" stroke-width="0.00"/>
<rect x="1692.00" y="443.70" width="3.30" height="3.30" fill="#e7f0f2" stroke="none" stroke-width="0.00"/>
<rect x="1692.00" y="460.20" width="3.30" height="3.30" fill="#eaf2f4" stroke="none" stroke-width="0.00"/>
<rect x="1695.30" y="423.90" width="3.30" height="3.30" fill="#eaf2f4" stroke="none" stroke-width="0.00"/>
<rect x="1695.30" y="433.80" width="3.30" height="3.30" fill="#e7f0f2" stroke="none" stroke-width="0.00"/>
<rect x="1695.30" y="437.10" width="3.30" height="3.30" fill="#dbe8ec" stroke="none" stroke-width="0.00"/>
<rect x="1695.30" y="453.60" width="3.30" height="3.30" fill="#dde9e8" stroke="none" stroke-width="0.00"/>
<rect x="1695.30" y="470.10" width="3.30" height="3.30" fill="#dbe8ec" stroke="none" stroke-width="0.00"/>
<rect x="1695.30" y="473.40" width="3.30" height="3.30" fill="#eaf2f4" stroke="none" stroke-width="0.00"/>
<rect x="1695.30" y="483.30" width="3.30" height="3.30" fill="#e7f0f2" stroke="none" stroke-width="0.00"/>
<rect x="1695.30" y="503.10" width="3.30" height="3.30" fill="#eaf2f4" stroke="none" stroke-width="0.00"/>
<rect x="1698.60" y="473.40" width="3.30" height="3.30" fill="#eaf2f4" stroke="none" stroke-width="0.00"/>
<rect x="1701.90" y="460.20" width="3.30" height="3.30" fill="#eaf2f4" stroke="none" stroke-width="0.00"/>
<rect x="1701.90" y="486.60" width="3.30" height="3.30" fill="#ecf4f6" stroke="none" stroke-width="0.00"/>
<rect x="1705.20" y="417.30" width="3.30" height="3.30" fill="#ecf4f6" stroke="none" stroke-width="0.00"/>
<rect x="1705.20" y="460.20" width="3.30" height="3.30" fill="#ecf4f6" stroke="none" stroke-width="0.00"/>
<rect x="1705.20" y="486.60" width="3.30" height="3.30" fill="#ecf4f6" stroke="none" stroke-width="0.00"/>
<rect x="1705.20" y="496.50" width="3.30" height="3.30" fill="#e7f0f2" stroke="none" stroke-width="0.00"/>
<rect x="1705.20" y="506.40" width="3.30" height="3.30" fill="#ecf4f6" stroke="none" stroke-width="0.00"/>
<rect x="1708.50" y="417.30" width="3.30" height="3.30" fill="#e7f0f2" stroke="none" stroke-width="0.00"/>
<rect x="1708.50" y="506.40" width="3.30" height="3.30" fill="#dbe8ec" stroke="none" stroke-width="0.00"/>
<rect x="1711.80" y="420.60" width="3.30" height="3.30" fill="#ecf4f6" stroke="none" stroke-width="0.00"/>
<rect x="1711.80" y="456.90" width="3.30" height="3.30" fill="#e7f0f2" stroke="none" stroke-width="0.00"/>
<rect x="1715.10" y="440.40" width="3.30" height="3.30" fill="#eaf2f4" stroke="none" stroke-width="0.00"/>
<rect x="1715.10" y="456.90" width="3.30" height="3.30" fill="#dbe8ec" stroke="none" stroke-width="0.00"/>
<rect x="1715.10" y="463.50" width="3.30" height="3.30" fill="#eaf2f4" stroke="none" stroke-width="0.00"/>
<rect x="1715.10" y="486.60" width="3.30" height="3.30" fill="#eaf2f4" stroke="none" stroke-width="0.00"/>
<rect x="1718.40" y="423.90" width="3.30" height="3.30" fill="#ecf4f6" stroke="none" stroke-width="0.00"/>
<rect x="1718.40" y="480.00" width="3.30" height="3.30" fill="#ecf4f6" stroke="none" stroke-width="0.00"/>
<rect x="1718.40" y="516.30" width="3.30" height="3.30" fill="#ecf4f6" stroke="none" stroke-width="0.00"/>
<rect x="1721.70" y="427.20" width="3.30" height="3.30" fill="#e7f0f2" stroke="none" stroke-width="0.00"/>
<rect x="1721.70" y="447.00" width="3.30" height="3.30" fill="#eaf2f4" stroke="none" stroke-width="0.00"/>
<rect x="1721.70" y="503.10" width="3.30" height="3.30" fill="#dbe8ec" stroke="none" stroke-width="0.00"/>
<rect x="1728.30" y="430.50" width="3.30" height="3.30" fill="#eaf2f4" stroke="none" stroke-width="0.00"/>
<rect x="1728.30" y="437.10" width="3.30" height="3.30" fill="#ecf4f6" stroke="none" stroke-width="0.00"/>
<rect x="1731.60" y="437.10" width="3.30" height="3.30" fill="#ecf4f6" stroke="none" stroke-width="0.00"/>
<rect x="1731.60" y="450.30" width="3.30" height="3.30" fill="#eaf2f4" stroke="none" stroke-width="0.00"/>
<rect x="1731.60" y="456.90" width="3.30" height="3.30" fill="#eaf2f4" stroke="none" stroke-width="0.00"/>
<rect x="1731.60" y="519.60" width="3.30" height="3.30" fill="#eaf2f4" stroke="none" stroke-width="0.00"/>
<rect x="1734.90" y="450.30" width="3.30" height="3.30" fill="#e7f0f2" stroke="none" stroke-width="0.00"/>
<rect x="1734.90" y="453.60" width="3.30" height="3.30" fill="#e7f0f2" stroke="none" stroke-width="0.00"/>
<rect x="1734.90" y="460.20" width="3.30" height="3.30" fill="#ecf4f6" stroke="none" stroke-width="0.00"/>
<rect x="1734.90" y="463.50" width="3.30" height="3.30" fill="#e7f0f2" stroke="none" stroke-width="0.00"/>
<rect x="1734.90" y="476.70" width="3.30" height="3.30" fill="#e7f0f2" stroke="none" stroke-width="0.00"/>
<rect x="1738.20" y="427.20" width="3.30" height="3.30" fill="#ecf4f6" stroke="none" stroke-width="0.00"/>
<rect x="1738.20" y="496.50" width="3.30" height="3.30" fill="#eaf2f4" stroke="none" stroke-width="0.00"/>
<rect x="1738.20" y="506.40" width="3.30" height="3.30" fill="#ecf4f6" stroke="none" stroke-width="0.00"/>
<rect x="1741.50" y="463.50" width="3.30" height="3.30" fill="#eaf2f4" stroke="none" stroke-width="0.00"/>
<rect x="1741.50" y="516.30" width="3.30" height="3.30" fill="#e7f0f2" stroke="none" stroke-width="0.00"/>
<rect x="1744.80" y="473.40" width="3.30" height="3.30" fill="#dbe8ec" stroke="none" stroke-width="0.00"/>
<rect x="1751.40" y="486.60" width="3.30" height="3.30" fill="#eaf2f4" stroke="none" stroke-width="0.00"/>
<rect x="1751.40" y="499.80" width="3.30" height="3.30" fill="#e7f0f2" stroke="none" stroke-width="0.00"/>
<rect x="1751.40" y="506.40" width="3.30" height="3.30" fill="#ecf4f6" stroke="none" stroke-width="0.00"/>
<rect x="1754.70" y="440.40" width="3.30" height="3.30" fill="#e7f0f2" stroke="none" stroke-width="0.00"/>
<rect x="1754.70" y="493.20" width="3.30" height="3.30" fill="#e7f0f2" stroke="none" stroke-width="0.00"/>
<rect x="1754.70" y="499.80" width="3.30" height="3.30" fill="#e7f0f2" stroke="none" stroke-width="0.00"/>
<rect x="1758.00" y="423.90" width="3.30" height="3.30" fill="#dde9e8" stroke="none" stroke-width="0.00"/>
<rect x="1758.00" y="427.20" width="3.30" height="3.30" fill="#ecf4f6" stroke="none" stroke-width="0.00"/>
<rect x="1758.00" y="463.50" width="3.30" height="3.30" fill="#eaf2f4" stroke="none" stroke-width="0.00"/>
<rect x="1761.30" y="466.80" width="3.30" height="3.30" fill="#ecf4f6" stroke="none" stroke-width="0.00"/>
<rect x="1761.30" y="473.40" width="3.30" height="3.30" fill="#eaf2f4" stroke="none" stroke-width="0.00"/>
<rect x="1761.30" y="486.60" width="3.30" height="3.30" fill="#ecf4f6" stroke="none" stroke-width="0.00"/>
<rect x="1761.30" y="489.90" width="3.30" height="3.30" fill="#ecf4f6" stroke="none" stroke-width="0.00"/>
<rect x="1764.60" y="423.90" width="3.30" height="3.30" fill="#ecf4f6" stroke="none" stroke-width="0.00"/>
<rect x="1764.60" y="437.10" width="3.30" height="3.30" fill="#ecf4f6" stroke="none" stroke-width="0.00"/>
<rect x="1764.60" y="456.90" width="3.30" height="3.30" fill="#eaf2f4" stroke="none" stroke-width="0.00"/>
<rect x="1764.60" y="460.20" width="3.30" height="3.30" fill="#ecf4f6" stroke="none" stroke-width="0.00"/>
<rect x="1764.60" y="473.40" width="3.30" height="3.30" fill="#eaf2f4" stroke="none" stroke-width="0.00"/>
<rect x="1767.90" y="453.60" width="3.30" height="3.30" fill="#eaf2f4" stroke="none" stroke-width="0.00"/>
<rect x="1767.90" y="496.50" width="3.30" height="3.30" fill="#eaf2f4" stroke="none" stroke-width="0.00"/>
<rect x="1767.90" y="509.70" width="3.30" height="3.30" fill="#ecf4f6" stroke="none" stroke-width="0.00"/>
<rect x="1771.20" y="437.10" width="3.30" height="3.30" fill="#eaf2f4" stroke="none" stroke-width="0.00"/>
<rect x="1771.20" y="456.90" width="3.30" height="3.30" fill="#e7f0f2" stroke="none" stroke-width="0.00"/>
<rect x="1771.20" y="473.40" width="3.30" height="3.30" fill="#ecf4f6" stroke="none" stroke-width="0.00"/>
<rect x="1771.20" y="503.10" width="3.30" height="3.30" fill="#eaf2f4" stroke="none" stroke-width="0.00"/>
<rect x="1774.50" y="460.20" width="3.30" height="3.30" fill="#ecf4f6" stroke="none" stroke-width="0.00"/>
<rect x="1774.50" y="483.30" width="3.30" height="3.30" fill="#e7f0f2" stroke="none" stroke-width="0.00"/>
<rect x="1774.50" y="516.30" width="3.30" height="3.30" fill="#ecf4f6" stroke="none" stroke-width="0.00"/>
<rect x="1777.80" y="420.60" width="3.30" height="3.30" fill="#eaf2f4" stroke="none" stroke-width="0.00"/>
<rect x="1777.80" y="430.50" width="3.30" height="3.30" fill="#eaf2f4" stroke="none" stroke-width="0.00"/>
<rect x="1777.80" y="447.00" width="3.30" height="3.30" fill="#dbe8ec" stroke="none" stroke-width="0.00"/>
<rect x="1777.80" y="450.30" width="3.30" height="3.30" fill="#e7f0f2" stroke="none" stroke-width="0.00"/>
<rect x="1777.80" y="456.90" width="3.30" height="3.30" fill="#eaf2f4" stroke="none" stroke-width="0.00"/>
<rect x="1777.80" y="493.20" width="3.30" height="3.30" fill="#e7f0f2" stroke="none" stroke-width="0.00"/>
<rect x="1781.10" y="470.10" width="3.30" height="3.30" fill="#ecf4f6" stroke="none" stroke-width="0.00"/>
<rect x="1784.40" y="450.30" width="3.30" height="3.30" fill="#ecf4f6" stroke="none" stroke-width="0.00"/>
<rect x="1784.40" y="496.50" width="3.30" height="3.30" fill="#eaf2f4" stroke="none" stroke-width="0.00"/>
<rect x="1787.70" y="453.60" width="3.30" height="3.30" fill="#e7f0f2" stroke="none" stroke-width="0.00"/>
<rect x="1794.30" y="443.70" width="3.30" height="3.30" fill="#dde9e8" stroke="none" stroke-width="0.00"/>
<rect x="1797.60" y="463.50" width="3.30" height="3.30" fill="#e7f0f2" stroke="none" stroke-width="0.00"/>
<rect x="1800.90" y="417.30" width="3.30" height="3.30" fill="#ecf4f6" stroke="none" stroke-width="0.00"/>
<rect x="1800.90" y="496.50" width="3.30" height="3.30" fill="#e7f0f2" stroke="none" stroke-width="0.00"/>
<rect x="1800.90" y="516.30" width="3.30" height="3.30" fill="#dbe8ec" stroke="none" stroke-width="0.00"/>
<rect x="1807.50" y="470.10" width="3.30" height="3.30" fill="#eaf2f4" stroke="none" stroke-width="0.00"/>
<rect x="1807.50" y="506.40" width="3.30" height="3.30" fill="#dde9e8" stroke="none" stroke-width="0.00"/>
<rect x="1807.50" y="509.70" width="3.30" height="3.30" fill="#eaf2f4" stroke="none" stroke-width="0.00"/>
<rect x="1810.80" y="417.30" width="3.30" height="3.30" fill="#e7f0f2" stroke="none" stroke-width="0.00"/>
<rect x="1810.80" y="509.70" width="3.30" height="3.30" fill="#e7f0f2" stroke="none" stroke-width="0.00"/>
<rect x="1814.10" y="427.20" width="3.30" height="3.30" fill="#ecf4f6" stroke="none" stroke-width="0.00"/>
<rect x="1814.10" y="443.70" width="3.30" height="3.30" fill="#eaf2f4" stroke="none" stroke-width="0.00"/>
<rect x="1814.10" y="460.20" width="3.30" height="3.30" fill="#ecf4f6" stroke="none" stroke-width="0.00"/>
<rect x="1814.10" y="496.50" width="3.30" height="3.30" fill="#eaf2f4" stroke="none" stroke-width="0.00"/>
<rect x="1814.10" y="513.00" width="3.30" height="3.30" fill="#e7f0f2" stroke="none" stroke-width="0.00"/>
<rect x="1814.10" y="519.60" width="3.30" height="3.30" fill="#ecf4f6" stroke="none" stroke-width="0.00"/>
<rect x="1817.40" y="437.10" width="3.30" height="3.30" fill="#ecf4f6" stroke="none" stroke-width="0.00"/>
<rect x="1817.40" y="456.90" width="3.30" height="3.30" fill="#e7f0f2" stroke="none" stroke-width="0.00"/>
<rect x="1817.40" y="496.50" width="3.30" height="3.30" fill="#eaf2f4" stroke="none" stroke-width="0.00"/>
<rect x="1817.40" y="506.40" width="3.30" height="3.30" fill="#e7f0f2" stroke="none" stroke-width="0.00"/>
<rect x="1824.00" y="440.40" width="3.30" height="3.30" fill="#eaf2f4" stroke="none" stroke-width="0.00"/>
<rect x="1824.00" y="496.50" width="3.30" height="3.30" fill="#eaf2f4" stroke="none" stroke-width="0.00"/>
<rect x="1824.00" y="506.40" width="3.30" height="3.30" fill="#ecf4f6" stroke="none" stroke-width="0.00"/>
<rect x="1827.30" y="456.90" width="3.30" height="3.30" fill="#ecf4f6" stroke="none" stroke-width="0.00"/>
<rect x="1827.30" y="489.90" width="3.30" height="3.30" fill="#ecf4f6" stroke="none" stroke-width="0.00"/>
<rect x="1827.30" y="493.20" width="3.30" height="3.30" fill="#e7f0f2" stroke="none" stroke-width="0.00"/>
<rect x="1544.70" y="455.30" width="18.50" height="15.20" fill="#e3f3ef" stroke="none" stroke-width="0.00"/>
<rect x="1549.80" y="460.90" width="3.40" height="3.40" fill="#7cc7ad" stroke="none" stroke-width="0.00"/>
<rect x="1553.20" y="460.90" width="3.40" height="3.40" fill="#2e9c78" stroke="none" stroke-width="0.00"/>
<rect x="1556.60" y="458.30" width="3.40" height="3.40" fill="#b8e2d5" stroke="none" stroke-width="0.00"/>
<rect x="1544.70" y="455.30" width="18.50" height="15.20" fill="none" stroke="#30564a" stroke-width="1.50"/>
<rect x="1605.50" y="455.30" width="18.60" height="15.20" fill="#e3f3ef" stroke="none" stroke-width="0.00"/>
<rect x="1610.60" y="458.30" width="3.40" height="3.40" fill="#b8e2d5" stroke="none" stroke-width="0.00"/>
<rect x="1614.00" y="461.70" width="3.40" height="3.40" fill="#2e9c78" stroke="none" stroke-width="0.00"/>
<rect x="1617.40" y="458.30" width="3.40" height="3.40" fill="#7cc7ad" stroke="none" stroke-width="0.00"/>
<rect x="1605.50" y="455.30" width="18.60" height="15.20" fill="none" stroke="#30564a" stroke-width="1.50"/>
<rect x="1667.50" y="474.60" width="18.60" height="15.60" fill="#e3f3ef" stroke="none" stroke-width="0.00"/>
<rect x="1672.60" y="480.60" width="3.40" height="3.40" fill="#7cc7ad" stroke="none" stroke-width="0.00"/>
<rect x="1676.00" y="480.60" width="3.40" height="3.40" fill="#2e9c78" stroke="none" stroke-width="0.00"/>
<rect x="1676.00" y="477.20" width="3.40" height="3.40" fill="#b8e2d5" stroke="none" stroke-width="0.00"/>
<rect x="1667.50" y="474.60" width="18.60" height="15.60" fill="none" stroke="#30564a" stroke-width="1.50"/>
<rect x="1728.40" y="474.60" width="18.20" height="15.60" fill="#e3f3ef" stroke="none" stroke-width="0.00"/>
<rect x="1733.50" y="480.60" width="3.40" height="3.40" fill="#7cc7ad" stroke="none" stroke-width="0.00"/>
<rect x="1736.90" y="480.60" width="3.40" height="3.40" fill="#0f4f3a" stroke="none" stroke-width="0.00"/>
<rect x="1740.30" y="480.60" width="3.40" height="3.40" fill="#0f4f3a" stroke="none" stroke-width="0.00"/>
<rect x="1728.40" y="474.60" width="18.20" height="15.60" fill="none" stroke="#30564a" stroke-width="1.50"/>
<rect x="1520.40" y="417.30" width="313.30" height="105.70" fill="none" stroke="#5a5a5a" stroke-width="1.20"/>
<polygon points="1919.20,276.20 1937.14,306.60 1919.80,330.00 1888.68,330.00" fill="#5aab3b" stroke="none" stroke-width="0.00"/>
<polygon points="1937.14,306.60 1968.30,359.40 1936.30,359.40 1919.80,330.00" fill="#3d8fd4" stroke="none" stroke-width="0.00"/>
<polygon points="1888.68,330.00 1919.80,330.00 1936.30,359.40 1872.00,359.40" fill="#e27d68" stroke="none" stroke-width="0.00"/>
<polygon points="1919.20,276.20 1872.00,359.40 1968.30,359.40" fill="none" stroke="#1b2a1b" stroke-width="1.30"/>
<circle cx="1919.70" cy="277.80" r="7.90" fill="#1e1c1e" stroke="#111" stroke-width="1.00"/>
<circle cx="1935.40" cy="304.60" r="7.90" fill="#1e1c1e" stroke="#111" stroke-width="1.00"/>
<circle cx="1919.80" cy="330.00" r="7.90" fill="#1e1c1e" stroke="#111" stroke-width="1.00"/>
<circle cx="1888.60" cy="330.00" r="7.90" fill="#ffffff" stroke="#111" stroke-width="1.20"/>
<circle cx="1875.90" cy="356.60" r="7.90" fill="#ffffff" stroke="#111" stroke-width="1.20"/>
<circle cx="1935.30" cy="356.60" r="7.90" fill="#1e1c1e" stroke="#111" stroke-width="1.00"/>
<circle cx="1965.60" cy="356.60" r="7.90" fill="#ffffff" stroke="#111" stroke-width="1.20"/>
<polygon points="1922.20,425.80 1940.14,456.20 1922.80,479.60 1891.68,479.60" fill="#5aab3b" stroke="none" stroke-width="0.00"/>
<polygon points="1940.14,456.20 1971.30,509.00 1939.30,509.00 1922.80,479.60" fill="#3d8fd4" stroke="none" stroke-width="0.00"/>
<polygon points="1891.68,479.60 1922.80,479.60 1939.30,509.00 1875.00,509.00" fill="#e27d68" stroke="none" stroke-width="0.00"/>
<polygon points="1922.20,425.80 1875.00,509.00 1971.30,509.00" fill="none" stroke="#1b2a1b" stroke-width="1.30"/>
<circle cx="1922.70" cy="427.40" r="7.90" fill="#1e1c1e" stroke="#111" stroke-width="1.00"/>
<circle cx="1938.40" cy="454.20" r="7.90" fill="#ffffff" stroke="#111" stroke-width="1.20"/>
<circle cx="1922.80" cy="479.60" r="7.90" fill="#ffffff" stroke="#111" stroke-width="1.20"/>
<circle cx="1891.60" cy="479.60" r="7.90" fill="#1e1c1e" stroke="#111" stroke-width="1.00"/>
<circle cx="1878.90" cy="506.20" r="7.90" fill="#ffffff" stroke="#111" stroke-width="1.20"/>
<circle cx="1938.30" cy="506.20" r="7.90" fill="#1e1c1e" stroke="#111" stroke-width="1.00"/>
<circle cx="1968.60" cy="506.20" r="7.90" fill="#1e1c1e" stroke="#111" stroke-width="1.00"/>
<text x="1981.32" y="323.21" style="font-family:'Liberation Serif',serif;font-size:34.84px" fill="#1a1a1a">|</text>
<text x="1988.33" y="323.50" style="font-family:'Liberation Serif', 'DejaVu Serif', serif;font-size:33.88px" fill="#1a1a1a">0</text>
<text x="2004.21" y="330.40" style="font-family:'Liberation Sans', Arial, sans-serif;font-size:19.78px;font-style:italic" fill="#1a1a1a">L</text>
<text x="-1.26" y="327.66" transform="translate(2017.00 0) scale(0.483 1)" style="font-family:'Noto Serif CJK SC',serif;font-size:33.72px" fill="#1a1a1a" stroke="#1a1a1a" stroke-width="1.2">〉</text>
<text x="1981.35" y="472.58" style="font-family:'Liberation Serif',serif;font-size:34.51px" fill="#1a1a1a">|</text>
<text x="1987.00" y="472.80" style="font-family:'Liberation Sans', Arial, sans-serif;font-size:32.00px" fill="#1a1a1a">1</text>
<text x="2004.41" y="479.70" style="font-family:'Liberation Sans', Arial, sans-serif;font-size:19.78px;font-style:italic" fill="#1a1a1a">L</text>
<text x="-1.25" y="476.99" transform="translate(2017.00 0) scale(0.487 1)" style="font-family:'Noto Serif CJK SC',serif;font-size:33.40px" fill="#1a1a1a" stroke="#1a1a1a" stroke-width="1.2">〉</text>
<text x="1582.23" y="574.80" style="font-family:'Liberation Sans', Arial, sans-serif;font-size:28.52px" fill="#1c1c1c">Atom detection</text>
<text x="1860.55" y="564.40" style="font-family:'Liberation Sans', Arial, sans-serif;font-size:28.43px" fill="#1c1c1c">Logical state</text>
<text x="1882.17" y="596.30" style="font-family:'Liberation Sans', Arial, sans-serif;font-size:28.99px" fill="#1c1c1c">decoding</text>
<text x="-0.11" y="739.80" style="font-family:'Liberation Sans', Arial, sans-serif;font-size:32.50px;font-weight:bold" fill="#111">d</text>
<text x="219.10" y="748.40" style="font-family:'Liberation Sans', Arial, sans-serif;font-size:35.13px" fill="#1c1c1c">Local</text>
<text x="198.77" y="787.30" style="font-family:'Liberation Sans', Arial, sans-serif;font-size:34.35px" fill="#1c1c1c">pushout</text>
<text x="1623.70" y="731.60" style="font-family:'Liberation Sans', Arial, sans-serif;font-size:32.68px" fill="#1c1c1c">FPGA</text>
<text x="1603.92" y="771.20" style="font-family:'Liberation Sans', Arial, sans-serif;font-size:34.74px" fill="#1c1c1c">decoding</text>
<text x="1799.17" y="731.60" style="font-family:'Liberation Sans', Arial, sans-serif;font-size:34.56px" fill="#1c1c1c">Conditional</text>
<text x="1792.02" y="771.20" style="font-family:'Liberation Sans', Arial, sans-serif;font-size:33.72px" fill="#1c1c1c">local Raman</text>
<path d="M195.8 782.0 C188.0 786.0 184.6 797.0 184.6 822.0" fill="none" stroke="#1a1a1a" stroke-width="1.30"/>
<polyline points="181.10,817.10 184.60,822.60 188.10,817.10" fill="none" stroke="#1a1a1a" stroke-width="1.30"/>
<path d="M1711.8 780.0 L1717.5 822.0" fill="none" stroke="#1a1a1a" stroke-width="1.30"/>
<polyline points="1713.40,817.82 1717.60,822.80 1720.33,816.88" fill="none" stroke="#1a1a1a" stroke-width="1.30"/>
<path d="M1829.6 781.2 C1826.0 790.0 1824.6 800.0 1824.6 822.0" fill="none" stroke="#1a1a1a" stroke-width="1.30"/>
<polyline points="1821.10,817.30 1824.60,822.80 1828.10,817.30" fill="none" stroke="#1a1a1a" stroke-width="1.30"/>
<rect x="179.40" y="826.80" width="11.80" height="80.20" fill="#e8e8e8" stroke="#555555" stroke-width="1.70"/>
<rect x="371.20" y="826.80" width="953.00" height="80.20" fill="#e8e8e8" stroke="#555555" stroke-width="1.70"/>
<rect x="1329.70" y="826.80" width="368.40" height="80.20" fill="#e8e8e8" stroke="#555555" stroke-width="1.70"/>
<rect x="1703.10" y="826.80" width="31.10" height="80.20" fill="#e8e8e8" stroke="#555555" stroke-width="1.70"/>
<rect x="1811.90" y="826.80" width="26.50" height="80.20" fill="#e8e8e8" stroke="#555555" stroke-width="1.70"/>
<text x="739.27" y="878.50" style="font-family:'Liberation Sans', Arial, sans-serif;font-size:34.36px" fill="#1c1c1c">Local imaging</text>
<text x="1395.13" y="879.50" style="font-family:'Liberation Sans', Arial, sans-serif;font-size:33.43px" fill="#1c1c1c">Camera readout</text>
<line x1="178.80" y1="912.70" x2="1896.80" y2="914.90" stroke="#1a1a1a" stroke-width="1.70"/>
<line x1="179.60" y1="912.70" x2="179.60" y2="929.80" stroke="#1a1a1a" stroke-width="1.70"/>
<line x1="371.40" y1="912.95" x2="371.40" y2="930.00" stroke="#1a1a1a" stroke-width="1.70"/>
<line x1="563.10" y1="913.19" x2="563.10" y2="930.20" stroke="#1a1a1a" stroke-width="1.70"/>
<line x1="745.10" y1="913.43" x2="745.10" y2="930.40" stroke="#1a1a1a" stroke-width="1.70"/>
<line x1="937.70" y1="913.67" x2="937.70" y2="930.60" stroke="#1a1a1a" stroke-width="1.70"/>
<line x1="1134.20" y1="913.92" x2="1134.20" y2="930.80" stroke="#1a1a1a" stroke-width="1.70"/>
<line x1="1325.70" y1="914.17" x2="1325.70" y2="931.00" stroke="#1a1a1a" stroke-width="1.70"/>
<line x1="1508.60" y1="914.40" x2="1508.60" y2="931.20" stroke="#1a1a1a" stroke-width="1.70"/>
<line x1="1700.60" y1="914.65" x2="1700.60" y2="931.40" stroke="#1a1a1a" stroke-width="1.70"/>
<line x1="1896.10" y1="914.90" x2="1896.10" y2="931.60" stroke="#1a1a1a" stroke-width="1.70"/>
<text x="169.91" y="963.50" style="font-family:'Liberation Sans', Arial, sans-serif;font-size:34.76px" fill="#1c1c1c">0</text>
<text x="343.49" y="963.30" style="font-family:'Liberation Sans', Arial, sans-serif;font-size:33.50px" fill="#1c1c1c">100</text>
<text x="1297.79" y="966.70" style="font-family:'Liberation Sans', Arial, sans-serif;font-size:34.18px" fill="#1c1c1c">600</text>
<text x="1866.86" y="967.00" style="font-family:'Liberation Sans', Arial, sans-serif;font-size:34.57px" fill="#1c1c1c">900</text>
<text x="1014.26" y="984.60" style="font-family:'Liberation Sans', Arial, sans-serif;font-size:32.71px" fill="#1c1c1c">Time (us)</text>
<text x="0.12" y="1161.60" style="font-family:'Liberation Sans', Arial, sans-serif;font-size:32.50px;font-weight:bold" fill="#111">e</text>
<line x1="134.50" y1="1434.89" x2="134.50" y2="1456.11" stroke="#f28d83" stroke-width="3.80"/>
<line x1="141.10" y1="1437.42" x2="141.10" y2="1460.78" stroke="#f28d83" stroke-width="3.80"/>
<line x1="145.40" y1="1423.04" x2="145.40" y2="1447.36" stroke="#f28d83" stroke-width="3.80"/>
<line x1="150.20" y1="1404.22" x2="150.20" y2="1431.18" stroke="#f28d83" stroke-width="3.80"/>
<line x1="152.60" y1="1387.34" x2="152.60" y2="1410.66" stroke="#f28d83" stroke-width="3.80"/>
<line x1="157.40" y1="1374.20" x2="157.40" y2="1400.80" stroke="#f28d83" stroke-width="3.80"/>
<line x1="162.90" y1="1389.44" x2="162.90" y2="1399.96" stroke="#f28d83" stroke-width="3.80"/>
<line x1="165.90" y1="1374.11" x2="165.90" y2="1392.49" stroke="#f28d83" stroke-width="3.80"/>
<line x1="170.70" y1="1359.51" x2="170.70" y2="1386.49" stroke="#f28d83" stroke-width="3.80"/>
<line x1="175.00" y1="1369.36" x2="175.00" y2="1391.04" stroke="#f28d83" stroke-width="3.80"/>
<line x1="179.80" y1="1351.39" x2="179.80" y2="1377.61" stroke="#f28d83" stroke-width="3.80"/>
<line x1="184.60" y1="1368.18" x2="184.60" y2="1380.22" stroke="#f28d83" stroke-width="3.80"/>
<line x1="188.20" y1="1359.58" x2="188.20" y2="1378.02" stroke="#f28d83" stroke-width="3.80"/>
<line x1="192.50" y1="1319.88" x2="192.50" y2="1334.32" stroke="#f28d83" stroke-width="3.80"/>
<line x1="196.70" y1="1344.41" x2="196.70" y2="1364.19" stroke="#f28d83" stroke-width="3.80"/>
<line x1="200.90" y1="1344.73" x2="200.90" y2="1365.07" stroke="#f28d83" stroke-width="3.80"/>
<line x1="204.50" y1="1335.88" x2="204.50" y2="1346.12" stroke="#f28d83" stroke-width="3.80"/>
<line x1="209.40" y1="1324.35" x2="209.40" y2="1338.25" stroke="#f28d83" stroke-width="3.80"/>
<line x1="213.00" y1="1331.68" x2="213.00" y2="1346.72" stroke="#f28d83" stroke-width="3.80"/>
<line x1="218.40" y1="1338.65" x2="218.40" y2="1365.15" stroke="#f28d83" stroke-width="3.80"/>
<line x1="222.70" y1="1330.91" x2="222.70" y2="1354.69" stroke="#f28d83" stroke-width="3.80"/>
<line x1="226.90" y1="1314.06" x2="226.90" y2="1326.94" stroke="#f28d83" stroke-width="3.80"/>
<line x1="231.10" y1="1323.43" x2="231.10" y2="1347.77" stroke="#f28d83" stroke-width="3.80"/>
<line x1="234.70" y1="1291.85" x2="234.70" y2="1304.35" stroke="#f28d83" stroke-width="3.80"/>
<line x1="240.20" y1="1312.94" x2="240.20" y2="1334.06" stroke="#f28d83" stroke-width="3.80"/>
<line x1="243.80" y1="1291.36" x2="243.80" y2="1303.64" stroke="#f28d83" stroke-width="3.80"/>
<line x1="248.00" y1="1309.98" x2="248.00" y2="1320.02" stroke="#f28d83" stroke-width="3.80"/>
<line x1="252.80" y1="1295.56" x2="252.80" y2="1321.24" stroke="#f28d83" stroke-width="3.80"/>
<line x1="257.10" y1="1275.51" x2="257.10" y2="1289.29" stroke="#f28d83" stroke-width="3.80"/>
<line x1="269.80" y1="1299.06" x2="269.80" y2="1312.94" stroke="#f28d83" stroke-width="3.80"/>
<line x1="273.40" y1="1273.36" x2="273.40" y2="1301.04" stroke="#f28d83" stroke-width="3.80"/>
<line x1="278.20" y1="1267.75" x2="278.20" y2="1293.45" stroke="#f28d83" stroke-width="3.80"/>
<line x1="283.00" y1="1288.70" x2="283.00" y2="1303.90" stroke="#f28d83" stroke-width="3.80"/>
<line x1="261.40" y1="1259.35" x2="261.40" y2="1286.65" stroke="#f28d83" stroke-width="3.80"/>
<line x1="286.70" y1="1255.45" x2="286.70" y2="1275.15" stroke="#f28d83" stroke-width="3.80"/>
<line x1="293.40" y1="1258.00" x2="293.40" y2="1280.20" stroke="#f28d83" stroke-width="3.80"/>
<line x1="298.20" y1="1254.66" x2="298.20" y2="1268.34" stroke="#f28d83" stroke-width="3.80"/>
<line x1="302.00" y1="1252.83" x2="302.00" y2="1279.77" stroke="#f28d83" stroke-width="3.80"/>
<line x1="308.60" y1="1246.48" x2="308.60" y2="1268.92" stroke="#f28d83" stroke-width="3.80"/>
<line x1="312.90" y1="1252.10" x2="312.90" y2="1279.50" stroke="#f28d83" stroke-width="3.80"/>
<line x1="317.20" y1="1225.16" x2="317.20" y2="1251.24" stroke="#f28d83" stroke-width="3.80"/>
<line x1="321.00" y1="1241.41" x2="321.00" y2="1256.79" stroke="#f28d83" stroke-width="3.80"/>
<line x1="323.90" y1="1245.65" x2="323.90" y2="1262.15" stroke="#f28d83" stroke-width="3.80"/>
<line x1="330.60" y1="1253.11" x2="330.60" y2="1266.09" stroke="#f28d83" stroke-width="3.80"/>
<line x1="337.70" y1="1233.79" x2="337.70" y2="1246.41" stroke="#f28d83" stroke-width="3.80"/>
<line x1="343.00" y1="1222.61" x2="343.00" y2="1233.79" stroke="#f28d83" stroke-width="3.80"/>
<line x1="345.80" y1="1246.69" x2="345.80" y2="1262.11" stroke="#f28d83" stroke-width="3.80"/>
<line x1="351.10" y1="1206.27" x2="351.10" y2="1227.13" stroke="#f28d83" stroke-width="3.80"/>
<line x1="355.80" y1="1247.47" x2="355.80" y2="1257.53" stroke="#f28d83" stroke-width="3.80"/>
<line x1="359.60" y1="1213.70" x2="359.60" y2="1235.90" stroke="#f28d83" stroke-width="3.80"/>
<line x1="364.40" y1="1233.96" x2="364.40" y2="1250.04" stroke="#f28d83" stroke-width="3.80"/>
<line x1="372.00" y1="1221.31" x2="372.00" y2="1236.89" stroke="#f28d83" stroke-width="3.80"/>
<line x1="377.30" y1="1227.73" x2="377.30" y2="1252.47" stroke="#f28d83" stroke-width="3.80"/>
<line x1="380.60" y1="1216.47" x2="380.60" y2="1235.13" stroke="#f28d83" stroke-width="3.80"/>
<line x1="385.90" y1="1205.56" x2="385.90" y2="1221.24" stroke="#f28d83" stroke-width="3.80"/>
<line x1="388.70" y1="1219.27" x2="388.70" y2="1237.93" stroke="#f28d83" stroke-width="3.80"/>
<line x1="394.40" y1="1225.36" x2="394.40" y2="1248.04" stroke="#f28d83" stroke-width="3.80"/>
<line x1="397.80" y1="1223.59" x2="397.80" y2="1234.61" stroke="#f28d83" stroke-width="3.80"/>
<line x1="402.50" y1="1193.92" x2="402.50" y2="1221.48" stroke="#f28d83" stroke-width="3.80"/>
<line x1="410.60" y1="1213.89" x2="410.60" y2="1224.31" stroke="#f28d83" stroke-width="3.80"/>
<line x1="415.40" y1="1197.35" x2="415.40" y2="1220.85" stroke="#f28d83" stroke-width="3.80"/>
<line x1="405.40" y1="1212.70" x2="405.40" y2="1237.90" stroke="#f28d83" stroke-width="3.80"/>
<line x1="411.80" y1="1215.04" x2="411.80" y2="1225.36" stroke="#f28d83" stroke-width="3.80"/>
<line x1="418.80" y1="1191.01" x2="418.80" y2="1215.19" stroke="#f28d83" stroke-width="3.80"/>
<line x1="424.50" y1="1201.80" x2="424.50" y2="1218.40" stroke="#f28d83" stroke-width="3.80"/>
<line x1="428.30" y1="1185.19" x2="428.30" y2="1205.61" stroke="#f28d83" stroke-width="3.80"/>
<line x1="432.80" y1="1196.12" x2="432.80" y2="1206.28" stroke="#f28d83" stroke-width="3.80"/>
<line x1="437.20" y1="1177.28" x2="437.20" y2="1188.12" stroke="#f28d83" stroke-width="3.80"/>
<line x1="441.00" y1="1190.07" x2="441.00" y2="1203.33" stroke="#f28d83" stroke-width="3.80"/>
<line x1="446.10" y1="1176.10" x2="446.10" y2="1203.30" stroke="#f28d83" stroke-width="3.80"/>
<line x1="449.90" y1="1203.33" x2="449.90" y2="1216.87" stroke="#f28d83" stroke-width="3.80"/>
<line x1="457.60" y1="1195.10" x2="457.60" y2="1218.70" stroke="#f28d83" stroke-width="3.80"/>
<line x1="462.60" y1="1183.93" x2="462.60" y2="1210.67" stroke="#f28d83" stroke-width="3.80"/>
<line x1="467.10" y1="1192.12" x2="467.10" y2="1219.08" stroke="#f28d83" stroke-width="3.80"/>
<line x1="476.00" y1="1186.10" x2="476.00" y2="1202.30" stroke="#f28d83" stroke-width="3.80"/>
<line x1="471.50" y1="1209.51" x2="471.50" y2="1225.89" stroke="#f28d83" stroke-width="3.80"/>
<circle cx="134.50" cy="1445.50" r="5.70" fill="#ee7a6f" stroke="#67291f" stroke-width="3.80"/>
<circle cx="141.10" cy="1449.10" r="5.70" fill="#ee7a6f" stroke="#67291f" stroke-width="3.80"/>
<circle cx="145.40" cy="1435.20" r="5.70" fill="#ee7a6f" stroke="#67291f" stroke-width="3.80"/>
<circle cx="150.20" cy="1417.70" r="5.70" fill="#ee7a6f" stroke="#67291f" stroke-width="3.80"/>
<circle cx="152.60" cy="1399.00" r="5.70" fill="#ee7a6f" stroke="#67291f" stroke-width="3.80"/>
<circle cx="157.40" cy="1387.50" r="5.70" fill="#ee7a6f" stroke="#67291f" stroke-width="3.80"/>
<circle cx="162.90" cy="1394.70" r="5.70" fill="#ee7a6f" stroke="#67291f" stroke-width="3.80"/>
<circle cx="165.90" cy="1383.30" r="5.70" fill="#ee7a6f" stroke="#67291f" stroke-width="3.80"/>
<circle cx="170.70" cy="1373.00" r="5.70" fill="#ee7a6f" stroke="#67291f" stroke-width="3.80"/>
<circle cx="175.00" cy="1380.20" r="5.70" fill="#ee7a6f" stroke="#67291f" stroke-width="3.80"/>
<circle cx="179.80" cy="1364.50" r="5.70" fill="#ee7a6f" stroke="#67291f" stroke-width="3.80"/>
<circle cx="184.60" cy="1374.20" r="5.70" fill="#ee7a6f" stroke="#67291f" stroke-width="3.80"/>
<circle cx="188.20" cy="1368.80" r="5.70" fill="#ee7a6f" stroke="#67291f" stroke-width="3.80"/>
<circle cx="192.50" cy="1327.10" r="5.70" fill="#ee7a6f" stroke="#67291f" stroke-width="3.80"/>
<circle cx="196.70" cy="1354.30" r="5.70" fill="#ee7a6f" stroke="#67291f" stroke-width="3.80"/>
<circle cx="200.90" cy="1354.90" r="5.70" fill="#ee7a6f" stroke="#67291f" stroke-width="3.80"/>
<circle cx="204.50" cy="1341.00" r="5.70" fill="#ee7a6f" stroke="#67291f" stroke-width="3.80"/>
<circle cx="209.40" cy="1331.30" r="5.70" fill="#ee7a6f" stroke="#67291f" stroke-width="3.80"/>
<circle cx="213.00" cy="1339.20" r="5.70" fill="#ee7a6f" stroke="#67291f" stroke-width="3.80"/>
<circle cx="218.40" cy="1351.90" r="5.70" fill="#ee7a6f" stroke="#67291f" stroke-width="3.80"/>
<circle cx="222.70" cy="1342.80" r="5.70" fill="#ee7a6f" stroke="#67291f" stroke-width="3.80"/>
<circle cx="226.90" cy="1320.50" r="5.70" fill="#ee7a6f" stroke="#67291f" stroke-width="3.80"/>
<circle cx="231.10" cy="1335.60" r="5.70" fill="#ee7a6f" stroke="#67291f" stroke-width="3.80"/>
<circle cx="234.70" cy="1298.10" r="5.70" fill="#ee7a6f" stroke="#67291f" stroke-width="3.80"/>
<circle cx="240.20" cy="1323.50" r="5.70" fill="#ee7a6f" stroke="#67291f" stroke-width="3.80"/>
<circle cx="243.80" cy="1297.50" r="5.70" fill="#ee7a6f" stroke="#67291f" stroke-width="3.80"/>
<circle cx="248.00" cy="1315.00" r="5.70" fill="#ee7a6f" stroke="#67291f" stroke-width="3.80"/>
<circle cx="252.80" cy="1308.40" r="5.70" fill="#ee7a6f" stroke="#67291f" stroke-width="3.80"/>
<circle cx="257.10" cy="1282.40" r="5.70" fill="#ee7a6f" stroke="#67291f" stroke-width="3.80"/>
<circle cx="261.40" cy="1273.00" r="5.70" fill="#ee7a6f" stroke="#67291f" stroke-width="3.80"/>
<circle cx="269.80" cy="1306.00" r="5.70" fill="#ee7a6f" stroke="#67291f" stroke-width="3.80"/>
<circle cx="273.40" cy="1287.20" r="5.70" fill="#ee7a6f" stroke="#67291f" stroke-width="3.80"/>
<circle cx="278.20" cy="1280.60" r="5.70" fill="#ee7a6f" stroke="#67291f" stroke-width="3.80"/>
<circle cx="283.00" cy="1296.30" r="5.70" fill="#ee7a6f" stroke="#67291f" stroke-width="3.80"/>
<circle cx="286.70" cy="1265.30" r="5.70" fill="#ee7a6f" stroke="#67291f" stroke-width="3.80"/>
<circle cx="293.40" cy="1269.10" r="5.70" fill="#ee7a6f" stroke="#67291f" stroke-width="3.80"/>
<circle cx="298.20" cy="1261.50" r="5.70" fill="#ee7a6f" stroke="#67291f" stroke-width="3.80"/>
<circle cx="302.00" cy="1266.30" r="5.70" fill="#ee7a6f" stroke="#67291f" stroke-width="3.80"/>
<circle cx="308.60" cy="1257.70" r="5.70" fill="#ee7a6f" stroke="#67291f" stroke-width="3.80"/>
<circle cx="312.90" cy="1265.80" r="5.70" fill="#ee7a6f" stroke="#67291f" stroke-width="3.80"/>
<circle cx="317.20" cy="1238.20" r="5.70" fill="#ee7a6f" stroke="#67291f" stroke-width="3.80"/>
<circle cx="321.00" cy="1249.10" r="5.70" fill="#ee7a6f" stroke="#67291f" stroke-width="3.80"/>
<circle cx="323.90" cy="1253.90" r="5.70" fill="#ee7a6f" stroke="#67291f" stroke-width="3.80"/>
<circle cx="330.60" cy="1259.60" r="5.70" fill="#ee7a6f" stroke="#67291f" stroke-width="3.80"/>
<circle cx="337.70" cy="1240.10" r="5.70" fill="#ee7a6f" stroke="#67291f" stroke-width="3.80"/>
<circle cx="343.00" cy="1228.20" r="5.70" fill="#ee7a6f" stroke="#67291f" stroke-width="3.80"/>
<circle cx="345.80" cy="1254.40" r="5.70" fill="#ee7a6f" stroke="#67291f" stroke-width="3.80"/>
<circle cx="351.10" cy="1216.70" r="5.70" fill="#ee7a6f" stroke="#67291f" stroke-width="3.80"/>
<circle cx="355.80" cy="1252.50" r="5.70" fill="#ee7a6f" stroke="#67291f" stroke-width="3.80"/>
<circle cx="359.60" cy="1224.80" r="5.70" fill="#ee7a6f" stroke="#67291f" stroke-width="3.80"/>
<circle cx="364.40" cy="1242.00" r="5.70" fill="#ee7a6f" stroke="#67291f" stroke-width="3.80"/>
<circle cx="372.00" cy="1229.10" r="5.70" fill="#ee7a6f" stroke="#67291f" stroke-width="3.80"/>
<circle cx="377.30" cy="1240.10" r="5.70" fill="#ee7a6f" stroke="#67291f" stroke-width="3.80"/>
<circle cx="380.60" cy="1225.80" r="5.70" fill="#ee7a6f" stroke="#67291f" stroke-width="3.80"/>
<circle cx="385.90" cy="1213.40" r="5.70" fill="#ee7a6f" stroke="#67291f" stroke-width="3.80"/>
<circle cx="388.70" cy="1228.60" r="5.70" fill="#ee7a6f" stroke="#67291f" stroke-width="3.80"/>
<circle cx="394.40" cy="1236.70" r="5.70" fill="#ee7a6f" stroke="#67291f" stroke-width="3.80"/>
<circle cx="397.80" cy="1229.10" r="5.70" fill="#ee7a6f" stroke="#67291f" stroke-width="3.80"/>
<circle cx="402.50" cy="1207.70" r="5.70" fill="#ee7a6f" stroke="#67291f" stroke-width="3.80"/>
<circle cx="405.40" cy="1225.30" r="5.70" fill="#ee7a6f" stroke="#67291f" stroke-width="3.80"/>
<circle cx="410.60" cy="1219.10" r="5.70" fill="#ee7a6f" stroke="#67291f" stroke-width="3.80"/>
<circle cx="411.80" cy="1220.20" r="5.70" fill="#ee7a6f" stroke="#67291f" stroke-width="3.80"/>
<circle cx="415.40" cy="1209.10" r="5.70" fill="#ee7a6f" stroke="#67291f" stroke-width="3.80"/>
<circle cx="418.80" cy="1203.10" r="5.70" fill="#ee7a6f" stroke="#67291f" stroke-width="3.80"/>
<circle cx="424.50" cy="1210.10" r="5.70" fill="#ee7a6f" stroke="#67291f" stroke-width="3.80"/>
<circle cx="428.30" cy="1195.40" r="5.70" fill="#ee7a6f" stroke="#67291f" stroke-width="3.80"/>
<circle cx="432.80" cy="1201.20" r="5.70" fill="#ee7a6f" stroke="#67291f" stroke-width="3.80"/>
<circle cx="437.20" cy="1182.70" r="5.70" fill="#ee7a6f" stroke="#67291f" stroke-width="3.80"/>
<circle cx="441.00" cy="1196.70" r="5.70" fill="#ee7a6f" stroke="#67291f" stroke-width="3.80"/>
<circle cx="446.10" cy="1189.70" r="5.70" fill="#ee7a6f" stroke="#67291f" stroke-width="3.80"/>
<circle cx="449.90" cy="1210.10" r="5.70" fill="#ee7a6f" stroke="#67291f" stroke-width="3.80"/>
<circle cx="457.60" cy="1206.90" r="5.70" fill="#ee7a6f" stroke="#67291f" stroke-width="3.80"/>
<circle cx="462.60" cy="1197.30" r="5.70" fill="#ee7a6f" stroke="#67291f" stroke-width="3.80"/>
<circle cx="467.10" cy="1205.60" r="5.70" fill="#ee7a6f" stroke="#67291f" stroke-width="3.80"/>
<circle cx="471.50" cy="1217.70" r="5.70" fill="#ee7a6f" stroke="#67291f" stroke-width="3.80"/>
<circle cx="476.00" cy="1194.20" r="5.70" fill="#ee7a6f" stroke="#67291f" stroke-width="3.80"/>
<rect x="119.70" y="1168.60" width="373.30" height="297.20" fill="none" stroke="#1a1a1a" stroke-width="2.20"/>
<line x1="136.90" y1="1465.80" x2="136.90" y2="1472.80" stroke="#1a1a1a" stroke-width="1.80"/>
<text x="130.21" y="1503.20" style="font-family:'Liberation Sans', Arial, sans-serif;font-size:24.00px" fill="#1c1c1c">0</text>
<line x1="222.60" y1="1465.80" x2="222.60" y2="1472.80" stroke="#1a1a1a" stroke-width="1.80"/>
<text x="215.94" y="1503.20" style="font-family:'Liberation Sans', Arial, sans-serif;font-size:24.00px" fill="#1c1c1c">5</text>
<line x1="308.30" y1="1465.80" x2="308.30" y2="1472.80" stroke="#1a1a1a" stroke-width="1.80"/>
<text x="294.53" y="1503.20" style="font-family:'Liberation Sans', Arial, sans-serif;font-size:24.00px" fill="#1c1c1c">10</text>
<line x1="394.00" y1="1465.80" x2="394.00" y2="1472.80" stroke="#1a1a1a" stroke-width="1.80"/>
<text x="380.26" y="1503.20" style="font-family:'Liberation Sans', Arial, sans-serif;font-size:24.00px" fill="#1c1c1c">15</text>
<line x1="479.70" y1="1465.80" x2="479.70" y2="1472.80" stroke="#1a1a1a" stroke-width="1.80"/>
<text x="466.23" y="1503.20" style="font-family:'Liberation Sans', Arial, sans-serif;font-size:24.00px" fill="#1c1c1c">20</text>
<line x1="111.70" y1="1453.90" x2="119.70" y2="1453.90" stroke="#1a1a1a" stroke-width="1.80"/>
<text x="66.74" y="1462.60" style="font-family:'Liberation Sans', Arial, sans-serif;font-size:24.00px" fill="#1c1c1c">0.0</text>
<line x1="111.70" y1="1389.10" x2="119.70" y2="1389.10" stroke="#1a1a1a" stroke-width="1.80"/>
<text x="67.04" y="1397.80" style="font-family:'Liberation Sans', Arial, sans-serif;font-size:24.00px" fill="#1c1c1c">0.2</text>
<line x1="111.70" y1="1324.30" x2="119.70" y2="1324.30" stroke="#1a1a1a" stroke-width="1.80"/>
<text x="66.50" y="1333.00" style="font-family:'Liberation Sans', Arial, sans-serif;font-size:24.00px" fill="#1c1c1c">0.4</text>
<line x1="111.70" y1="1259.50" x2="119.70" y2="1259.50" stroke="#1a1a1a" stroke-width="1.80"/>
<text x="66.86" y="1268.20" style="font-family:'Liberation Sans', Arial, sans-serif;font-size:24.00px" fill="#1c1c1c">0.6</text>
<line x1="111.70" y1="1194.70" x2="119.70" y2="1194.70" stroke="#1a1a1a" stroke-width="1.80"/>
<text x="66.86" y="1203.40" style="font-family:'Liberation Sans', Arial, sans-serif;font-size:24.00px" fill="#1c1c1c">0.8</text>
<text x="201.40" y="1538.50" style="font-family:'Liberation Sans', Arial, sans-serif;font-size:24.22px" fill="#1c1c1c">Exposure time (ms)</text>
<text x="-1398.37" y="47.50" style="font-family:'Liberation Sans', Arial, sans-serif;font-size:25.14px" fill="#1c1c1c" transform="rotate(-90 0.00 0.00)">Data qubit</text>
<text x="-1275.27" y="47.50" style="font-family:'Liberation Serif', 'DejaVu Serif', serif;font-size:25.20px;font-style:italic" fill="#1c1c1c" transform="rotate(-90 0.00 0.00)">P</text>
<text x="-1256.56" y="51.30" style="font-family:'Liberation Serif', 'DejaVu Serif', serif;font-size:16.50px" fill="#1c1c1c" transform="rotate(-90 0.00 0.00)">err</text>
<text x="301.41" y="1365.20" style="font-family:'Liberation Sans', Arial, sans-serif;font-size:33.83px" fill="#1c1c1c">Exposure</text>
<text x="266.00" y="1403.20" style="font-family:'Liberation Sans', Arial, sans-serif;font-size:33.83px" fill="#1c1c1c">used = 500 us</text>
<line x1="253.30" y1="1397.50" x2="169.50" y2="1439.60" stroke="#1a1a1a" stroke-width="2.00"/>
<polygon points="154.20,1447.20 166.90,1428.60 168.80,1440.10 177.90,1448.80" fill="#1a1a1a" stroke="none" stroke-width="0.00"/>
<text x="524.03" y="1166.80" style="font-family:'Liberation Sans', Arial, sans-serif;font-size:32.50px;font-weight:bold" fill="#111">f</text>
<defs><clipPath id="cf"><rect x="639.7" y="1164.1" width="385.4" height="306.2"/></clipPath></defs>
<g clip-path="url(#cf)">
<polyline points="650.10,1422.40 656.60,1416.80 663.10,1408.90 670.70,1415.10 676.30,1404.60 682.80,1411.10 689.60,1396.20 696.10,1390.60 701.70,1372.30 708.20,1369.40 714.90,1365.20 721.40,1365.20 728.50,1354.50 733.50,1314.50 741.10,1313.70 746.80,1283.50 753.20,1272.30 759.40,1232.30 766.50,1203.20 773.00,1180.70 777.70,1170.80 784.80,1168.90 791.00,1172.30 797.50,1168.00 804.50,1169.40 811.50,1174.50 818.00,1186.90 824.20,1218.70 830.70,1219.60 836.90,1215.10 843.40,1237.00 849.60,1277.00 855.80,1315.90 862.30,1325.80 869.30,1341.30 875.50,1358.20 882.00,1370.80 888.50,1386.30 894.60,1393.40 900.80,1401.80 907.30,1413.10 913.80,1418.70 920.00,1427.20 926.20,1423.50 932.70,1425.20 939.20,1432.80 945.40,1437.00 951.70,1432.80 958.20,1438.50 964.50,1445.50 970.70,1446.10 977.70,1446.90 984.20,1449.70 990.40,1453.90 996.60,1456.80 1003.10,1452.50" fill="none" stroke="#b6b7ba" stroke-width="5.00" stroke-linejoin="round"/>
<circle cx="650.10" cy="1422.40" r="6.00" fill="#b2b3b6" stroke="#8f9195" stroke-width="3.00"/>
<circle cx="656.60" cy="1416.80" r="6.00" fill="#b2b3b6" stroke="#8f9195" stroke-width="3.00"/>
<circle cx="663.10" cy="1408.90" r="6.00" fill="#b2b3b6" stroke="#8f9195" stroke-width="3.00"/>
<circle cx="670.70" cy="1415.10" r="6.00" fill="#b2b3b6" stroke="#8f9195" stroke-width="3.00"/>
<circle cx="676.30" cy="1404.60" r="6.00" fill="#b2b3b6" stroke="#8f9195" stroke-width="3.00"/>
<circle cx="682.80" cy="1411.10" r="6.00" fill="#b2b3b6" stroke="#8f9195" stroke-width="3.00"/>
<circle cx="689.60" cy="1396.20" r="6.00" fill="#b2b3b6" stroke="#8f9195" stroke-width="3.00"/>
<circle cx="696.10" cy="1390.60" r="6.00" fill="#b2b3b6" stroke="#8f9195" stroke-width="3.00"/>
<circle cx="701.70" cy="1372.30" r="6.00" fill="#b2b3b6" stroke="#8f9195" stroke-width="3.00"/>
<circle cx="708.20" cy="1369.40" r="6.00" fill="#b2b3b6" stroke="#8f9195" stroke-width="3.00"/>
<circle cx="714.90" cy="1365.20" r="6.00" fill="#b2b3b6" stroke="#8f9195" stroke-width="3.00"/>
<circle cx="721.40" cy="1365.20" r="6.00" fill="#b2b3b6" stroke="#8f9195" stroke-width="3.00"/>
<circle cx="728.50" cy="1354.50" r="6.00" fill="#b2b3b6" stroke="#8f9195" stroke-width="3.00"/>
<circle cx="733.50" cy="1314.50" r="6.00" fill="#b2b3b6" stroke="#8f9195" stroke-width="3.00"/>
<circle cx="741.10" cy="1313.70" r="6.00" fill="#b2b3b6" stroke="#8f9195" stroke-width="3.00"/>
<circle cx="746.80" cy="1283.50" r="6.00" fill="#b2b3b6" stroke="#8f9195" stroke-width="3.00"/>
<circle cx="753.20" cy="1272.30" r="6.00" fill="#b2b3b6" stroke="#8f9195" stroke-width="3.00"/>
<circle cx="759.40" cy="1232.30" r="6.00" fill="#b2b3b6" stroke="#8f9195" stroke-width="3.00"/>
<circle cx="766.50" cy="1203.20" r="6.00" fill="#b2b3b6" stroke="#8f9195" stroke-width="3.00"/>
<circle cx="773.00" cy="1180.70" r="6.00" fill="#b2b3b6" stroke="#8f9195" stroke-width="3.00"/>
<circle cx="777.70" cy="1170.80" r="6.00" fill="#b2b3b6" stroke="#8f9195" stroke-width="3.00"/>
<circle cx="784.80" cy="1168.90" r="6.00" fill="#b2b3b6" stroke="#8f9195" stroke-width="3.00"/>
<circle cx="791.00" cy="1172.30" r="6.00" fill="#b2b3b6" stroke="#8f9195" stroke-width="3.00"/>
<circle cx="797.50" cy="1168.00" r="6.00" fill="#b2b3b6" stroke="#8f9195" stroke-width="3.00"/>
<circle cx="804.50" cy="1169.40" r="6.00" fill="#b2b3b6" stroke="#8f9195" stroke-width="3.00"/>
<circle cx="811.50" cy="1174.50" r="6.00" fill="#b2b3b6" stroke="#8f9195" stroke-width="3.00"/>
<circle cx="818.00" cy="1186.90" r="6.00" fill="#b2b3b6" stroke="#8f9195" stroke-width="3.00"/>
<circle cx="824.20" cy="1218.70" r="6.00" fill="#b2b3b6" stroke="#8f9195" stroke-width="3.00"/>
<circle cx="830.70" cy="1219.60" r="6.00" fill="#b2b3b6" stroke="#8f9195" stroke-width="3.00"/>
<circle cx="836.90" cy="1215.10" r="6.00" fill="#b2b3b6" stroke="#8f9195" stroke-width="3.00"/>
<circle cx="843.40" cy="1237.00" r="6.00" fill="#b2b3b6" stroke="#8f9195" stroke-width="3.00"/>
<circle cx="849.60" cy="1277.00" r="6.00" fill="#b2b3b6" stroke="#8f9195" stroke-width="3.00"/>
<circle cx="855.80" cy="1315.90" r="6.00" fill="#b2b3b6" stroke="#8f9195" stroke-width="3.00"/>
<circle cx="862.30" cy="1325.80" r="6.00" fill="#b2b3b6" stroke="#8f9195" stroke-width="3.00"/>
<circle cx="869.30" cy="1341.30" r="6.00" fill="#b2b3b6" stroke="#8f9195" stroke-width="3.00"/>
<circle cx="875.50" cy="1358.20" r="6.00" fill="#b2b3b6" stroke="#8f9195" stroke-width="3.00"/>
<circle cx="882.00" cy="1370.80" r="6.00" fill="#b2b3b6" stroke="#8f9195" stroke-width="3.00"/>
<circle cx="888.50" cy="1386.30" r="6.00" fill="#b2b3b6" stroke="#8f9195" stroke-width="3.00"/>
<circle cx="894.60" cy="1393.40" r="6.00" fill="#b2b3b6" stroke="#8f9195" stroke-width="3.00"/>
<circle cx="900.80" cy="1401.80" r="6.00" fill="#b2b3b6" stroke="#8f9195" stroke-width="3.00"/>
<circle cx="907.30" cy="1413.10" r="6.00" fill="#b2b3b6" stroke="#8f9195" stroke-width="3.00"/>
<circle cx="913.80" cy="1418.70" r="6.00" fill="#b2b3b6" stroke="#8f9195" stroke-width="3.00"/>
<circle cx="920.00" cy="1427.20" r="6.00" fill="#b2b3b6" stroke="#8f9195" stroke-width="3.00"/>
<circle cx="926.20" cy="1423.50" r="6.00" fill="#b2b3b6" stroke="#8f9195" stroke-width="3.00"/>
<circle cx="932.70" cy="1425.20" r="6.00" fill="#b2b3b6" stroke="#8f9195" stroke-width="3.00"/>
<circle cx="939.20" cy="1432.80" r="6.00" fill="#b2b3b6" stroke="#8f9195" stroke-width="3.00"/>
<circle cx="945.40" cy="1437.00" r="6.00" fill="#b2b3b6" stroke="#8f9195" stroke-width="3.00"/>
<circle cx="951.70" cy="1432.80" r="6.00" fill="#b2b3b6" stroke="#8f9195" stroke-width="3.00"/>
<circle cx="958.20" cy="1438.50" r="6.00" fill="#b2b3b6" stroke="#8f9195" stroke-width="3.00"/>
<circle cx="964.50" cy="1445.50" r="6.00" fill="#b2b3b6" stroke="#8f9195" stroke-width="3.00"/>
<circle cx="970.70" cy="1446.10" r="6.00" fill="#b2b3b6" stroke="#8f9195" stroke-width="3.00"/>
<circle cx="977.70" cy="1446.90" r="6.00" fill="#b2b3b6" stroke="#8f9195" stroke-width="3.00"/>
<circle cx="984.20" cy="1449.70" r="6.00" fill="#b2b3b6" stroke="#8f9195" stroke-width="3.00"/>
<circle cx="990.40" cy="1453.90" r="6.00" fill="#b2b3b6" stroke="#8f9195" stroke-width="3.00"/>
<circle cx="996.60" cy="1456.80" r="6.00" fill="#b2b3b6" stroke="#8f9195" stroke-width="3.00"/>
<circle cx="1003.10" cy="1452.50" r="6.00" fill="#b2b3b6" stroke="#8f9195" stroke-width="3.00"/>
</g>
<rect x="639.70" y="1164.60" width="385.40" height="306.20" fill="none" stroke="#1a1a1a" stroke-width="2.00"/>
<line x1="683.00" y1="1470.80" x2="683.00" y2="1477.80" stroke="#1a1a1a" stroke-width="1.80"/>
<text x="665.35" y="1508.90" style="font-family:'Liberation Sans', Arial, sans-serif;font-size:24.30px" fill="#1c1c1c">-50</text>
<line x1="789.90" y1="1470.80" x2="789.90" y2="1477.80" stroke="#1a1a1a" stroke-width="1.80"/>
<text x="783.13" y="1508.90" style="font-family:'Liberation Sans', Arial, sans-serif;font-size:24.30px" fill="#1c1c1c">0</text>
<line x1="896.80" y1="1470.80" x2="896.80" y2="1477.80" stroke="#1a1a1a" stroke-width="1.80"/>
<text x="883.28" y="1508.90" style="font-family:'Liberation Sans', Arial, sans-serif;font-size:24.30px" fill="#1c1c1c">50</text>
<line x1="1003.70" y1="1470.80" x2="1003.70" y2="1477.80" stroke="#1a1a1a" stroke-width="1.80"/>
<text x="982.98" y="1508.90" style="font-family:'Liberation Sans', Arial, sans-serif;font-size:24.30px" fill="#1c1c1c">100</text>
<line x1="631.70" y1="1470.80" x2="639.70" y2="1470.80" stroke="#1a1a1a" stroke-width="1.80"/>
<text x="586.33" y="1479.50" style="font-family:'Liberation Sans', Arial, sans-serif;font-size:24.30px" fill="#1c1c1c">0.0</text>
<line x1="631.70" y1="1409.56" x2="639.70" y2="1409.56" stroke="#1a1a1a" stroke-width="1.80"/>
<text x="586.64" y="1418.26" style="font-family:'Liberation Sans', Arial, sans-serif;font-size:24.30px" fill="#1c1c1c">0.2</text>
<line x1="631.70" y1="1348.32" x2="639.70" y2="1348.32" stroke="#1a1a1a" stroke-width="1.80"/>
<text x="586.09" y="1357.02" style="font-family:'Liberation Sans', Arial, sans-serif;font-size:24.30px" fill="#1c1c1c">0.4</text>
<line x1="631.70" y1="1287.08" x2="639.70" y2="1287.08" stroke="#1a1a1a" stroke-width="1.80"/>
<text x="586.46" y="1295.78" style="font-family:'Liberation Sans', Arial, sans-serif;font-size:24.30px" fill="#1c1c1c">0.6</text>
<line x1="631.70" y1="1225.84" x2="639.70" y2="1225.84" stroke="#1a1a1a" stroke-width="1.80"/>
<text x="586.46" y="1234.54" style="font-family:'Liberation Sans', Arial, sans-serif;font-size:24.30px" fill="#1c1c1c">0.8</text>
<line x1="631.70" y1="1164.60" x2="639.70" y2="1164.60" stroke="#1a1a1a" stroke-width="1.80"/>
<text x="586.33" y="1173.30" style="font-family:'Liberation Sans', Arial, sans-serif;font-size:24.30px" fill="#1c1c1c">1.0</text>
<text x="698.24" y="1545.50" style="font-family:'Liberation Sans', Arial, sans-serif;font-size:24.96px" fill="#1c1c1c">Relative detuning (MHz)</text>
<text x="-1398.87" y="565.90" style="font-family:'Liberation Sans', Arial, sans-serif;font-size:25.14px" fill="#1c1c1c" transform="rotate(-90 0.00 0.00)">Data qubit</text>
<text x="-1275.77" y="565.90" style="font-family:'Liberation Serif', 'DejaVu Serif', serif;font-size:25.20px;font-style:italic" fill="#1c1c1c" transform="rotate(-90 0.00 0.00)">P</text>
<text x="-1257.06" y="569.70" style="font-family:'Liberation Serif', 'DejaVu Serif', serif;font-size:16.50px" fill="#1c1c1c" transform="rotate(-90 0.00 0.00)">err</text>
<line x1="880.00" y1="1201.80" x2="904.80" y2="1201.80" stroke="#c3c4c7" stroke-width="3.00"/>
<line x1="892.40" y1="1189.50" x2="892.40" y2="1214.00" stroke="#c3c4c7" stroke-width="3.00"/>
<circle cx="892.40" cy="1201.80" r="6.00" fill="#b2b3b6" stroke="#8f9195" stroke-width="3.00"/>
<text x="907.99" y="1194.20" style="font-family:'Liberation Sans', Arial, sans-serif;font-size:26.15px" fill="#1c1c1c">20-ms</text>
<text x="908.21" y="1220.70" style="font-family:'Liberation Sans', Arial, sans-serif;font-size:25.60px" fill="#1c1c1c">exposure</text>
<text x="1054.60" y="1161.00" style="font-family:'Liberation Sans', Arial, sans-serif;font-size:32.50px;font-weight:bold" fill="#111">g</text>
<line x1="1172.40" y1="1187.75" x2="1172.40" y2="1206.06" stroke="#47652a" stroke-width="3.60"/>
<line x1="1192.10" y1="1202.68" x2="1192.10" y2="1240.42" stroke="#47652a" stroke-width="3.60"/>
<line x1="1211.80" y1="1236.48" x2="1211.80" y2="1244.93" stroke="#47652a" stroke-width="3.60"/>
<line x1="1231.50" y1="1255.35" x2="1231.50" y2="1277.04" stroke="#47652a" stroke-width="3.60"/>
<line x1="1251.80" y1="1266.62" x2="1251.80" y2="1289.15" stroke="#47652a" stroke-width="3.60"/>
<line x1="1271.00" y1="1268.03" x2="1271.00" y2="1285.49" stroke="#47652a" stroke-width="3.60"/>
<line x1="1290.70" y1="1299.01" x2="1290.70" y2="1318.73" stroke="#47652a" stroke-width="3.60"/>
<line x1="1310.40" y1="1332.25" x2="1310.40" y2="1350.56" stroke="#47652a" stroke-width="3.60"/>
<line x1="1330.10" y1="1331.41" x2="1330.10" y2="1359.58" stroke="#47652a" stroke-width="3.60"/>
<line x1="1349.90" y1="1328.59" x2="1349.90" y2="1346.90" stroke="#47652a" stroke-width="3.60"/>
<line x1="1369.00" y1="1356.76" x2="1369.00" y2="1380.70" stroke="#47652a" stroke-width="3.60"/>
<line x1="1389.30" y1="1393.38" x2="1389.30" y2="1405.49" stroke="#47652a" stroke-width="3.60"/>
<line x1="1409.00" y1="1391.97" x2="1409.00" y2="1421.55" stroke="#47652a" stroke-width="3.60"/>
<line x1="1428.20" y1="1393.38" x2="1428.20" y2="1403.24" stroke="#47652a" stroke-width="3.60"/>
<line x1="1448.50" y1="1411.69" x2="1448.50" y2="1427.18" stroke="#47652a" stroke-width="3.60"/>
<line x1="1467.60" y1="1404.65" x2="1467.60" y2="1413.10" stroke="#47652a" stroke-width="3.60"/>
<line x1="1487.90" y1="1422.96" x2="1487.90" y2="1441.27" stroke="#47652a" stroke-width="3.60"/>
<line x1="1507.60" y1="1428.03" x2="1507.60" y2="1453.38" stroke="#47652a" stroke-width="3.60"/>
<polyline points="1172.40,1197.60 1192.10,1221.50 1211.80,1240.70 1231.50,1265.80 1251.80,1277.90 1271.00,1276.50 1290.70,1308.90 1310.40,1340.70 1330.10,1345.50 1349.90,1337.60 1369.00,1368.90 1389.30,1399.00 1409.00,1406.90 1428.20,1398.20 1448.50,1416.80 1467.60,1408.90 1487.90,1432.00 1507.60,1440.70" fill="none" stroke="#47652a" stroke-width="4.60" stroke-linejoin="round"/>
<circle cx="1172.40" cy="1197.60" r="6.20" fill="#5a9033" stroke="#46682a" stroke-width="2.80"/>
<circle cx="1192.10" cy="1221.50" r="6.20" fill="#5a9033" stroke="#46682a" stroke-width="2.80"/>
<circle cx="1211.80" cy="1240.70" r="6.20" fill="#5a9033" stroke="#46682a" stroke-width="2.80"/>
<circle cx="1231.50" cy="1265.80" r="6.20" fill="#5a9033" stroke="#46682a" stroke-width="2.80"/>
<circle cx="1251.80" cy="1277.90" r="6.20" fill="#5a9033" stroke="#46682a" stroke-width="2.80"/>
<circle cx="1271.00" cy="1276.50" r="6.20" fill="#5a9033" stroke="#46682a" stroke-width="2.80"/>
<circle cx="1290.70" cy="1308.90" r="6.20" fill="#5a9033" stroke="#46682a" stroke-width="2.80"/>
<circle cx="1310.40" cy="1340.70" r="6.20" fill="#5a9033" stroke="#46682a" stroke-width="2.80"/>
<circle cx="1330.10" cy="1345.50" r="6.20" fill="#5a9033" stroke="#46682a" stroke-width="2.80"/>
<circle cx="1349.90" cy="1337.60" r="6.20" fill="#5a9033" stroke="#46682a" stroke-width="2.80"/>
<circle cx="1369.00" cy="1368.90" r="6.20" fill="#5a9033" stroke="#46682a" stroke-width="2.80"/>
<circle cx="1389.30" cy="1399.00" r="6.20" fill="#5a9033" stroke="#46682a" stroke-width="2.80"/>
<circle cx="1409.00" cy="1406.90" r="6.20" fill="#5a9033" stroke="#46682a" stroke-width="2.80"/>
<circle cx="1428.20" cy="1398.20" r="6.20" fill="#5a9033" stroke="#46682a" stroke-width="2.80"/>
<circle cx="1448.50" cy="1416.80" r="6.20" fill="#5a9033" stroke="#46682a" stroke-width="2.80"/>
<circle cx="1467.60" cy="1408.90" r="6.20" fill="#5a9033" stroke="#46682a" stroke-width="2.80"/>
<circle cx="1487.90" cy="1432.00" r="6.20" fill="#5a9033" stroke="#46682a" stroke-width="2.80"/>
<circle cx="1507.60" cy="1440.70" r="6.20" fill="#5a9033" stroke="#46682a" stroke-width="2.80"/>
<rect x="1155.50" y="1173.70" width="368.50" height="292.90" fill="none" stroke="#1a1a1a" stroke-width="2.00"/>
<line x1="1236.30" y1="1466.60" x2="1236.30" y2="1473.60" stroke="#1a1a1a" stroke-width="1.80"/>
<text x="1222.53" y="1503.20" style="font-family:'Liberation Sans', Arial, sans-serif;font-size:24.00px" fill="#1c1c1c">10</text>
<line x1="1359.55" y1="1466.60" x2="1359.55" y2="1473.60" stroke="#1a1a1a" stroke-width="1.80"/>
<text x="1346.08" y="1503.20" style="font-family:'Liberation Sans', Arial, sans-serif;font-size:24.00px" fill="#1c1c1c">20</text>
<line x1="1482.80" y1="1466.60" x2="1482.80" y2="1473.60" stroke="#1a1a1a" stroke-width="1.80"/>
<text x="1469.48" y="1503.20" style="font-family:'Liberation Sans', Arial, sans-serif;font-size:24.00px" fill="#1c1c1c">30</text>
<line x1="1147.50" y1="1437.60" x2="1155.50" y2="1437.60" stroke="#1a1a1a" stroke-width="1.80"/>
<text x="1100.84" y="1446.30" style="font-family:'Liberation Sans', Arial, sans-serif;font-size:24.00px" fill="#1c1c1c">0.2</text>
<line x1="1147.50" y1="1385.10" x2="1155.50" y2="1385.10" stroke="#1a1a1a" stroke-width="1.80"/>
<text x="1100.66" y="1393.80" style="font-family:'Liberation Sans', Arial, sans-serif;font-size:24.00px" fill="#1c1c1c">0.3</text>
<line x1="1147.50" y1="1332.60" x2="1155.50" y2="1332.60" stroke="#1a1a1a" stroke-width="1.80"/>
<text x="1100.30" y="1341.30" style="font-family:'Liberation Sans', Arial, sans-serif;font-size:24.00px" fill="#1c1c1c">0.4</text>
<line x1="1147.50" y1="1280.10" x2="1155.50" y2="1280.10" stroke="#1a1a1a" stroke-width="1.80"/>
<text x="1100.60" y="1288.80" style="font-family:'Liberation Sans', Arial, sans-serif;font-size:24.00px" fill="#1c1c1c">0.5</text>
<line x1="1147.50" y1="1227.60" x2="1155.50" y2="1227.60" stroke="#1a1a1a" stroke-width="1.80"/>
<text x="1100.66" y="1236.30" style="font-family:'Liberation Sans', Arial, sans-serif;font-size:24.00px" fill="#1c1c1c">0.6</text>
<line x1="1147.50" y1="1175.10" x2="1155.50" y2="1175.10" stroke="#1a1a1a" stroke-width="1.80"/>
<text x="1100.84" y="1183.80" style="font-family:'Liberation Sans', Arial, sans-serif;font-size:24.00px" fill="#1c1c1c">0.7</text>
<text x="1171.79" y="1538.50" style="font-family:'Liberation Sans', Arial, sans-serif;font-size:24.37px" fill="#1c1c1c">Data qubit trap light shift (MHz)</text>
<text x="-1398.29" y="1083.90" style="font-family:'Liberation Sans', Arial, sans-serif;font-size:24.17px" fill="#1c1c1c" transform="rotate(-90 0.00 0.00)">Data qubit</text>
<text x="-1279.91" y="1083.90" style="font-family:'Liberation Serif', 'DejaVu Serif', serif;font-size:24.24px;font-style:italic" fill="#1c1c1c" transform="rotate(-90 0.00 0.00)">P</text>
<text x="-1261.91" y="1087.55" style="font-family:'Liberation Serif', 'DejaVu Serif', serif;font-size:15.87px" fill="#1c1c1c" transform="rotate(-90 0.00 0.00)">err</text>
<line x1="1383.50" y1="1209.70" x2="1410.50" y2="1209.70" stroke="#47652a" stroke-width="3.60"/>
<line x1="1397.20" y1="1196.50" x2="1397.20" y2="1222.50" stroke="#47652a" stroke-width="3.60"/>
<circle cx="1397.20" cy="1209.70" r="6.20" fill="#5a9033" stroke="#46682a" stroke-width="2.80"/>
<text x="1411.89" y="1202.70" style="font-family:'Liberation Sans', Arial, sans-serif;font-size:26.15px" fill="#1c1c1c">20-ms</text>
<text x="1412.16" y="1227.20" style="font-family:'Liberation Sans', Arial, sans-serif;font-size:24.48px" fill="#1c1c1c">exposure</text>
<text x="1548.72" y="1047.80" style="font-family:'Liberation Sans', Arial, sans-serif;font-size:32.50px;font-weight:bold" fill="#111">h</text>
<rect x="1730.00" y="1176.20" width="119.70" height="292.10" fill="#335656" stroke="#1d2c2c" stroke-width="1.60"/>
<rect x="1928.50" y="1114.90" width="119.20" height="353.40" fill="#578686" stroke="#1d2c2c" stroke-width="1.60"/>
<line x1="1789.90" y1="1164.00" x2="1789.90" y2="1189.00" stroke="#1a1a1a" stroke-width="1.80"/>
<line x1="1987.50" y1="1102.40" x2="1987.50" y2="1128.20" stroke="#1a1a1a" stroke-width="1.80"/>
<rect x="1714.90" y="1043.50" width="348.90" height="424.80" fill="none" stroke="#1a1a1a" stroke-width="1.60"/>
<line x1="1706.20" y1="1468.30" x2="1723.30" y2="1468.30" stroke="#1a1a1a" stroke-width="1.60"/>
<line x1="2055.60" y1="1468.30" x2="2072.40" y2="1468.30" stroke="#1a1a1a" stroke-width="1.60"/>
<text x="1671.07" y="1479.50" style="font-family:'Liberation Sans', Arial, sans-serif;font-size:30.40px" fill="#1c1c1c">0</text>
<line x1="1706.20" y1="1383.30" x2="1723.30" y2="1383.30" stroke="#1a1a1a" stroke-width="1.60"/>
<line x1="2055.60" y1="1383.30" x2="2072.40" y2="1383.30" stroke="#1a1a1a" stroke-width="1.60"/>
<text x="1629.12" y="1394.50" style="font-family:'Liberation Sans', Arial, sans-serif;font-size:30.40px" fill="#1c1c1c">0.01</text>
<line x1="1706.20" y1="1298.30" x2="1723.30" y2="1298.30" stroke="#1a1a1a" stroke-width="1.60"/>
<line x1="2055.60" y1="1298.30" x2="2072.40" y2="1298.30" stroke="#1a1a1a" stroke-width="1.60"/>
<text x="1629.19" y="1309.50" style="font-family:'Liberation Sans', Arial, sans-serif;font-size:30.40px" fill="#1c1c1c">0.02</text>
<line x1="1706.20" y1="1213.30" x2="1723.30" y2="1213.30" stroke="#1a1a1a" stroke-width="1.60"/>
<line x1="2055.60" y1="1213.30" x2="2072.40" y2="1213.30" stroke="#1a1a1a" stroke-width="1.60"/>
<text x="1628.96" y="1224.50" style="font-family:'Liberation Sans', Arial, sans-serif;font-size:30.40px" fill="#1c1c1c">0.03</text>
<line x1="1706.20" y1="1128.30" x2="1723.30" y2="1128.30" stroke="#1a1a1a" stroke-width="1.60"/>
<line x1="2055.60" y1="1128.30" x2="2072.40" y2="1128.30" stroke="#1a1a1a" stroke-width="1.60"/>
<text x="1628.51" y="1139.50" style="font-family:'Liberation Sans', Arial, sans-serif;font-size:30.40px" fill="#1c1c1c">0.04</text>
<line x1="1706.20" y1="1043.30" x2="1723.30" y2="1043.30" stroke="#1a1a1a" stroke-width="1.60"/>
<line x1="2055.60" y1="1043.30" x2="2072.40" y2="1043.30" stroke="#1a1a1a" stroke-width="1.60"/>
<text x="1628.89" y="1054.50" style="font-family:'Liberation Sans', Arial, sans-serif;font-size:30.40px" fill="#1c1c1c">0.05</text>
<line x1="1789.90" y1="1459.30" x2="1789.90" y2="1477.20" stroke="#1a1a1a" stroke-width="1.60"/>
<line x1="1987.50" y1="1459.30" x2="1987.50" y2="1477.20" stroke="#1a1a1a" stroke-width="1.60"/>
<text x="1723.64" y="1073.80" style="font-family:'Liberation Sans', Arial, sans-serif;font-size:29.10px" fill="#1c1c1c">0.034(5)% per 500us</text>
<text x="1803.76" y="1107.40" style="font-family:'Liberation Sans', Arial, sans-serif;font-size:29.15px" fill="#1c1c1c">error rate</text>
<line x1="1914.20" y1="1124.00" x2="1914.20" y2="1168.00" stroke="#1a1a1a" stroke-width="1.50"/>
<polygon points="1914.20,1116.70 1917.70,1125.20 1910.70,1125.20" fill="#1a1a1a" stroke="none" stroke-width="0.00"/>
<polygon points="1914.20,1175.40 1910.70,1166.90 1917.70,1166.90" fill="#1a1a1a" stroke="none" stroke-width="0.00"/>
<text x="1730.61" y="1517.70" style="font-family:'Liberation Sans', Arial, sans-serif;font-size:32.58px" fill="#1c1c1c">No local</text>
<text x="1749.93" y="1548.80" style="font-family:'Liberation Sans', Arial, sans-serif;font-size:31.86px" fill="#1c1c1c">beam</text>
<text x="1882.92" y="1517.70" style="font-family:'Liberation Sans', Arial, sans-serif;font-size:31.28px" fill="#1c1c1c">Long (10.5 ms)</text>
<text x="1871.54" y="1548.80" style="font-family:'Liberation Sans', Arial, sans-serif;font-size:31.95px" fill="#1c1c1c">local illumination</text>
<text x="387.61" y="1095.90" style="font-family:'Liberation Sans', Arial, sans-serif;font-size:33.75px" fill="#1c1c1c">Characterization after long local imaging exposure</text>
<text x="-1399.87" y="1594.40" style="font-family:'Liberation Sans', Arial, sans-serif;font-size:32.37px" fill="#1c1c1c" transform="rotate(-90 0.00 0.00)">Data qubit</text>
<text x="-1245.05" y="1594.40" style="font-family:'Liberation Serif', 'DejaVu Serif', serif;font-size:31.00px;font-style:italic" fill="#1c1c1c" transform="rotate(-90 0.00 0.00)">P</text>
<text x="-1226.26" y="1595.90" style="font-family:'Liberation Serif', 'DejaVu Serif', serif;font-size:24.00px" fill="#1c1c1c" transform="rotate(-90 0.00 0.00)">err</text>
<text x="-1188.40" y="1594.40" style="font-family:'Liberation Sans', Arial, sans-serif;font-size:28.74px" fill="#1c1c1c" transform="rotate(-90 0.00 0.00)">(XY8)</text>
</svg>
</body></html>
